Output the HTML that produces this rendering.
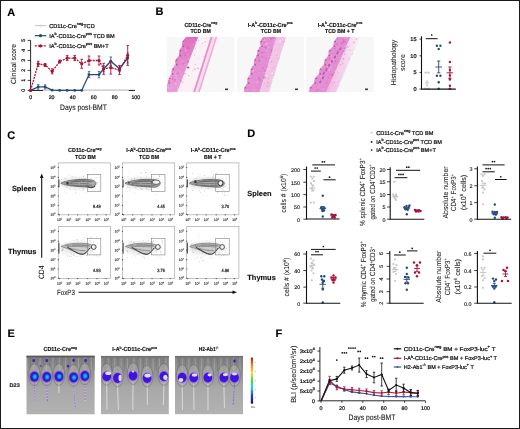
<!DOCTYPE html>
<html><head><meta charset="utf-8"><style>
html,body{margin:0;padding:0;background:#fff;}
svg{display:block;font-family:"Liberation Sans",sans-serif;will-change:transform;text-rendering:geometricPrecision;}
</style></head><body>
<svg width="520" height="429" viewBox="0 0 520 429">
<defs><path id="g10" d="M0.26 0V-0.27H0.86V-2.17L0.33 -1.78V-2.07L0.89 -2.48H1.16V-0.27H1.74V0Z M3.67 -1.24Q3.67 -0.62 3.46 -0.29Q3.25 0.04 2.85 0.04Q2.44 0.04 2.24 -0.29Q2.04 -0.62 2.04 -1.24Q2.04 -1.88 2.23 -2.2Q2.43 -2.51 2.86 -2.51Q3.27 -2.51 3.47 -2.19Q3.67 -1.87 3.67 -1.24ZM3.36 -1.24Q3.36 -1.78 3.25 -2.02Q3.13 -2.26 2.86 -2.26Q2.58 -2.26 2.46 -2.02Q2.34 -1.78 2.34 -1.24Q2.34 -0.71 2.46 -0.47Q2.59 -0.22 2.85 -0.22Q3.12 -0.22 3.24 -0.47Q3.36 -0.72 3.36 -1.24Z"/><path id="ge5" d="M1.17 -0.54Q1.17 -0.28 1.02 -0.13Q0.88 0.02 0.62 0.02Q0.4 0.02 0.26 -0.08Q0.13 -0.18 0.09 -0.37L0.29 -0.39Q0.36 -0.15 0.62 -0.15Q0.78 -0.15 0.87 -0.25Q0.96 -0.35 0.96 -0.53Q0.96 -0.69 0.87 -0.79Q0.78 -0.88 0.62 -0.88Q0.54 -0.88 0.47 -0.85Q0.4 -0.83 0.33 -0.76H0.14L0.19 -1.65H1.08V-1.47H0.37L0.34 -0.95Q0.47 -1.05 0.67 -1.05Q0.9 -1.05 1.03 -0.91Q1.17 -0.77 1.17 -0.54Z"/><path id="ge4" d="M0.98 -0.37V0H0.79V-0.37H0.05V-0.54L0.77 -1.65H0.98V-0.54H1.2V-0.37ZM0.79 -1.41Q0.79 -1.41 0.76 -1.35Q0.73 -1.3 0.72 -1.27L0.32 -0.65L0.25 -0.56L0.24 -0.54H0.79Z"/><path id="ge3" d="M1.17 -0.46Q1.17 -0.23 1.03 -0.1Q0.89 0.02 0.64 0.02Q0.4 0.02 0.26 -0.09Q0.11 -0.2 0.09 -0.42L0.29 -0.44Q0.33 -0.15 0.64 -0.15Q0.79 -0.15 0.87 -0.23Q0.96 -0.31 0.96 -0.46Q0.96 -0.6 0.86 -0.67Q0.76 -0.75 0.58 -0.75H0.46V-0.93H0.57Q0.74 -0.93 0.83 -1.01Q0.92 -1.08 0.92 -1.22Q0.92 -1.35 0.84 -1.43Q0.77 -1.5 0.62 -1.5Q0.49 -1.5 0.41 -1.43Q0.33 -1.36 0.32 -1.23L0.11 -1.25Q0.14 -1.45 0.27 -1.56Q0.41 -1.68 0.63 -1.68Q0.86 -1.68 0.99 -1.56Q1.12 -1.44 1.12 -1.24Q1.12 -1.08 1.04 -0.98Q0.96 -0.88 0.8 -0.85V-0.84Q0.97 -0.82 1.07 -0.72Q1.17 -0.61 1.17 -0.46Z"/><path id="ge2" d="M0.11 0V-0.15Q0.17 -0.29 0.25 -0.39Q0.34 -0.5 0.43 -0.58Q0.52 -0.67 0.6 -0.74Q0.69 -0.81 0.76 -0.88Q0.83 -0.96 0.88 -1.04Q0.92 -1.12 0.92 -1.22Q0.92 -1.35 0.85 -1.43Q0.77 -1.5 0.64 -1.5Q0.51 -1.5 0.43 -1.43Q0.34 -1.36 0.33 -1.22L0.12 -1.24Q0.15 -1.44 0.28 -1.56Q0.42 -1.68 0.64 -1.68Q0.87 -1.68 1 -1.56Q1.13 -1.44 1.13 -1.22Q1.13 -1.13 1.09 -1.03Q1.05 -0.94 0.96 -0.84Q0.88 -0.75 0.65 -0.55Q0.52 -0.44 0.44 -0.35Q0.37 -0.26 0.34 -0.18H1.15V0Z"/><path id="ge1" d="M0.17 0V-0.18H0.57V-1.45L0.22 -1.18V-1.38L0.59 -1.65H0.77V-0.18H1.16V0Z"/><path id="ge0" d="M1.18 -0.83Q1.18 -0.41 1.04 -0.19Q0.9 0.02 0.63 0.02Q0.36 0.02 0.22 -0.19Q0.09 -0.41 0.09 -0.83Q0.09 -1.25 0.22 -1.46Q0.35 -1.68 0.64 -1.68Q0.92 -1.68 1.05 -1.46Q1.18 -1.25 1.18 -0.83ZM0.98 -0.83Q0.98 -1.18 0.9 -1.34Q0.82 -1.5 0.64 -1.5Q0.45 -1.5 0.37 -1.35Q0.29 -1.19 0.29 -0.83Q0.29 -0.47 0.37 -0.31Q0.46 -0.15 0.63 -0.15Q0.81 -0.15 0.89 -0.32Q0.98 -0.48 0.98 -0.83Z"/></defs>
<rect width="520" height="429" fill="#fff"/>
<text x="7.2" y="16" font-size="11" font-weight="bold" fill="#000" stroke="#000" stroke-width="0.12">A</text>
<text x="155.6" y="15.4" font-size="11" font-weight="bold" fill="#000" stroke="#000" stroke-width="0.12">B</text>
<text x="7.2" y="138.8" font-size="11" font-weight="bold" fill="#000" stroke="#000" stroke-width="0.12">C</text>
<text x="247.2" y="136.5" font-size="11" font-weight="bold" fill="#000" stroke="#000" stroke-width="0.12">D</text>
<text x="7.6" y="337.2" font-size="11" font-weight="bold" fill="#000" stroke="#000" stroke-width="0.12">E</text>
<text x="275.4" y="336.8" font-size="11" font-weight="bold" fill="#000" stroke="#000" stroke-width="0.12">F</text>
<line x1="34.8" y1="25.7" x2="46.3" y2="25.7" stroke="#c4c4c4" stroke-width="1.0"/>
<circle cx="40.5" cy="25.7" r="0.9" fill="#c4c4c4"/>
<text x="49.2" y="27.7" font-size="5.6" textLength="45.5" lengthAdjust="spacingAndGlyphs" fill="#111" stroke="#111" stroke-width="0.22">CD11c-Cre<tspan font-size="3.8" dy="-2.8">neg</tspan><tspan dy="2.8">TCD</tspan></text>
<line x1="34.8" y1="35.7" x2="46.3" y2="35.7" stroke="#24497c" stroke-width="1.2"/>
<circle cx="40.5" cy="35.7" r="1.6" fill="#24497c"/>
<text x="49.2" y="37.7" font-size="5.6" textLength="65.5" lengthAdjust="spacingAndGlyphs" fill="#111" stroke="#111" stroke-width="0.22">IA<tspan font-size="3.8" dy="-2.8">b</tspan><tspan dy="2.8">-CD11c-Cre</tspan><tspan font-size="3.8" dy="-2.8">pos</tspan><tspan dy="2.8"> TCD BM</tspan></text>
<line x1="34.8" y1="45.9" x2="46.3" y2="45.9" stroke="#a8123a" stroke-width="1.2" stroke-dasharray="2 1"/>
<circle cx="40.5" cy="45.9" r="1.6" fill="#a8123a"/>
<text x="49.2" y="47.9" font-size="5.6" textLength="59.5" lengthAdjust="spacingAndGlyphs" fill="#111" stroke="#111" stroke-width="0.22">IA<tspan font-size="3.8" dy="-2.8">b</tspan><tspan dy="2.8">-CD11c-Cre</tspan><tspan font-size="3.8" dy="-2.8">pos</tspan><tspan dy="2.8"> BM+T</tspan></text>
<line x1="30.6" y1="40.3" x2="30.6" y2="90.80000000000001" stroke="#111" stroke-width="0.9"/>
<line x1="27.6" y1="90.4" x2="30.6" y2="90.4" stroke="#111" stroke-width="0.8"/>
<text x="23.6" y="90.4" font-size="5.2" text-anchor="middle" transform="rotate(-90 23.6 90.4)" fill="#111" stroke="#111" stroke-width="0.22" dominant-baseline="central">0</text>
<line x1="27.6" y1="80.4" x2="30.6" y2="80.4" stroke="#111" stroke-width="0.8"/>
<text x="23.6" y="80.4" font-size="5.2" text-anchor="middle" transform="rotate(-90 23.6 80.4)" fill="#111" stroke="#111" stroke-width="0.22" dominant-baseline="central">1</text>
<line x1="27.6" y1="70.4" x2="30.6" y2="70.4" stroke="#111" stroke-width="0.8"/>
<text x="23.6" y="70.4" font-size="5.2" text-anchor="middle" transform="rotate(-90 23.6 70.4)" fill="#111" stroke="#111" stroke-width="0.22" dominant-baseline="central">2</text>
<line x1="27.6" y1="60.400000000000006" x2="30.6" y2="60.400000000000006" stroke="#111" stroke-width="0.8"/>
<text x="23.6" y="60.400000000000006" font-size="5.2" text-anchor="middle" transform="rotate(-90 23.6 60.400000000000006)" fill="#111" stroke="#111" stroke-width="0.22" dominant-baseline="central">3</text>
<line x1="27.6" y1="50.400000000000006" x2="30.6" y2="50.400000000000006" stroke="#111" stroke-width="0.8"/>
<text x="23.6" y="50.400000000000006" font-size="5.2" text-anchor="middle" transform="rotate(-90 23.6 50.400000000000006)" fill="#111" stroke="#111" stroke-width="0.22" dominant-baseline="central">4</text>
<line x1="27.6" y1="40.400000000000006" x2="30.6" y2="40.400000000000006" stroke="#111" stroke-width="0.8"/>
<text x="23.6" y="40.400000000000006" font-size="5.2" text-anchor="middle" transform="rotate(-90 23.6 40.400000000000006)" fill="#111" stroke="#111" stroke-width="0.22" dominant-baseline="central">5</text>
<text x="30.6" y="98.5" font-size="5.2" text-anchor="middle" fill="#111" stroke="#111" stroke-width="0.22">0</text>
<text x="51.64" y="98.5" font-size="5.2" text-anchor="middle" fill="#111" stroke="#111" stroke-width="0.22">20</text>
<text x="72.68" y="98.5" font-size="5.2" text-anchor="middle" fill="#111" stroke="#111" stroke-width="0.22">40</text>
<text x="93.72" y="98.5" font-size="5.2" text-anchor="middle" fill="#111" stroke="#111" stroke-width="0.22">60</text>
<text x="114.75999999999999" y="98.5" font-size="5.2" text-anchor="middle" fill="#111" stroke="#111" stroke-width="0.22">80</text>
<text x="135.8" y="98.5" font-size="5.2" text-anchor="middle" fill="#111" stroke="#111" stroke-width="0.22">100</text>
<text x="16.3" y="64" font-size="7.4" text-anchor="middle" textLength="40" lengthAdjust="spacingAndGlyphs" transform="rotate(-90 16.3 64)" fill="#111" stroke="#111" stroke-width="0.06">Clinical score</text>
<text x="83.5" y="109.6" font-size="8" text-anchor="middle" textLength="46.8" lengthAdjust="spacingAndGlyphs" fill="#111" stroke="#111" stroke-width="0.08">Days post-BMT</text>
<line x1="30.6" y1="90.4" x2="135" y2="90.4" stroke="#111" stroke-width="1.0"/>
<polyline points="43.00,90.40 128.80,90.40" fill="none" stroke="#d0d0d0" stroke-width="1.1"/>
<polyline points="30.60,90.40 38.20,86.90 45.10,86.90 52.20,90.20 59.70,90.40 67.20,90.40 74.70,90.40 81.70,90.40 89.00,74.60 99.00,74.60 103.70,68.80 110.80,61.20 119.50,68.80 127.70,58.00" fill="none" stroke="#24497c" stroke-width="1.3"/>
<circle cx="30.6" cy="90.4" r="1.4" fill="#24497c"/>
<circle cx="38.2" cy="86.9" r="1.4" fill="#24497c"/>
<line x1="38.2" y1="84.7" x2="38.2" y2="89.10000000000001" stroke="#24497c" stroke-width="0.8"/>
<line x1="37.0" y1="84.7" x2="39.400000000000006" y2="84.7" stroke="#24497c" stroke-width="0.8"/>
<line x1="37.0" y1="89.10000000000001" x2="39.400000000000006" y2="89.10000000000001" stroke="#24497c" stroke-width="0.8"/>
<circle cx="45.1" cy="86.9" r="1.4" fill="#24497c"/>
<line x1="45.1" y1="84.9" x2="45.1" y2="88.9" stroke="#24497c" stroke-width="0.8"/>
<line x1="43.9" y1="84.9" x2="46.300000000000004" y2="84.9" stroke="#24497c" stroke-width="0.8"/>
<line x1="43.9" y1="88.9" x2="46.300000000000004" y2="88.9" stroke="#24497c" stroke-width="0.8"/>
<circle cx="52.2" cy="90.2" r="1.4" fill="#24497c"/>
<circle cx="59.7" cy="90.4" r="1.4" fill="#24497c"/>
<circle cx="67.2" cy="90.4" r="1.4" fill="#24497c"/>
<circle cx="74.7" cy="90.4" r="1.4" fill="#24497c"/>
<circle cx="81.7" cy="90.4" r="1.4" fill="#24497c"/>
<circle cx="89" cy="74.6" r="1.4" fill="#24497c"/>
<line x1="89" y1="71.6" x2="89" y2="77.6" stroke="#24497c" stroke-width="0.8"/>
<line x1="87.8" y1="71.6" x2="90.2" y2="71.6" stroke="#24497c" stroke-width="0.8"/>
<line x1="87.8" y1="77.6" x2="90.2" y2="77.6" stroke="#24497c" stroke-width="0.8"/>
<circle cx="99" cy="74.6" r="1.4" fill="#24497c"/>
<line x1="99" y1="71.39999999999999" x2="99" y2="77.8" stroke="#24497c" stroke-width="0.8"/>
<line x1="97.8" y1="71.39999999999999" x2="100.2" y2="71.39999999999999" stroke="#24497c" stroke-width="0.8"/>
<line x1="97.8" y1="77.8" x2="100.2" y2="77.8" stroke="#24497c" stroke-width="0.8"/>
<circle cx="103.7" cy="68.8" r="1.4" fill="#24497c"/>
<line x1="103.7" y1="65.8" x2="103.7" y2="71.8" stroke="#24497c" stroke-width="0.8"/>
<line x1="102.5" y1="65.8" x2="104.9" y2="65.8" stroke="#24497c" stroke-width="0.8"/>
<line x1="102.5" y1="71.8" x2="104.9" y2="71.8" stroke="#24497c" stroke-width="0.8"/>
<circle cx="110.8" cy="61.2" r="1.4" fill="#24497c"/>
<line x1="110.8" y1="57.0" x2="110.8" y2="65.4" stroke="#24497c" stroke-width="0.8"/>
<line x1="109.6" y1="57.0" x2="112.0" y2="57.0" stroke="#24497c" stroke-width="0.8"/>
<line x1="109.6" y1="65.4" x2="112.0" y2="65.4" stroke="#24497c" stroke-width="0.8"/>
<circle cx="119.5" cy="68.8" r="1.4" fill="#24497c"/>
<line x1="119.5" y1="65.8" x2="119.5" y2="71.8" stroke="#24497c" stroke-width="0.8"/>
<line x1="118.3" y1="65.8" x2="120.7" y2="65.8" stroke="#24497c" stroke-width="0.8"/>
<line x1="118.3" y1="71.8" x2="120.7" y2="71.8" stroke="#24497c" stroke-width="0.8"/>
<circle cx="127.7" cy="58" r="1.4" fill="#24497c"/>
<line x1="127.7" y1="53" x2="127.7" y2="63" stroke="#24497c" stroke-width="0.8"/>
<line x1="126.5" y1="53" x2="128.9" y2="53" stroke="#24497c" stroke-width="0.8"/>
<line x1="126.5" y1="63" x2="128.9" y2="63" stroke="#24497c" stroke-width="0.8"/>
<polyline points="30.60,90.40 38.20,63.80 45.10,65.00 52.20,71.30 59.70,61.50 67.20,58.10 74.70,58.10 81.70,63.80 89.00,60.50 99.00,60.50 103.70,68.80 110.80,67.60 119.50,70.10 127.70,55.40" fill="none" stroke="#a8123a" stroke-width="1.3" stroke-dasharray="2 1"/>
<circle cx="30.6" cy="90.4" r="1.6" fill="#a8123a"/>
<circle cx="38.2" cy="63.8" r="1.6" fill="#a8123a"/>
<line x1="38.2" y1="61.199999999999996" x2="38.2" y2="66.39999999999999" stroke="#a8123a" stroke-width="0.9"/>
<line x1="36.900000000000006" y1="61.199999999999996" x2="39.5" y2="61.199999999999996" stroke="#a8123a" stroke-width="0.9"/>
<line x1="36.900000000000006" y1="66.39999999999999" x2="39.5" y2="66.39999999999999" stroke="#a8123a" stroke-width="0.9"/>
<circle cx="45.1" cy="65.0" r="1.6" fill="#a8123a"/>
<line x1="45.1" y1="63.5" x2="45.1" y2="66.5" stroke="#a8123a" stroke-width="0.9"/>
<line x1="43.800000000000004" y1="63.5" x2="46.4" y2="63.5" stroke="#a8123a" stroke-width="0.9"/>
<line x1="43.800000000000004" y1="66.5" x2="46.4" y2="66.5" stroke="#a8123a" stroke-width="0.9"/>
<circle cx="52.2" cy="71.3" r="1.6" fill="#a8123a"/>
<line x1="52.2" y1="68.8" x2="52.2" y2="73.8" stroke="#a8123a" stroke-width="0.9"/>
<line x1="50.900000000000006" y1="68.8" x2="53.5" y2="68.8" stroke="#a8123a" stroke-width="0.9"/>
<line x1="50.900000000000006" y1="73.8" x2="53.5" y2="73.8" stroke="#a8123a" stroke-width="0.9"/>
<circle cx="59.7" cy="61.5" r="1.6" fill="#a8123a"/>
<line x1="59.7" y1="60.0" x2="59.7" y2="63.0" stroke="#a8123a" stroke-width="0.9"/>
<line x1="58.400000000000006" y1="60.0" x2="61.0" y2="60.0" stroke="#a8123a" stroke-width="0.9"/>
<line x1="58.400000000000006" y1="63.0" x2="61.0" y2="63.0" stroke="#a8123a" stroke-width="0.9"/>
<circle cx="67.2" cy="58.1" r="1.6" fill="#a8123a"/>
<line x1="67.2" y1="55.6" x2="67.2" y2="60.6" stroke="#a8123a" stroke-width="0.9"/>
<line x1="65.9" y1="55.6" x2="68.5" y2="55.6" stroke="#a8123a" stroke-width="0.9"/>
<line x1="65.9" y1="60.6" x2="68.5" y2="60.6" stroke="#a8123a" stroke-width="0.9"/>
<circle cx="74.7" cy="58.1" r="1.6" fill="#a8123a"/>
<line x1="74.7" y1="55.6" x2="74.7" y2="60.6" stroke="#a8123a" stroke-width="0.9"/>
<line x1="73.4" y1="55.6" x2="76.0" y2="55.6" stroke="#a8123a" stroke-width="0.9"/>
<line x1="73.4" y1="60.6" x2="76.0" y2="60.6" stroke="#a8123a" stroke-width="0.9"/>
<circle cx="81.7" cy="63.8" r="1.6" fill="#a8123a"/>
<line x1="81.7" y1="59.3" x2="81.7" y2="68.3" stroke="#a8123a" stroke-width="0.9"/>
<line x1="80.4" y1="59.3" x2="83.0" y2="59.3" stroke="#a8123a" stroke-width="0.9"/>
<line x1="80.4" y1="68.3" x2="83.0" y2="68.3" stroke="#a8123a" stroke-width="0.9"/>
<circle cx="89" cy="60.5" r="1.6" fill="#a8123a"/>
<line x1="89" y1="56.0" x2="89" y2="65.0" stroke="#a8123a" stroke-width="0.9"/>
<line x1="87.7" y1="56.0" x2="90.3" y2="56.0" stroke="#a8123a" stroke-width="0.9"/>
<line x1="87.7" y1="65.0" x2="90.3" y2="65.0" stroke="#a8123a" stroke-width="0.9"/>
<circle cx="99" cy="60.5" r="1.6" fill="#a8123a"/>
<line x1="99" y1="56.0" x2="99" y2="65.0" stroke="#a8123a" stroke-width="0.9"/>
<line x1="97.7" y1="56.0" x2="100.3" y2="56.0" stroke="#a8123a" stroke-width="0.9"/>
<line x1="97.7" y1="65.0" x2="100.3" y2="65.0" stroke="#a8123a" stroke-width="0.9"/>
<circle cx="103.7" cy="68.8" r="1.6" fill="#a8123a"/>
<line x1="103.7" y1="63.3" x2="103.7" y2="74.3" stroke="#a8123a" stroke-width="0.9"/>
<line x1="102.4" y1="63.3" x2="105.0" y2="63.3" stroke="#a8123a" stroke-width="0.9"/>
<line x1="102.4" y1="74.3" x2="105.0" y2="74.3" stroke="#a8123a" stroke-width="0.9"/>
<circle cx="110.8" cy="67.6" r="1.6" fill="#a8123a"/>
<line x1="110.8" y1="61.099999999999994" x2="110.8" y2="74.1" stroke="#a8123a" stroke-width="0.9"/>
<line x1="109.5" y1="61.099999999999994" x2="112.1" y2="61.099999999999994" stroke="#a8123a" stroke-width="0.9"/>
<line x1="109.5" y1="74.1" x2="112.1" y2="74.1" stroke="#a8123a" stroke-width="0.9"/>
<circle cx="119.5" cy="70.1" r="1.6" fill="#a8123a"/>
<line x1="119.5" y1="65.6" x2="119.5" y2="74.6" stroke="#a8123a" stroke-width="0.9"/>
<line x1="118.2" y1="65.6" x2="120.8" y2="65.6" stroke="#a8123a" stroke-width="0.9"/>
<line x1="118.2" y1="74.6" x2="120.8" y2="74.6" stroke="#a8123a" stroke-width="0.9"/>
<circle cx="127.7" cy="55.4" r="1.6" fill="#a8123a"/>
<line x1="127.7" y1="45.4" x2="127.7" y2="65.4" stroke="#a8123a" stroke-width="0.9"/>
<line x1="126.4" y1="45.4" x2="129.0" y2="45.4" stroke="#a8123a" stroke-width="0.9"/>
<line x1="126.4" y1="65.4" x2="129.0" y2="65.4" stroke="#a8123a" stroke-width="0.9"/>
<text x="200.9" y="26.900000000000002" font-size="5.8" text-anchor="middle" font-weight="bold" textLength="32.7" lengthAdjust="spacingAndGlyphs" fill="#111" stroke="#111" stroke-width="0.16">CD11c-Cre<tspan font-size="3.7" dy="-2.6">neg</tspan></text>
<text x="200.6" y="32.9" font-size="5.8" text-anchor="middle" font-weight="bold" textLength="20.4" lengthAdjust="spacingAndGlyphs" fill="#111" stroke="#111" stroke-width="0.16">TCD BM</text>
<text x="270.3" y="26.900000000000002" font-size="5.8" text-anchor="middle" font-weight="bold" textLength="45" lengthAdjust="spacingAndGlyphs" fill="#111" stroke="#111" stroke-width="0.16">I-A<tspan font-size="3.7" dy="-2.6">b</tspan><tspan dy="2.6">-CD11c-Cre</tspan><tspan font-size="3.7" dy="-2.6">pos</tspan></text>
<text x="270.9" y="32.9" font-size="5.8" text-anchor="middle" font-weight="bold" textLength="20.4" lengthAdjust="spacingAndGlyphs" fill="#111" stroke="#111" stroke-width="0.16">TCD BM</text>
<text x="340.1" y="26.900000000000002" font-size="5.8" text-anchor="middle" font-weight="bold" textLength="44.7" lengthAdjust="spacingAndGlyphs" fill="#111" stroke="#111" stroke-width="0.16">I-A<tspan font-size="3.7" dy="-2.6">b</tspan><tspan dy="2.6">-CD11c-Cre</tspan><tspan font-size="3.7" dy="-2.6">pos</tspan></text>
<text x="339.7" y="32.9" font-size="5.8" text-anchor="middle" font-weight="bold" textLength="29.4" lengthAdjust="spacingAndGlyphs" fill="#111" stroke="#111" stroke-width="0.16">TCD BM + T</text>
<defs>
<linearGradient id="pk1" x1="0" y1="0" x2="1" y2="0">
<stop offset="0" stop-color="#d85fb5"/><stop offset="0.5" stop-color="#e07cc6"/><stop offset="1" stop-color="#e596d2"/></linearGradient>
<linearGradient id="pk3" x1="0" y1="0" x2="1" y2="0">
<stop offset="0" stop-color="#e07ccc"/><stop offset="0.45" stop-color="#e596d8"/><stop offset="0.75" stop-color="#f0c4e6"/><stop offset="1" stop-color="#f6eef4"/></linearGradient>
<linearGradient id="band1" gradientUnits="userSpaceOnUse" x1="0" y1="37" x2="0" y2="92"><stop offset="0" stop-color="#e070c0"/><stop offset="0.5" stop-color="#e78ed0"/><stop offset="1" stop-color="#eaa4d8"/></linearGradient>
<linearGradient id="fade3" x1="0" y1="0" x2="1" y2="0"><stop offset="0" stop-color="#f0b8e2"/><stop offset="1" stop-color="#f6f0f5"/></linearGradient>
<filter id="htex" x="0" y="0" width="1" height="1"><feTurbulence type="fractalNoise" baseFrequency="0.45" numOctaves="2" seed="5" result="n"/><feColorMatrix in="n" type="matrix" values="0 0 0 0 0.70  0 0 0 0 0.22  0 0 0 0 0.62  2.2 0 0 0 -0.95" result="c"/><feComposite in="c" in2="SourceGraphic" operator="in"/></filter>
<filter id="blur1" x="-0.1" y="-0.1" width="1.2" height="1.2"><feGaussianBlur stdDeviation="0.6"/></filter>
<filter id="blur2" x="-0.2" y="-0.2" width="1.4" height="1.4"><feGaussianBlur stdDeviation="1.2"/></filter>
</defs>
<clipPath id="hc167"><rect x="167" y="37" width="67.5" height="55.3"/></clipPath>
<g clip-path="url(#hc167)">
<rect x="167" y="37" width="67.5" height="55.3" fill="#f8f7f8" stroke="none" stroke-width="0.8"/>
<polygon points="177.0,92.3 198.3,37.0 219.0,37.0 200.0,92.3" fill="#faf1f7" filter="url(#blur1)"/>
<circle cx="194.6" cy="54.9" r="0.73" fill="#e8a8d8" opacity="0.7"/>
<circle cx="182.9" cy="82.4" r="0.69" fill="#d898c8" opacity="0.7"/>
<circle cx="195.5" cy="48.9" r="0.61" fill="#e8a8d8" opacity="0.7"/>
<circle cx="205.2" cy="42.0" r="0.81" fill="#e8a8d8" opacity="0.7"/>
<circle cx="192.5" cy="89.4" r="0.69" fill="#e8a8d8" opacity="0.7"/>
<circle cx="194.7" cy="68.9" r="0.89" fill="#e8a8d8" opacity="0.7"/>
<circle cx="189.4" cy="67.8" r="0.61" fill="#d898c8" opacity="0.7"/>
<circle cx="202.3" cy="43.5" r="0.81" fill="#e8a8d8" opacity="0.7"/>
<circle cx="208.1" cy="42.7" r="0.49" fill="#e8a8d8" opacity="0.7"/>
<circle cx="188.0" cy="67.3" r="0.43" fill="#e8a8d8" opacity="0.7"/>
<circle cx="199.3" cy="64.5" r="0.79" fill="#f8f0f8" opacity="0.7"/>
<circle cx="195.8" cy="69.4" r="0.55" fill="#e8a8d8" opacity="0.7"/>
<circle cx="188.9" cy="75.7" r="0.69" fill="#d898c8" opacity="0.7"/>
<circle cx="195.3" cy="64.4" r="0.62" fill="#d898c8" opacity="0.7"/>
<circle cx="180.1" cy="91.2" r="0.61" fill="#f8f0f8" opacity="0.7"/>
<circle cx="205.4" cy="45.4" r="0.42" fill="#d898c8" opacity="0.7"/>
<circle cx="208.3" cy="41.3" r="0.79" fill="#f8f0f8" opacity="0.7"/>
<circle cx="198.6" cy="55.8" r="0.65" fill="#f8f0f8" opacity="0.7"/>
<circle cx="198.8" cy="40.8" r="0.53" fill="#d898c8" opacity="0.7"/>
<circle cx="185.5" cy="73.7" r="0.75" fill="#d898c8" opacity="0.7"/>
<circle cx="201.0" cy="69.0" r="0.62" fill="#d898c8" opacity="0.7"/>
<circle cx="204.5" cy="58.3" r="0.41" fill="#f8f0f8" opacity="0.7"/>
<circle cx="203.9" cy="56.7" r="0.65" fill="#e8a8d8" opacity="0.7"/>
<circle cx="184.8" cy="79.5" r="0.52" fill="#f8f0f8" opacity="0.7"/>
<circle cx="190.1" cy="87.7" r="0.48" fill="#f8f0f8" opacity="0.7"/>
<circle cx="206.0" cy="67.4" r="0.81" fill="#d898c8" opacity="0.7"/>
<circle cx="201.2" cy="52.4" r="0.58" fill="#f8f0f8" opacity="0.7"/>
<circle cx="181.4" cy="90.0" r="0.49" fill="#e8a8d8" opacity="0.7"/>
<circle cx="184.5" cy="73.4" r="0.82" fill="#e8a8d8" opacity="0.7"/>
<circle cx="192.8" cy="51.5" r="0.61" fill="#f8f0f8" opacity="0.7"/>
<circle cx="192.4" cy="70.7" r="0.46" fill="#d898c8" opacity="0.7"/>
<circle cx="193.0" cy="89.5" r="0.77" fill="#f8f0f8" opacity="0.7"/>
<circle cx="196.9" cy="86.7" r="0.84" fill="#d898c8" opacity="0.7"/>
<circle cx="198.6" cy="58.7" r="0.45" fill="#d898c8" opacity="0.7"/>
<circle cx="193.9" cy="59.1" r="0.89" fill="#f8f0f8" opacity="0.7"/>
<circle cx="202.0" cy="46.0" r="0.43" fill="#e8a8d8" opacity="0.7"/>
<circle cx="198.0" cy="68.3" r="0.87" fill="#d898c8" opacity="0.7"/>
<circle cx="215.9" cy="38.4" r="0.71" fill="#e8a8d8" opacity="0.7"/>
<circle cx="206.0" cy="72.1" r="0.7" fill="#f8f0f8" opacity="0.7"/>
<circle cx="213.5" cy="43.8" r="0.9" fill="#f8f0f8" opacity="0.7"/>
<line x1="213.8" y1="37" x2="196.3" y2="92.3" stroke="#f6dcec" stroke-width="4.5" filter="url(#blur1)"/>
<line x1="211.6" y1="37" x2="194.1" y2="92.3" stroke="#e690c8" stroke-width="1.8" filter="url(#blur1)"/>
<line x1="216.4" y1="37" x2="198.9" y2="92.3" stroke="#ecaad6" stroke-width="1.5" filter="url(#blur1)"/>
<polygon points="186.0,37.0 182.4,41.6 182.0,46.2 179.2,50.8 179.0,55.4 175.3,60.0 175.3,64.7 171.8,69.3 171.3,73.9 168.6,78.5 167.8,83.1 164.7,87.7 164.7,92.3 177.0,92.3 198.3,37.0" fill="url(#band1)" filter="url(#blur1)"/>
<polygon points="186.0,37.0 182.4,41.6 182.0,46.2 179.2,50.8 179.0,55.4 175.3,60.0 175.3,64.7 171.8,69.3 171.3,73.9 168.6,78.5 167.8,83.1 164.7,87.7 164.7,92.3 177.0,92.3 198.3,37.0" fill="#000" filter="url(#htex)" opacity="0.55"/>
<circle cx="172.7" cy="78.9" r="1.01" fill="#d860b8" opacity="0.5"/>
<circle cx="173.6" cy="75.5" r="0.79" fill="#f2b0e2" opacity="0.5"/>
<circle cx="180.4" cy="56.7" r="0.93" fill="#cc68bc" opacity="0.5"/>
<circle cx="179.6" cy="72.2" r="1.13" fill="#f2b0e2" opacity="0.5"/>
<circle cx="178.7" cy="81.6" r="1.09" fill="#f2b0e2" opacity="0.5"/>
<circle cx="187.4" cy="48.1" r="1.08" fill="#d860b8" opacity="0.5"/>
<circle cx="174.4" cy="80.7" r="0.65" fill="#cc68bc" opacity="0.5"/>
<circle cx="187.9" cy="61.7" r="1.29" fill="#cc68bc" opacity="0.5"/>
<circle cx="184.8" cy="41.5" r="0.88" fill="#cc68bc" opacity="0.5"/>
<circle cx="189.0" cy="48.3" r="1.22" fill="#d860b8" opacity="0.5"/>
<circle cx="183.5" cy="63.5" r="1.14" fill="#d860b8" opacity="0.5"/>
<circle cx="168.7" cy="83.2" r="0.81" fill="#f2b0e2" opacity="0.5"/>
<circle cx="177.2" cy="63.4" r="1.13" fill="#cc68bc" opacity="0.5"/>
<circle cx="195.7" cy="41.8" r="1.08" fill="#f6c4ea" opacity="0.5"/>
<circle cx="189.0" cy="59.2" r="1.08" fill="#f2b0e2" opacity="0.5"/>
<circle cx="164.0" cy="91.9" r="0.97" fill="#f6c4ea" opacity="0.5"/>
<circle cx="169.7" cy="81.6" r="1.16" fill="#f6c4ea" opacity="0.5"/>
<circle cx="175.6" cy="73.3" r="0.94" fill="#f2b0e2" opacity="0.5"/>
<circle cx="195.2" cy="38.2" r="1.08" fill="#d860b8" opacity="0.5"/>
<circle cx="186.2" cy="66.1" r="0.85" fill="#f2b0e2" opacity="0.5"/>
<circle cx="170.1" cy="82.7" r="0.7" fill="#cc68bc" opacity="0.5"/>
<circle cx="184.5" cy="64.7" r="0.76" fill="#f6c4ea" opacity="0.5"/>
<circle cx="167.9" cy="83.1" r="1.09" fill="#f6c4ea" opacity="0.5"/>
<circle cx="181.7" cy="73.6" r="0.91" fill="#f2b0e2" opacity="0.5"/>
<circle cx="180.6" cy="66.4" r="0.51" fill="#f6c4ea" opacity="0.5"/>
<circle cx="176.5" cy="79.9" r="1.12" fill="#f2b0e2" opacity="0.5"/>
<circle cx="187.7" cy="46.5" r="1.08" fill="#d860b8" opacity="0.5"/>
<circle cx="185.0" cy="55.0" r="0.94" fill="#d860b8" opacity="0.5"/>
<circle cx="166.8" cy="85.8" r="0.65" fill="#d860b8" opacity="0.5"/>
<circle cx="175.2" cy="79.7" r="0.95" fill="#d860b8" opacity="0.5"/>
<circle cx="183.7" cy="61.5" r="0.9" fill="#f2b0e2" opacity="0.5"/>
<circle cx="176.2" cy="75.3" r="0.93" fill="#f6c4ea" opacity="0.5"/>
<circle cx="177.5" cy="65.1" r="0.92" fill="#cc68bc" opacity="0.5"/>
<circle cx="177.2" cy="88.0" r="0.66" fill="#f6c4ea" opacity="0.5"/>
<circle cx="183.8" cy="44.6" r="0.85" fill="#d860b8" opacity="0.5"/>
<circle cx="176.4" cy="74.1" r="0.67" fill="#cc68bc" opacity="0.5"/>
<circle cx="180.2" cy="80.4" r="0.62" fill="#cc68bc" opacity="0.5"/>
<circle cx="193.7" cy="44.9" r="1.27" fill="#f2b0e2" opacity="0.5"/>
<circle cx="170.3" cy="78.3" r="1.21" fill="#f2b0e2" opacity="0.5"/>
<circle cx="175.0" cy="91.7" r="0.63" fill="#f6c4ea" opacity="0.5"/>
<circle cx="169.1" cy="92.0" r="0.84" fill="#cc68bc" opacity="0.5"/>
<circle cx="187.8" cy="54.6" r="0.52" fill="#f6c4ea" opacity="0.5"/>
<circle cx="175.9" cy="61.4" r="0.77" fill="#cc68bc" opacity="0.5"/>
<circle cx="174.9" cy="65.3" r="1.29" fill="#f2b0e2" opacity="0.5"/>
<circle cx="165.5" cy="90.7" r="0.71" fill="#d860b8" opacity="0.5"/>
<circle cx="168.0" cy="87.1" r="1.1" fill="#f6c4ea" opacity="0.5"/>
<circle cx="175.8" cy="84.0" r="1.26" fill="#f6c4ea" opacity="0.5"/>
<circle cx="194.1" cy="45.3" r="0.96" fill="#cc68bc" opacity="0.5"/>
<circle cx="184.0" cy="41.9" r="1.05" fill="#f6c4ea" opacity="0.5"/>
<circle cx="169.4" cy="86.5" r="0.51" fill="#d860b8" opacity="0.5"/>
<circle cx="168.9" cy="81.3" r="1.18" fill="#d860b8" opacity="0.5"/>
<circle cx="181.1" cy="51.6" r="0.51" fill="#f6c4ea" opacity="0.5"/>
<circle cx="168.7" cy="88.2" r="0.6" fill="#f2b0e2" opacity="0.5"/>
<circle cx="177.9" cy="88.9" r="0.71" fill="#f2b0e2" opacity="0.5"/>
<circle cx="184.9" cy="48.2" r="0.74" fill="#f2b0e2" opacity="0.5"/>
<circle cx="185.5" cy="53.0" r="0.64" fill="#cc68bc" opacity="0.5"/>
<circle cx="181.1" cy="81.4" r="0.53" fill="#d860b8" opacity="0.5"/>
<circle cx="176.7" cy="77.5" r="0.65" fill="#f6c4ea" opacity="0.5"/>
<circle cx="185.8" cy="50.6" r="1.03" fill="#f6c4ea" opacity="0.5"/>
<circle cx="178.2" cy="73.3" r="1.21" fill="#cc68bc" opacity="0.5"/>
<circle cx="183.8" cy="41.6" r="0.8" fill="#9a3a90" opacity="0.75"/>
<circle cx="183.4" cy="46.2" r="0.8" fill="#9a3a90" opacity="0.75"/>
<circle cx="180.6" cy="50.8" r="0.8" fill="#9a3a90" opacity="0.75"/>
<circle cx="180.4" cy="55.4" r="0.8" fill="#9a3a90" opacity="0.75"/>
<circle cx="176.7" cy="60.0" r="0.8" fill="#9a3a90" opacity="0.75"/>
<circle cx="176.7" cy="64.7" r="0.8" fill="#9a3a90" opacity="0.75"/>
<circle cx="173.2" cy="69.3" r="0.8" fill="#9a3a90" opacity="0.75"/>
<circle cx="172.7" cy="73.9" r="0.8" fill="#9a3a90" opacity="0.75"/>
<circle cx="170.0" cy="78.5" r="0.8" fill="#9a3a90" opacity="0.75"/>
<circle cx="169.2" cy="83.1" r="0.8" fill="#9a3a90" opacity="0.75"/>
<circle cx="166.1" cy="87.7" r="0.8" fill="#9a3a90" opacity="0.75"/>
</g>
<circle cx="188" cy="67.5" r="1.1" fill="#7a3070" opacity="0.8"/>
<rect x="225" y="88.5" width="3" height="1.6" fill="#2a4a2a" stroke="none" stroke-width="0.8"/>
<clipPath id="hc237"><rect x="237" y="37" width="67.2" height="55.3"/></clipPath>
<g clip-path="url(#hc237)">
<rect x="237" y="37" width="67.2" height="55.3" fill="#f8f7f8" stroke="none" stroke-width="0.8"/>
<polygon points="259.5,92.3 276.5,37.0 286.0,37.0 269.0,92.3" fill="#f0c6e4" filter="url(#blur1)"/>
<circle cx="274.1" cy="75.0" r="0.57" fill="#d898c8" opacity="0.7"/>
<circle cx="265.4" cy="77.3" r="0.89" fill="#e8a8d8" opacity="0.7"/>
<circle cx="262.4" cy="83.3" r="0.71" fill="#f8f0f8" opacity="0.7"/>
<circle cx="269.7" cy="60.8" r="0.73" fill="#f8f0f8" opacity="0.7"/>
<circle cx="268.1" cy="85.1" r="0.54" fill="#e8a8d8" opacity="0.7"/>
<circle cx="265.2" cy="75.3" r="0.49" fill="#f8f0f8" opacity="0.7"/>
<circle cx="271.4" cy="61.7" r="0.88" fill="#d898c8" opacity="0.7"/>
<circle cx="271.3" cy="54.9" r="0.84" fill="#e8a8d8" opacity="0.7"/>
<circle cx="270.4" cy="56.7" r="0.59" fill="#f8f0f8" opacity="0.7"/>
<circle cx="278.0" cy="52.4" r="0.52" fill="#e8a8d8" opacity="0.7"/>
<circle cx="282.7" cy="42.0" r="0.47" fill="#d898c8" opacity="0.7"/>
<circle cx="276.0" cy="39.3" r="0.55" fill="#e8a8d8" opacity="0.7"/>
<circle cx="284.2" cy="41.7" r="0.83" fill="#e8a8d8" opacity="0.7"/>
<circle cx="272.1" cy="73.4" r="0.84" fill="#f8f0f8" opacity="0.7"/>
<circle cx="270.4" cy="79.3" r="0.65" fill="#f8f0f8" opacity="0.7"/>
<circle cx="270.3" cy="77.0" r="0.42" fill="#d898c8" opacity="0.7"/>
<circle cx="267.3" cy="86.3" r="0.77" fill="#d898c8" opacity="0.7"/>
<circle cx="279.1" cy="44.7" r="0.65" fill="#e8a8d8" opacity="0.7"/>
<circle cx="268.0" cy="82.7" r="0.85" fill="#d898c8" opacity="0.7"/>
<circle cx="266.4" cy="89.9" r="0.44" fill="#e8a8d8" opacity="0.7"/>
<circle cx="277.7" cy="44.4" r="0.45" fill="#f8f0f8" opacity="0.7"/>
<circle cx="273.0" cy="67.9" r="0.71" fill="#d898c8" opacity="0.7"/>
<circle cx="274.8" cy="50.5" r="0.63" fill="#e8a8d8" opacity="0.7"/>
<circle cx="268.6" cy="78.4" r="0.67" fill="#d898c8" opacity="0.7"/>
<circle cx="274.6" cy="66.1" r="0.64" fill="#e8a8d8" opacity="0.7"/>
<circle cx="264.3" cy="83.8" r="0.78" fill="#e8a8d8" opacity="0.7"/>
<circle cx="273.2" cy="77.9" r="0.65" fill="#f8f0f8" opacity="0.7"/>
<circle cx="283.8" cy="41.2" r="0.54" fill="#e8a8d8" opacity="0.7"/>
<circle cx="272.1" cy="71.1" r="0.44" fill="#e8a8d8" opacity="0.7"/>
<circle cx="277.0" cy="55.3" r="0.75" fill="#d898c8" opacity="0.7"/>
<circle cx="267.0" cy="68.4" r="0.43" fill="#f8f0f8" opacity="0.7"/>
<circle cx="260.9" cy="90.8" r="0.51" fill="#f8f0f8" opacity="0.7"/>
<circle cx="276.5" cy="53.1" r="0.63" fill="#f8f0f8" opacity="0.7"/>
<circle cx="272.9" cy="79.4" r="0.67" fill="#f8f0f8" opacity="0.7"/>
<circle cx="268.8" cy="91.1" r="0.41" fill="#f8f0f8" opacity="0.7"/>
<circle cx="280.0" cy="41.2" r="0.9" fill="#f8f0f8" opacity="0.7"/>
<circle cx="278.6" cy="58.4" r="0.87" fill="#e8a8d8" opacity="0.7"/>
<circle cx="268.0" cy="69.2" r="0.66" fill="#f8f0f8" opacity="0.7"/>
<circle cx="282.0" cy="44.3" r="0.65" fill="#e8a8d8" opacity="0.7"/>
<circle cx="266.7" cy="75.9" r="0.85" fill="#f8f0f8" opacity="0.7"/>
<polygon points="263.3,37.0 259.9,41.6 260.6,46.2 257.2,50.8 256.9,55.4 254.1,60.0 253.8,64.7 250.5,69.3 250.3,73.9 247.3,78.5 247.3,83.1 244.1,87.7 244.2,92.3 259.5,92.3 276.5,37.0" fill="#e690d4" filter="url(#blur1)"/>
<polygon points="263.3,37.0 259.9,41.6 260.6,46.2 257.2,50.8 256.9,55.4 254.1,60.0 253.8,64.7 250.5,69.3 250.3,73.9 247.3,78.5 247.3,83.1 244.1,87.7 244.2,92.3 259.5,92.3 276.5,37.0" fill="#000" filter="url(#htex)" opacity="0.55"/>
<circle cx="247.8" cy="89.0" r="0.51" fill="#cc68bc" opacity="0.5"/>
<circle cx="258.7" cy="51.0" r="0.81" fill="#d860b8" opacity="0.5"/>
<circle cx="262.0" cy="56.9" r="0.72" fill="#d860b8" opacity="0.5"/>
<circle cx="258.0" cy="52.5" r="1.03" fill="#f2b0e2" opacity="0.5"/>
<circle cx="261.7" cy="50.8" r="0.91" fill="#f2b0e2" opacity="0.5"/>
<circle cx="260.0" cy="79.8" r="0.84" fill="#d860b8" opacity="0.5"/>
<circle cx="256.9" cy="81.9" r="1.23" fill="#f2b0e2" opacity="0.5"/>
<circle cx="249.6" cy="76.8" r="1.09" fill="#f6c4ea" opacity="0.5"/>
<circle cx="253.0" cy="71.0" r="1.2" fill="#f6c4ea" opacity="0.5"/>
<circle cx="274.6" cy="39.7" r="0.6" fill="#f6c4ea" opacity="0.5"/>
<circle cx="258.8" cy="59.9" r="0.7" fill="#cc68bc" opacity="0.5"/>
<circle cx="258.4" cy="59.5" r="0.89" fill="#f6c4ea" opacity="0.5"/>
<circle cx="269.4" cy="43.6" r="0.56" fill="#f6c4ea" opacity="0.5"/>
<circle cx="258.9" cy="67.4" r="0.77" fill="#f6c4ea" opacity="0.5"/>
<circle cx="262.5" cy="60.6" r="0.7" fill="#f2b0e2" opacity="0.5"/>
<circle cx="257.4" cy="55.9" r="0.69" fill="#cc68bc" opacity="0.5"/>
<circle cx="250.3" cy="81.8" r="0.52" fill="#f6c4ea" opacity="0.5"/>
<circle cx="266.3" cy="58.2" r="0.67" fill="#cc68bc" opacity="0.5"/>
<circle cx="257.0" cy="55.7" r="0.72" fill="#cc68bc" opacity="0.5"/>
<circle cx="267.3" cy="44.0" r="1.0" fill="#f2b0e2" opacity="0.5"/>
<circle cx="273.5" cy="42.1" r="0.81" fill="#f6c4ea" opacity="0.5"/>
<circle cx="259.0" cy="60.9" r="1.15" fill="#d860b8" opacity="0.5"/>
<circle cx="266.2" cy="44.0" r="1.11" fill="#f6c4ea" opacity="0.5"/>
<circle cx="251.9" cy="90.5" r="0.56" fill="#f6c4ea" opacity="0.5"/>
<circle cx="248.0" cy="90.8" r="0.59" fill="#f2b0e2" opacity="0.5"/>
<circle cx="273.5" cy="45.4" r="0.59" fill="#f6c4ea" opacity="0.5"/>
<circle cx="271.9" cy="41.7" r="0.5" fill="#f2b0e2" opacity="0.5"/>
<circle cx="271.4" cy="49.9" r="1.02" fill="#cc68bc" opacity="0.5"/>
<circle cx="254.2" cy="90.2" r="0.92" fill="#f6c4ea" opacity="0.5"/>
<circle cx="251.0" cy="75.6" r="0.56" fill="#f2b0e2" opacity="0.5"/>
<circle cx="258.5" cy="58.5" r="0.98" fill="#d860b8" opacity="0.5"/>
<circle cx="267.3" cy="66.7" r="0.72" fill="#cc68bc" opacity="0.5"/>
<circle cx="263.8" cy="72.6" r="0.88" fill="#f2b0e2" opacity="0.5"/>
<circle cx="252.6" cy="67.2" r="0.83" fill="#cc68bc" opacity="0.5"/>
<circle cx="264.3" cy="40.1" r="1.21" fill="#f6c4ea" opacity="0.5"/>
<circle cx="264.3" cy="41.5" r="0.84" fill="#cc68bc" opacity="0.5"/>
<circle cx="258.8" cy="49.5" r="0.77" fill="#f6c4ea" opacity="0.5"/>
<circle cx="261.5" cy="57.0" r="0.51" fill="#cc68bc" opacity="0.5"/>
<circle cx="256.3" cy="77.9" r="0.66" fill="#f2b0e2" opacity="0.5"/>
<circle cx="268.6" cy="54.2" r="0.68" fill="#f2b0e2" opacity="0.5"/>
<circle cx="270.4" cy="51.7" r="0.59" fill="#f6c4ea" opacity="0.5"/>
<circle cx="264.6" cy="70.7" r="0.89" fill="#d860b8" opacity="0.5"/>
<circle cx="246.8" cy="89.5" r="0.81" fill="#f2b0e2" opacity="0.5"/>
<circle cx="270.5" cy="38.3" r="0.83" fill="#d860b8" opacity="0.5"/>
<circle cx="265.5" cy="47.2" r="1.07" fill="#cc68bc" opacity="0.5"/>
<circle cx="264.0" cy="77.5" r="1.25" fill="#cc68bc" opacity="0.5"/>
<circle cx="268.3" cy="47.5" r="0.92" fill="#f6c4ea" opacity="0.5"/>
<circle cx="271.3" cy="38.8" r="0.8" fill="#cc68bc" opacity="0.5"/>
<circle cx="250.9" cy="91.5" r="0.59" fill="#d860b8" opacity="0.5"/>
<circle cx="262.3" cy="52.5" r="1.26" fill="#d860b8" opacity="0.5"/>
<circle cx="263.3" cy="68.0" r="0.8" fill="#cc68bc" opacity="0.5"/>
<circle cx="253.7" cy="82.5" r="0.54" fill="#f6c4ea" opacity="0.5"/>
<circle cx="266.6" cy="47.8" r="0.86" fill="#cc68bc" opacity="0.5"/>
<circle cx="268.8" cy="57.1" r="0.52" fill="#f6c4ea" opacity="0.5"/>
<circle cx="266.9" cy="50.7" r="0.82" fill="#f6c4ea" opacity="0.5"/>
<circle cx="262.8" cy="38.9" r="1.24" fill="#cc68bc" opacity="0.5"/>
<circle cx="259.8" cy="47.8" r="0.98" fill="#cc68bc" opacity="0.5"/>
<circle cx="271.3" cy="52.1" r="0.99" fill="#cc68bc" opacity="0.5"/>
<circle cx="259.0" cy="78.3" r="1.24" fill="#cc68bc" opacity="0.5"/>
<circle cx="273.0" cy="37.2" r="1.23" fill="#d860b8" opacity="0.5"/>
<circle cx="261.3" cy="41.6" r="0.8" fill="#9a3a90" opacity="0.75"/>
<circle cx="262.0" cy="46.2" r="0.8" fill="#9a3a90" opacity="0.75"/>
<circle cx="258.6" cy="50.8" r="0.8" fill="#9a3a90" opacity="0.75"/>
<circle cx="258.3" cy="55.4" r="0.8" fill="#9a3a90" opacity="0.75"/>
<circle cx="255.5" cy="60.0" r="0.8" fill="#9a3a90" opacity="0.75"/>
<circle cx="255.2" cy="64.7" r="0.8" fill="#9a3a90" opacity="0.75"/>
<circle cx="251.9" cy="69.3" r="0.8" fill="#9a3a90" opacity="0.75"/>
<circle cx="251.7" cy="73.9" r="0.8" fill="#9a3a90" opacity="0.75"/>
<circle cx="248.7" cy="78.5" r="0.8" fill="#9a3a90" opacity="0.75"/>
<circle cx="248.7" cy="83.1" r="0.8" fill="#9a3a90" opacity="0.75"/>
<circle cx="245.5" cy="87.7" r="0.8" fill="#9a3a90" opacity="0.75"/>
</g>
<rect x="295" y="88.5" width="3" height="1.6" fill="#2a4a2a" stroke="none" stroke-width="0.8"/>
<clipPath id="hc306"><rect x="306" y="37" width="68" height="55.3"/></clipPath>
<g clip-path="url(#hc306)">
<rect x="306" y="37" width="68" height="55.3" fill="#f8f7f8" stroke="none" stroke-width="0.8"/>
<polygon points="326.2,92.3 350.4,37.0 360.0,37.0 336.0,92.3" fill="url(#fade3)" filter="url(#blur1)"/>
<circle cx="352.1" cy="38.3" r="0.64" fill="#f8f0f8" opacity="0.7"/>
<circle cx="331.1" cy="89.8" r="0.53" fill="#f8f0f8" opacity="0.7"/>
<circle cx="332.0" cy="82.1" r="0.65" fill="#e8a8d8" opacity="0.7"/>
<circle cx="338.2" cy="81.4" r="0.81" fill="#e8a8d8" opacity="0.7"/>
<circle cx="338.9" cy="70.6" r="0.56" fill="#f8f0f8" opacity="0.7"/>
<circle cx="337.2" cy="80.3" r="0.66" fill="#f8f0f8" opacity="0.7"/>
<circle cx="334.6" cy="78.6" r="0.43" fill="#e8a8d8" opacity="0.7"/>
<circle cx="344.0" cy="63.6" r="0.48" fill="#f8f0f8" opacity="0.7"/>
<circle cx="338.7" cy="85.9" r="0.53" fill="#e8a8d8" opacity="0.7"/>
<circle cx="349.4" cy="48.5" r="0.89" fill="#f8f0f8" opacity="0.7"/>
<circle cx="347.5" cy="46.6" r="0.63" fill="#d898c8" opacity="0.7"/>
<circle cx="349.9" cy="50.0" r="0.79" fill="#e8a8d8" opacity="0.7"/>
<circle cx="334.4" cy="80.1" r="0.54" fill="#f8f0f8" opacity="0.7"/>
<circle cx="348.5" cy="57.6" r="0.5" fill="#e8a8d8" opacity="0.7"/>
<circle cx="348.2" cy="47.3" r="0.54" fill="#d898c8" opacity="0.7"/>
<circle cx="346.5" cy="47.4" r="0.53" fill="#e8a8d8" opacity="0.7"/>
<circle cx="340.4" cy="65.1" r="0.8" fill="#d898c8" opacity="0.7"/>
<circle cx="339.5" cy="62.7" r="0.4" fill="#e8a8d8" opacity="0.7"/>
<circle cx="339.0" cy="83.5" r="0.42" fill="#f8f0f8" opacity="0.7"/>
<circle cx="345.3" cy="49.9" r="0.7" fill="#d898c8" opacity="0.7"/>
<circle cx="346.4" cy="47.7" r="0.66" fill="#e8a8d8" opacity="0.7"/>
<circle cx="342.1" cy="61.8" r="0.79" fill="#e8a8d8" opacity="0.7"/>
<circle cx="353.6" cy="42.8" r="0.71" fill="#e8a8d8" opacity="0.7"/>
<circle cx="352.8" cy="39.1" r="0.42" fill="#f8f0f8" opacity="0.7"/>
<circle cx="356.5" cy="39.1" r="0.86" fill="#e8a8d8" opacity="0.7"/>
<circle cx="334.6" cy="82.3" r="0.59" fill="#d898c8" opacity="0.7"/>
<circle cx="344.8" cy="54.3" r="0.8" fill="#d898c8" opacity="0.7"/>
<circle cx="342.7" cy="63.7" r="0.8" fill="#d898c8" opacity="0.7"/>
<circle cx="343.3" cy="67.4" r="0.45" fill="#e8a8d8" opacity="0.7"/>
<circle cx="343.4" cy="59.0" r="0.89" fill="#d898c8" opacity="0.7"/>
<circle cx="352.2" cy="54.0" r="0.56" fill="#d898c8" opacity="0.7"/>
<circle cx="333.1" cy="85.9" r="0.41" fill="#f8f0f8" opacity="0.7"/>
<circle cx="338.6" cy="72.6" r="0.6" fill="#e8a8d8" opacity="0.7"/>
<circle cx="341.4" cy="61.0" r="0.46" fill="#e8a8d8" opacity="0.7"/>
<circle cx="349.1" cy="59.5" r="0.63" fill="#e8a8d8" opacity="0.7"/>
<circle cx="347.8" cy="44.2" r="0.47" fill="#f8f0f8" opacity="0.7"/>
<circle cx="354.2" cy="41.9" r="0.59" fill="#d898c8" opacity="0.7"/>
<circle cx="349.6" cy="46.5" r="0.48" fill="#e8a8d8" opacity="0.7"/>
<circle cx="329.1" cy="88.2" r="0.65" fill="#e8a8d8" opacity="0.7"/>
<circle cx="351.2" cy="53.7" r="0.42" fill="#f8f0f8" opacity="0.7"/>
<polygon points="337.6,37.0 333.9,41.6 333.1,46.2 328.6,50.8 328.4,55.4 324.4,60.0 323.8,64.7 319.5,69.3 318.9,73.9 314.7,78.5 313.9,83.1 309.5,87.7 309.0,92.3 326.2,92.3 350.4,37.0" fill="#e690d4" filter="url(#blur1)"/>
<polygon points="337.6,37.0 333.9,41.6 333.1,46.2 328.6,50.8 328.4,55.4 324.4,60.0 323.8,64.7 319.5,69.3 318.9,73.9 314.7,78.5 313.9,83.1 309.5,87.7 309.0,92.3 326.2,92.3 350.4,37.0" fill="#000" filter="url(#htex)" opacity="0.55"/>
<circle cx="321.4" cy="68.3" r="1.25" fill="#f2b0e2" opacity="0.5"/>
<circle cx="327.8" cy="58.2" r="0.7" fill="#f2b0e2" opacity="0.5"/>
<circle cx="343.5" cy="39.3" r="1.11" fill="#d860b8" opacity="0.5"/>
<circle cx="323.1" cy="73.9" r="0.81" fill="#f6c4ea" opacity="0.5"/>
<circle cx="331.1" cy="67.4" r="0.74" fill="#f6c4ea" opacity="0.5"/>
<circle cx="331.8" cy="54.0" r="0.81" fill="#cc68bc" opacity="0.5"/>
<circle cx="330.9" cy="61.7" r="0.52" fill="#f6c4ea" opacity="0.5"/>
<circle cx="330.5" cy="62.7" r="0.99" fill="#f6c4ea" opacity="0.5"/>
<circle cx="326.9" cy="83.3" r="0.82" fill="#d860b8" opacity="0.5"/>
<circle cx="339.3" cy="44.1" r="0.57" fill="#f6c4ea" opacity="0.5"/>
<circle cx="332.8" cy="64.9" r="0.53" fill="#f2b0e2" opacity="0.5"/>
<circle cx="344.7" cy="41.5" r="1.12" fill="#d860b8" opacity="0.5"/>
<circle cx="342.3" cy="40.0" r="0.8" fill="#f2b0e2" opacity="0.5"/>
<circle cx="337.2" cy="38.4" r="0.99" fill="#d860b8" opacity="0.5"/>
<circle cx="345.5" cy="47.7" r="0.89" fill="#f2b0e2" opacity="0.5"/>
<circle cx="329.2" cy="74.9" r="0.68" fill="#cc68bc" opacity="0.5"/>
<circle cx="323.5" cy="70.8" r="0.76" fill="#cc68bc" opacity="0.5"/>
<circle cx="319.0" cy="87.0" r="0.7" fill="#f6c4ea" opacity="0.5"/>
<circle cx="334.8" cy="48.5" r="0.9" fill="#cc68bc" opacity="0.5"/>
<circle cx="329.3" cy="57.6" r="0.82" fill="#cc68bc" opacity="0.5"/>
<circle cx="332.2" cy="74.6" r="0.63" fill="#cc68bc" opacity="0.5"/>
<circle cx="341.1" cy="43.4" r="1.01" fill="#cc68bc" opacity="0.5"/>
<circle cx="317.3" cy="90.4" r="0.92" fill="#d860b8" opacity="0.5"/>
<circle cx="337.5" cy="50.9" r="1.19" fill="#cc68bc" opacity="0.5"/>
<circle cx="343.9" cy="51.6" r="0.96" fill="#cc68bc" opacity="0.5"/>
<circle cx="328.7" cy="55.3" r="0.68" fill="#d860b8" opacity="0.5"/>
<circle cx="336.1" cy="53.4" r="0.75" fill="#cc68bc" opacity="0.5"/>
<circle cx="328.4" cy="77.5" r="0.68" fill="#cc68bc" opacity="0.5"/>
<circle cx="326.3" cy="71.1" r="0.91" fill="#d860b8" opacity="0.5"/>
<circle cx="336.4" cy="44.3" r="1.02" fill="#d860b8" opacity="0.5"/>
<circle cx="343.2" cy="40.0" r="0.74" fill="#cc68bc" opacity="0.5"/>
<circle cx="328.2" cy="66.5" r="0.74" fill="#f2b0e2" opacity="0.5"/>
<circle cx="340.1" cy="48.3" r="0.88" fill="#f2b0e2" opacity="0.5"/>
<circle cx="347.4" cy="37.8" r="1.07" fill="#f6c4ea" opacity="0.5"/>
<circle cx="343.1" cy="42.3" r="1.2" fill="#cc68bc" opacity="0.5"/>
<circle cx="329.5" cy="59.2" r="0.51" fill="#cc68bc" opacity="0.5"/>
<circle cx="329.2" cy="69.9" r="0.98" fill="#f6c4ea" opacity="0.5"/>
<circle cx="343.0" cy="50.7" r="0.54" fill="#d860b8" opacity="0.5"/>
<circle cx="328.9" cy="59.5" r="0.55" fill="#d860b8" opacity="0.5"/>
<circle cx="344.1" cy="37.7" r="1.25" fill="#f2b0e2" opacity="0.5"/>
<circle cx="333.0" cy="59.8" r="1.01" fill="#f6c4ea" opacity="0.5"/>
<circle cx="316.6" cy="82.0" r="0.75" fill="#cc68bc" opacity="0.5"/>
<circle cx="335.2" cy="71.6" r="1.08" fill="#f6c4ea" opacity="0.5"/>
<circle cx="316.5" cy="76.6" r="1.18" fill="#f6c4ea" opacity="0.5"/>
<circle cx="343.7" cy="41.5" r="0.64" fill="#d860b8" opacity="0.5"/>
<circle cx="338.9" cy="51.5" r="0.6" fill="#cc68bc" opacity="0.5"/>
<circle cx="320.9" cy="76.4" r="0.94" fill="#f6c4ea" opacity="0.5"/>
<circle cx="332.4" cy="74.9" r="1.28" fill="#cc68bc" opacity="0.5"/>
<circle cx="334.3" cy="72.5" r="0.67" fill="#d860b8" opacity="0.5"/>
<circle cx="344.9" cy="46.4" r="1.17" fill="#f2b0e2" opacity="0.5"/>
<circle cx="323.0" cy="89.2" r="0.76" fill="#f6c4ea" opacity="0.5"/>
<circle cx="331.1" cy="55.2" r="1.23" fill="#f6c4ea" opacity="0.5"/>
<circle cx="331.7" cy="63.1" r="0.51" fill="#d860b8" opacity="0.5"/>
<circle cx="335.6" cy="61.2" r="0.96" fill="#cc68bc" opacity="0.5"/>
<circle cx="320.9" cy="80.6" r="0.97" fill="#f2b0e2" opacity="0.5"/>
<circle cx="333.2" cy="45.0" r="0.59" fill="#f2b0e2" opacity="0.5"/>
<circle cx="329.2" cy="56.1" r="0.52" fill="#d860b8" opacity="0.5"/>
<circle cx="342.0" cy="44.7" r="0.53" fill="#d860b8" opacity="0.5"/>
<circle cx="316.9" cy="77.7" r="0.97" fill="#cc68bc" opacity="0.5"/>
<circle cx="344.9" cy="48.0" r="0.93" fill="#d860b8" opacity="0.5"/>
<circle cx="335.3" cy="41.6" r="0.8" fill="#9a3a90" opacity="0.75"/>
<circle cx="334.5" cy="46.2" r="0.8" fill="#9a3a90" opacity="0.75"/>
<circle cx="330.0" cy="50.8" r="0.8" fill="#9a3a90" opacity="0.75"/>
<circle cx="329.8" cy="55.4" r="0.8" fill="#9a3a90" opacity="0.75"/>
<circle cx="325.8" cy="60.0" r="0.8" fill="#9a3a90" opacity="0.75"/>
<circle cx="325.2" cy="64.7" r="0.8" fill="#9a3a90" opacity="0.75"/>
<circle cx="320.9" cy="69.3" r="0.8" fill="#9a3a90" opacity="0.75"/>
<circle cx="320.3" cy="73.9" r="0.8" fill="#9a3a90" opacity="0.75"/>
<circle cx="316.1" cy="78.5" r="0.8" fill="#9a3a90" opacity="0.75"/>
<circle cx="315.3" cy="83.1" r="0.8" fill="#9a3a90" opacity="0.75"/>
<circle cx="310.9" cy="87.7" r="0.8" fill="#9a3a90" opacity="0.75"/>
<ellipse cx="340.4" cy="48.8" rx="0.9" ry="1.6" fill="#a04098" opacity="0.7" transform="rotate(30 340.4 48.8)"/>
<ellipse cx="337.6" cy="52.9" rx="0.9" ry="1.6" fill="#a04098" opacity="0.7" transform="rotate(30 337.6 52.9)"/>
<ellipse cx="335.0" cy="57.0" rx="0.9" ry="1.6" fill="#a04098" opacity="0.7" transform="rotate(30 335.0 57.0)"/>
<ellipse cx="331.8" cy="61.2" rx="0.9" ry="1.6" fill="#a04098" opacity="0.7" transform="rotate(30 331.8 61.2)"/>
<ellipse cx="329.0" cy="65.3" rx="0.9" ry="1.6" fill="#a04098" opacity="0.7" transform="rotate(30 329.0 65.3)"/>
<ellipse cx="326.4" cy="69.4" rx="0.9" ry="1.6" fill="#a04098" opacity="0.7" transform="rotate(30 326.4 69.4)"/>
<ellipse cx="323.6" cy="73.5" rx="0.9" ry="1.6" fill="#a04098" opacity="0.7" transform="rotate(30 323.6 73.5)"/>
<ellipse cx="322.9" cy="77.7" rx="0.9" ry="1.6" fill="#a04098" opacity="0.7" transform="rotate(30 322.9 77.7)"/>
<ellipse cx="320.3" cy="81.8" rx="0.9" ry="1.6" fill="#a04098" opacity="0.7" transform="rotate(30 320.3 81.8)"/>
</g>
<rect x="365" y="88.5" width="3" height="1.6" fill="#2a4a2a" stroke="none" stroke-width="0.8"/>
<line x1="419.5" y1="89.1" x2="421.5" y2="89.1" stroke="#111" stroke-width="0.8"/>
<text x="416.5" y="91.1" font-size="5.6" text-anchor="end" fill="#111" stroke="#111" stroke-width="0.22">0</text>
<line x1="419.5" y1="72.44999999999999" x2="421.5" y2="72.44999999999999" stroke="#111" stroke-width="0.8"/>
<text x="416.5" y="74.44999999999999" font-size="5.6" text-anchor="end" fill="#111" stroke="#111" stroke-width="0.22">5</text>
<line x1="419.5" y1="55.8" x2="421.5" y2="55.8" stroke="#111" stroke-width="0.8"/>
<text x="416.5" y="57.8" font-size="5.6" text-anchor="end" fill="#111" stroke="#111" stroke-width="0.22">10</text>
<line x1="419.5" y1="39.14999999999999" x2="421.5" y2="39.14999999999999" stroke="#111" stroke-width="0.8"/>
<text x="416.5" y="41.14999999999999" font-size="5.6" text-anchor="end" fill="#111" stroke="#111" stroke-width="0.22">15</text>
<text x="395.8" y="62.6" font-size="7.2" text-anchor="middle" textLength="45.5" lengthAdjust="spacingAndGlyphs" transform="rotate(-90 395.8 62.6)" fill="#111" stroke="#111" stroke-width="0.06">Histopathology</text>
<text x="405" y="62.6" font-size="7.2" text-anchor="middle" textLength="17" lengthAdjust="spacingAndGlyphs" transform="rotate(-90 405 62.6)" fill="#111" stroke="#111" stroke-width="0.06">score</text>
<line x1="425.7" y1="38.7" x2="437.6" y2="38.7" stroke="#111" stroke-width="1"/>
<circle cx="431.7" cy="35.0" r="0.85" fill="#111"/>
<circle cx="425.7" cy="72.6" r="1.18" fill="#c4c4c4"/>
<circle cx="428.5" cy="72.6" r="1.18" fill="#c4c4c4"/>
<circle cx="425.5" cy="88.6" r="1.18" fill="#c4c4c4"/>
<circle cx="428.5" cy="88.6" r="1.18" fill="#c4c4c4"/>
<line x1="424.90000000000003" y1="83" x2="429.3" y2="83" stroke="#c4c4c4" stroke-width="0.9"/>
<line x1="427.1" y1="81" x2="427.1" y2="85.8" stroke="#c4c4c4" stroke-width="0.9"/>
<line x1="425.8" y1="81" x2="428.40000000000003" y2="81" stroke="#c4c4c4" stroke-width="0.9"/>
<line x1="425.8" y1="85.8" x2="428.40000000000003" y2="85.8" stroke="#c4c4c4" stroke-width="0.9"/>
<circle cx="436.9" cy="45.7" r="1.18" fill="#24497c"/>
<circle cx="440.4" cy="45.7" r="1.18" fill="#24497c"/>
<circle cx="438.7" cy="49" r="1.18" fill="#24497c"/>
<circle cx="436.9" cy="75.8" r="1.18" fill="#24497c"/>
<circle cx="440.4" cy="75.8" r="1.18" fill="#24497c"/>
<circle cx="438.7" cy="82.3" r="1.18" fill="#24497c"/>
<circle cx="438.7" cy="88.6" r="1.18" fill="#24497c"/>
<line x1="435.4" y1="67" x2="442.0" y2="67" stroke="#24497c" stroke-width="0.9"/>
<line x1="438.7" y1="61" x2="438.7" y2="72.8" stroke="#24497c" stroke-width="0.9"/>
<line x1="437.09999999999997" y1="61" x2="440.3" y2="61" stroke="#24497c" stroke-width="0.9"/>
<line x1="437.09999999999997" y1="72.8" x2="440.3" y2="72.8" stroke="#24497c" stroke-width="0.9"/>
<circle cx="449.9" cy="42.5" r="1.18" fill="#a8123a"/>
<circle cx="449.9" cy="62" r="1.18" fill="#a8123a"/>
<circle cx="449.9" cy="75.4" r="1.18" fill="#a8123a"/>
<circle cx="449.9" cy="79.6" r="1.18" fill="#a8123a"/>
<circle cx="449.9" cy="85.8" r="1.18" fill="#a8123a"/>
<circle cx="449.9" cy="88.6" r="1.18" fill="#a8123a"/>
<circle cx="449.9" cy="70" r="1.18" fill="#a8123a"/>
<line x1="446.7" y1="72.8" x2="453.09999999999997" y2="72.8" stroke="#a8123a" stroke-width="0.9"/>
<line x1="449.9" y1="67" x2="449.9" y2="78.4" stroke="#a8123a" stroke-width="0.9"/>
<line x1="448.29999999999995" y1="67" x2="451.5" y2="67" stroke="#a8123a" stroke-width="0.9"/>
<line x1="448.29999999999995" y1="78.4" x2="451.5" y2="78.4" stroke="#a8123a" stroke-width="0.9"/>
<text x="84.8" y="152.29999999999998" font-size="5.8" text-anchor="middle" font-weight="bold" textLength="33.4" lengthAdjust="spacingAndGlyphs" fill="#111" stroke="#111" stroke-width="0.16">CD11c-Cre<tspan font-size="3.7" dy="-2.6">neg</tspan></text>
<text x="85.4" y="158.6" font-size="5.8" text-anchor="middle" font-weight="bold" textLength="20.8" lengthAdjust="spacingAndGlyphs" fill="#111" stroke="#111" stroke-width="0.16">TCD BM</text>
<text x="148.8" y="152.29999999999998" font-size="5.8" text-anchor="middle" font-weight="bold" textLength="45" lengthAdjust="spacingAndGlyphs" fill="#111" stroke="#111" stroke-width="0.16">I-A<tspan font-size="3.7" dy="-2.6">b</tspan><tspan dy="2.6">-CD11c-Cre</tspan><tspan font-size="3.7" dy="-2.6">pos</tspan></text>
<text x="149.1" y="158.6" font-size="5.8" text-anchor="middle" font-weight="bold" textLength="20.2" lengthAdjust="spacingAndGlyphs" fill="#111" stroke="#111" stroke-width="0.16">TCD BM</text>
<text x="213.3" y="152.29999999999998" font-size="5.8" text-anchor="middle" font-weight="bold" textLength="45" lengthAdjust="spacingAndGlyphs" fill="#111" stroke="#111" stroke-width="0.16">I-A<tspan font-size="3.7" dy="-2.6">b</tspan><tspan dy="2.6">-CD11c-Cre</tspan><tspan font-size="3.7" dy="-2.6">pos</tspan></text>
<text x="212.7" y="158.6" font-size="5.8" text-anchor="middle" font-weight="bold" textLength="17.3" lengthAdjust="spacingAndGlyphs" fill="#111" stroke="#111" stroke-width="0.16">BM + T</text>
<rect x="58.3" y="162.9" width="52.2" height="51.9" fill="#fff" stroke="#a8a8a8" stroke-width="0.7"/>
<circle cx="58.3" cy="167.6" r="0.6" fill="#444"/>
<g fill="#1a1a1a" stroke="#1a1a1a" stroke-width="0.12"><use href="#g10" x="50.36" y="168.90"/><use href="#ge5" x="54.17" y="167.50"/></g>
<circle cx="58.3" cy="177.4" r="0.6" fill="#444"/>
<g fill="#1a1a1a" stroke="#1a1a1a" stroke-width="0.12"><use href="#g10" x="50.36" y="178.70"/><use href="#ge4" x="54.17" y="177.30"/></g>
<circle cx="58.3" cy="186.5" r="0.6" fill="#444"/>
<g fill="#1a1a1a" stroke="#1a1a1a" stroke-width="0.12"><use href="#g10" x="50.36" y="187.80"/><use href="#ge3" x="54.17" y="186.40"/></g>
<circle cx="58.3" cy="196.0" r="0.6" fill="#444"/>
<g fill="#1a1a1a" stroke="#1a1a1a" stroke-width="0.12"><use href="#g10" x="50.36" y="197.30"/><use href="#ge2" x="54.17" y="195.90"/></g>
<circle cx="58.3" cy="205.3" r="0.6" fill="#444"/>
<g fill="#1a1a1a" stroke="#1a1a1a" stroke-width="0.12"><use href="#g10" x="50.36" y="206.60"/><use href="#ge1" x="54.17" y="205.20"/></g>
<circle cx="58.3" cy="214.4" r="0.6" fill="#444"/>
<g fill="#1a1a1a" stroke="#1a1a1a" stroke-width="0.12"><use href="#g10" x="50.36" y="215.70"/><use href="#ge0" x="54.17" y="214.30"/></g>
<circle cx="59.3" cy="214.8" r="0.6" fill="#444"/>
<g fill="#1a1a1a" stroke="#1a1a1a" stroke-width="0.12"><use href="#g10" x="56.96" y="221.00"/><use href="#ge0" x="60.77" y="219.60"/></g>
<circle cx="68.6" cy="214.8" r="0.6" fill="#444"/>
<g fill="#1a1a1a" stroke="#1a1a1a" stroke-width="0.12"><use href="#g10" x="66.26" y="221.00"/><use href="#ge1" x="70.07" y="219.60"/></g>
<circle cx="77.69999999999999" cy="214.8" r="0.6" fill="#444"/>
<g fill="#1a1a1a" stroke="#1a1a1a" stroke-width="0.12"><use href="#g10" x="75.36" y="221.00"/><use href="#ge2" x="79.17" y="219.60"/></g>
<circle cx="87.8" cy="214.8" r="0.6" fill="#444"/>
<g fill="#1a1a1a" stroke="#1a1a1a" stroke-width="0.12"><use href="#g10" x="85.46" y="221.00"/><use href="#ge3" x="89.27" y="219.60"/></g>
<circle cx="96.9" cy="214.8" r="0.6" fill="#444"/>
<g fill="#1a1a1a" stroke="#1a1a1a" stroke-width="0.12"><use href="#g10" x="94.56" y="221.00"/><use href="#ge4" x="98.37" y="219.60"/></g>
<circle cx="106.1" cy="214.8" r="0.6" fill="#444"/>
<g fill="#1a1a1a" stroke="#1a1a1a" stroke-width="0.12"><use href="#g10" x="103.76" y="221.00"/><use href="#ge5" x="107.57" y="219.60"/></g>
<g transform="translate(58.3,162.9)"><ellipse cx="20" cy="20.3" rx="19" ry="6.5" fill="#ececec" filter="url(#blur2)"/><path d="M2.5,20.2 C8,17.6 18,16.2 28,16.5 C34,16.7 37,18 37.6,20 C37.8,22.5 35,24.6 30,24.3 C22,23.8 12,23.2 7,21.9 C4.5,21.3 3,20.7 2.5,20.2 Z" fill="#acacac" stroke="#555" stroke-width="0.7"/><path d="M6,20.2 C14,18.4 24,18 33,19 M8,21.5 C16,22.5 26,22.8 34,22.1 M12,19.3 C20,17.8 28,17.6 35,18.6 M9,20.8 C16,20.2 24,20.4 31,20.9 M14,22.6 C20,23.4 26,23.6 31,23.2 M16,17.6 C22,17 28,17 32,17.5" fill="none" stroke="#4a4a4a" stroke-width="0.5"/><circle cx="9.2" cy="20.1" r="1.3" fill="#333"/><path d="M28.2,23.2 C31,25.2 35,25.2 36.8,23.4" fill="none" stroke="#333" stroke-width="1"/><line x1="0.6" y1="16.5" x2="0.6" y2="24.5" stroke="#333" stroke-width="1.0"/><circle cx="34.2" cy="20.6" r="0.49" fill="#c4c4c4" opacity="0.8"/><circle cx="21.0" cy="15.0" r="0.49" fill="#c4c4c4" opacity="0.8"/><circle cx="16.2" cy="22.9" r="0.32" fill="#b0b0b0" opacity="0.8"/><circle cx="31.0" cy="17.7" r="0.50" fill="#c4c4c4" opacity="0.8"/><circle cx="22.7" cy="18.3" r="0.33" fill="#b0b0b0" opacity="0.8"/><circle cx="30.0" cy="12.8" r="0.37" fill="#c4c4c4" opacity="0.8"/><circle cx="6.7" cy="15.3" r="0.49" fill="#b0b0b0" opacity="0.8"/><circle cx="20.6" cy="23.1" r="0.27" fill="#c4c4c4" opacity="0.8"/><circle cx="37.0" cy="22.7" r="0.43" fill="#888" opacity="0.8"/><circle cx="32.0" cy="19.0" r="0.40" fill="#9a9a9a" opacity="0.8"/><circle cx="33.6" cy="15.4" r="0.30" fill="#9a9a9a" opacity="0.8"/><circle cx="24.0" cy="27.7" r="0.45" fill="#b0b0b0" opacity="0.8"/><circle cx="8.3" cy="18.6" r="0.47" fill="#c4c4c4" opacity="0.8"/><circle cx="39.9" cy="19.5" r="0.28" fill="#888" opacity="0.8"/><circle cx="23.4" cy="18.5" r="0.49" fill="#b0b0b0" opacity="0.8"/><circle cx="25.3" cy="13.8" r="0.36" fill="#c4c4c4" opacity="0.8"/><circle cx="25.1" cy="15.0" r="0.30" fill="#c4c4c4" opacity="0.8"/><circle cx="33.4" cy="25.5" r="0.40" fill="#9a9a9a" opacity="0.8"/><circle cx="27.3" cy="17.9" r="0.47" fill="#b0b0b0" opacity="0.8"/><circle cx="37.2" cy="20.7" r="0.47" fill="#9a9a9a" opacity="0.8"/><circle cx="37.2" cy="14.2" r="0.38" fill="#c4c4c4" opacity="0.8"/><circle cx="11.7" cy="19.2" r="0.47" fill="#b0b0b0" opacity="0.8"/><circle cx="24.8" cy="27.0" r="0.37" fill="#888" opacity="0.8"/><circle cx="26.7" cy="18.1" r="0.27" fill="#c4c4c4" opacity="0.8"/><circle cx="25.7" cy="12.7" r="0.31" fill="#b0b0b0" opacity="0.8"/><circle cx="30.1" cy="21.0" r="0.43" fill="#9a9a9a" opacity="0.8"/><circle cx="16.8" cy="22.7" r="0.28" fill="#9a9a9a" opacity="0.8"/><circle cx="8.4" cy="24.1" r="0.26" fill="#b0b0b0" opacity="0.8"/><circle cx="24.2" cy="25.9" r="0.26" fill="#9a9a9a" opacity="0.8"/><circle cx="26.5" cy="16.7" r="0.35" fill="#9a9a9a" opacity="0.8"/><circle cx="16.7" cy="21.6" r="0.30" fill="#9a9a9a" opacity="0.8"/><circle cx="38.9" cy="20.1" r="0.37" fill="#9a9a9a" opacity="0.8"/><circle cx="29.9" cy="28.3" r="0.41" fill="#888" opacity="0.8"/><circle cx="33.9" cy="23.7" r="0.31" fill="#9a9a9a" opacity="0.8"/><circle cx="26.9" cy="18.2" r="0.26" fill="#888" opacity="0.8"/><circle cx="6.7" cy="22.3" r="0.30" fill="#888" opacity="0.8"/><circle cx="16.3" cy="19.3" r="0.42" fill="#b0b0b0" opacity="0.8"/><circle cx="10.5" cy="12.2" r="0.45" fill="#9a9a9a" opacity="0.8"/><circle cx="8.9" cy="23.0" r="0.40" fill="#9a9a9a" opacity="0.8"/><circle cx="19.4" cy="25.5" r="0.25" fill="#b0b0b0" opacity="0.8"/><circle cx="28.2" cy="29.6" r="0.41" fill="#c4c4c4" opacity="0.8"/><circle cx="17.4" cy="14.5" r="0.29" fill="#c4c4c4" opacity="0.8"/><circle cx="28.6" cy="18.1" r="0.39" fill="#9a9a9a" opacity="0.8"/><circle cx="8.0" cy="20.7" r="0.34" fill="#888" opacity="0.8"/><circle cx="13.7" cy="13.4" r="0.43" fill="#b0b0b0" opacity="0.8"/><circle cx="17.4" cy="29.3" r="0.46" fill="#888" opacity="0.8"/><circle cx="6.0" cy="15.2" r="0.31" fill="#b0b0b0" opacity="0.8"/><circle cx="26.6" cy="15.5" r="0.43" fill="#888" opacity="0.8"/><circle cx="27.9" cy="21.3" r="0.44" fill="#888" opacity="0.8"/><circle cx="29.2" cy="19.3" r="0.36" fill="#b0b0b0" opacity="0.8"/><circle cx="12.6" cy="23.3" r="0.48" fill="#888" opacity="0.8"/><circle cx="25.3" cy="25.8" r="0.47" fill="#9a9a9a" opacity="0.8"/><circle cx="21.3" cy="18.1" r="0.30" fill="#888" opacity="0.8"/><circle cx="40.0" cy="27.0" r="0.46" fill="#9a9a9a" opacity="0.8"/><circle cx="7.8" cy="30.2" r="0.33" fill="#888" opacity="0.8"/><circle cx="10.9" cy="21.3" r="0.50" fill="#9a9a9a" opacity="0.8"/><circle cx="28.0" cy="17.5" r="0.47" fill="#b0b0b0" opacity="0.8"/><circle cx="13.4" cy="18.4" r="0.28" fill="#b0b0b0" opacity="0.8"/><circle cx="34.6" cy="18.3" r="0.48" fill="#c4c4c4" opacity="0.8"/><circle cx="32.6" cy="21.8" r="0.47" fill="#9a9a9a" opacity="0.8"/><circle cx="7.9" cy="14.4" r="0.28" fill="#c4c4c4" opacity="0.8"/><circle cx="8.7" cy="19.5" r="0.26" fill="#9a9a9a" opacity="0.8"/><circle cx="10.6" cy="20.1" r="0.48" fill="#c4c4c4" opacity="0.8"/><circle cx="36.7" cy="25.7" r="0.46" fill="#9a9a9a" opacity="0.8"/><circle cx="38.6" cy="14.5" r="0.41" fill="#888" opacity="0.8"/><circle cx="16.8" cy="16.8" r="0.30" fill="#b0b0b0" opacity="0.8"/><circle cx="24.7" cy="23.4" r="0.33" fill="#c4c4c4" opacity="0.8"/><circle cx="16.6" cy="20.5" r="0.33" fill="#9a9a9a" opacity="0.8"/><circle cx="26.0" cy="23.5" r="0.34" fill="#c4c4c4" opacity="0.8"/><circle cx="39.6" cy="21.3" r="0.32" fill="#b0b0b0" opacity="0.8"/><circle cx="20.7" cy="20.4" r="0.46" fill="#b0b0b0" opacity="0.8"/><circle cx="30.0" cy="22.1" r="0.35" fill="#c4c4c4" opacity="0.8"/><circle cx="15.2" cy="18.5" r="0.37" fill="#888" opacity="0.8"/><circle cx="34.1" cy="21.7" r="0.28" fill="#c4c4c4" opacity="0.8"/><circle cx="7.3" cy="19.2" r="0.43" fill="#c4c4c4" opacity="0.8"/><circle cx="36.1" cy="20.3" r="0.41" fill="#b0b0b0" opacity="0.8"/><circle cx="16.9" cy="27.0" r="0.45" fill="#9a9a9a" opacity="0.8"/><circle cx="10.3" cy="19.3" r="0.27" fill="#b0b0b0" opacity="0.8"/><circle cx="3.3" cy="16.7" r="0.48" fill="#888" opacity="0.8"/><circle cx="32.2" cy="24.7" r="0.36" fill="#b0b0b0" opacity="0.8"/><circle cx="16.6" cy="24.0" r="0.36" fill="#b0b0b0" opacity="0.8"/><circle cx="16.3" cy="20.0" r="0.46" fill="#9a9a9a" opacity="0.8"/><circle cx="34.6" cy="27.6" r="0.28" fill="#b0b0b0" opacity="0.8"/><circle cx="17.7" cy="21.3" r="0.41" fill="#b0b0b0" opacity="0.8"/><circle cx="39.9" cy="23.0" r="0.30" fill="#9a9a9a" opacity="0.8"/><circle cx="17.0" cy="13.9" r="0.28" fill="#b0b0b0" opacity="0.8"/><circle cx="25.1" cy="13.4" r="0.47" fill="#888" opacity="0.8"/><circle cx="21.3" cy="20.8" r="0.46" fill="#c4c4c4" opacity="0.8"/><circle cx="39.9" cy="11.5" r="0.25" fill="#b0b0b0" opacity="0.8"/><circle cx="29.1" cy="11.6" r="0.45" fill="#c4c4c4" opacity="0.8"/><circle cx="4.3" cy="22.1" r="0.46" fill="#b0b0b0" opacity="0.8"/><circle cx="24.6" cy="23.6" r="0.27" fill="#888" opacity="0.8"/><circle cx="6.1" cy="21.1" r="0.28" fill="#b0b0b0" opacity="0.8"/><circle cx="14.1" cy="19.4" r="0.33" fill="#888" opacity="0.8"/><circle cx="8.9" cy="23.9" r="0.38" fill="#c4c4c4" opacity="0.8"/><circle cx="36.3" cy="27.6" r="0.39" fill="#9a9a9a" opacity="0.8"/><circle cx="28.1" cy="23.5" r="0.44" fill="#9a9a9a" opacity="0.8"/><circle cx="36.5" cy="10.4" r="0.32" fill="#b0b0b0" opacity="0.8"/><circle cx="36.3" cy="5.8" r="0.40" fill="#888" opacity="0.8"/><circle cx="11.6" cy="26.1" r="0.41" fill="#9a9a9a" opacity="0.8"/><circle cx="3.0" cy="22.1" r="0.33" fill="#c4c4c4" opacity="0.8"/><circle cx="21.3" cy="25.8" r="0.49" fill="#c4c4c4" opacity="0.8"/><circle cx="14.2" cy="13.3" r="0.29" fill="#9a9a9a" opacity="0.8"/><circle cx="37.6" cy="26.6" r="0.32" fill="#b0b0b0" opacity="0.8"/><circle cx="33.7" cy="21.8" r="0.29" fill="#888" opacity="0.8"/><circle cx="35.9" cy="20.9" r="0.42" fill="#9a9a9a" opacity="0.8"/><circle cx="8.6" cy="24.6" r="0.35" fill="#888" opacity="0.8"/><circle cx="4.7" cy="20.0" r="0.44" fill="#888" opacity="0.8"/><circle cx="3.7" cy="18.7" r="0.28" fill="#c4c4c4" opacity="0.8"/><circle cx="23.3" cy="18.7" r="0.30" fill="#c4c4c4" opacity="0.8"/></g>
<rect x="87.3" y="174.4" width="13.5" height="16.9" fill="none" stroke="#808080" stroke-width="0.6"/>
<text x="96.9" y="208.10000000000002" font-size="4.6" text-anchor="middle" textLength="7.6" lengthAdjust="spacingAndGlyphs" fill="#222" stroke="#222" stroke-width="0.22">9.49</text>
<rect x="58.3" y="226.6" width="52.2" height="52" fill="#fff" stroke="#a8a8a8" stroke-width="0.7"/>
<circle cx="58.3" cy="231.29999999999998" r="0.6" fill="#444"/>
<g fill="#1a1a1a" stroke="#1a1a1a" stroke-width="0.12"><use href="#g10" x="50.36" y="232.60"/><use href="#ge5" x="54.17" y="231.20"/></g>
<circle cx="58.3" cy="241.1" r="0.6" fill="#444"/>
<g fill="#1a1a1a" stroke="#1a1a1a" stroke-width="0.12"><use href="#g10" x="50.36" y="242.40"/><use href="#ge4" x="54.17" y="241.00"/></g>
<circle cx="58.3" cy="250.2" r="0.6" fill="#444"/>
<g fill="#1a1a1a" stroke="#1a1a1a" stroke-width="0.12"><use href="#g10" x="50.36" y="251.50"/><use href="#ge3" x="54.17" y="250.10"/></g>
<circle cx="58.3" cy="259.7" r="0.6" fill="#444"/>
<g fill="#1a1a1a" stroke="#1a1a1a" stroke-width="0.12"><use href="#g10" x="50.36" y="261.00"/><use href="#ge2" x="54.17" y="259.60"/></g>
<circle cx="58.3" cy="269.0" r="0.6" fill="#444"/>
<g fill="#1a1a1a" stroke="#1a1a1a" stroke-width="0.12"><use href="#g10" x="50.36" y="270.30"/><use href="#ge1" x="54.17" y="268.90"/></g>
<circle cx="58.3" cy="278.1" r="0.6" fill="#444"/>
<g fill="#1a1a1a" stroke="#1a1a1a" stroke-width="0.12"><use href="#g10" x="50.36" y="279.40"/><use href="#ge0" x="54.17" y="278.00"/></g>
<circle cx="59.3" cy="278.6" r="0.6" fill="#444"/>
<g fill="#1a1a1a" stroke="#1a1a1a" stroke-width="0.12"><use href="#g10" x="56.96" y="284.80"/><use href="#ge0" x="60.77" y="283.40"/></g>
<circle cx="68.6" cy="278.6" r="0.6" fill="#444"/>
<g fill="#1a1a1a" stroke="#1a1a1a" stroke-width="0.12"><use href="#g10" x="66.26" y="284.80"/><use href="#ge1" x="70.07" y="283.40"/></g>
<circle cx="77.69999999999999" cy="278.6" r="0.6" fill="#444"/>
<g fill="#1a1a1a" stroke="#1a1a1a" stroke-width="0.12"><use href="#g10" x="75.36" y="284.80"/><use href="#ge2" x="79.17" y="283.40"/></g>
<circle cx="87.8" cy="278.6" r="0.6" fill="#444"/>
<g fill="#1a1a1a" stroke="#1a1a1a" stroke-width="0.12"><use href="#g10" x="85.46" y="284.80"/><use href="#ge3" x="89.27" y="283.40"/></g>
<circle cx="96.9" cy="278.6" r="0.6" fill="#444"/>
<g fill="#1a1a1a" stroke="#1a1a1a" stroke-width="0.12"><use href="#g10" x="94.56" y="284.80"/><use href="#ge4" x="98.37" y="283.40"/></g>
<circle cx="106.1" cy="278.6" r="0.6" fill="#444"/>
<g fill="#1a1a1a" stroke="#1a1a1a" stroke-width="0.12"><use href="#g10" x="103.76" y="284.80"/><use href="#ge5" x="107.57" y="283.40"/></g>
<g transform="translate(58.3,226.6)"><ellipse cx="19" cy="21.5" rx="18" ry="7" fill="#ededed" filter="url(#blur2)"/><path d="M3,19.8 C8,17.3 16,16.4 24,16.7 C29,16.9 32,17.4 34,18.8 L35,20.3 C31,21 29,24 27,26.4 C25,28 22,28 19,26.5 C14,24 8,21.5 3,19.8 Z" fill="#cfcfcf" stroke="#5a5a5a" stroke-width="0.6"/><path d="M6,19.4 C12,18.2 20,17.9 31,18.6 M8,20.2 C14,19.6 22,19.8 30,20.4 M10,21.5 C16,22.5 22,24.5 27,24 M14,18.6 C20,18.4 26,18.6 32,19.6" fill="none" stroke="#555" stroke-width="0.5"/><path d="M9,20.6 C15,24 20,27.6 24,27.7 C27,27.7 29,25 31.5,21.5" fill="none" stroke="#333" stroke-width="1.0"/><circle cx="35.4" cy="20.4" r="2.4" fill="#f4f4f4" stroke="#333" stroke-width="0.85"/><line x1="0.6" y1="16" x2="0.6" y2="27" stroke="#333" stroke-width="1.0"/><circle cx="26.0" cy="24.3" r="0.46" fill="#9a9a9a" opacity="0.8"/><circle cx="31.7" cy="10.5" r="0.41" fill="#b0b0b0" opacity="0.8"/><circle cx="36.3" cy="26.3" r="0.35" fill="#b0b0b0" opacity="0.8"/><circle cx="6.8" cy="23.9" r="0.25" fill="#b0b0b0" opacity="0.8"/><circle cx="11.0" cy="19.2" r="0.29" fill="#888" opacity="0.8"/><circle cx="32.5" cy="34.0" r="0.40" fill="#b0b0b0" opacity="0.8"/><circle cx="19.5" cy="30.0" r="0.49" fill="#b0b0b0" opacity="0.8"/><circle cx="9.1" cy="29.3" r="0.32" fill="#b0b0b0" opacity="0.8"/><circle cx="38.6" cy="11.7" r="0.30" fill="#b0b0b0" opacity="0.8"/><circle cx="38.8" cy="18.6" r="0.49" fill="#b0b0b0" opacity="0.8"/><circle cx="36.1" cy="19.2" r="0.48" fill="#b0b0b0" opacity="0.8"/><circle cx="12.8" cy="26.4" r="0.40" fill="#9a9a9a" opacity="0.8"/><circle cx="29.2" cy="27.1" r="0.30" fill="#c4c4c4" opacity="0.8"/><circle cx="20.5" cy="23.6" r="0.49" fill="#c4c4c4" opacity="0.8"/><circle cx="3.8" cy="21.0" r="0.39" fill="#9a9a9a" opacity="0.8"/><circle cx="18.5" cy="13.1" r="0.36" fill="#9a9a9a" opacity="0.8"/><circle cx="29.2" cy="11.4" r="0.48" fill="#b0b0b0" opacity="0.8"/><circle cx="37.9" cy="10.0" r="0.38" fill="#c4c4c4" opacity="0.8"/><circle cx="36.0" cy="21.0" r="0.46" fill="#c4c4c4" opacity="0.8"/><circle cx="4.4" cy="25.3" r="0.30" fill="#9a9a9a" opacity="0.8"/><circle cx="22.0" cy="20.2" r="0.33" fill="#9a9a9a" opacity="0.8"/><circle cx="14.7" cy="23.7" r="0.41" fill="#9a9a9a" opacity="0.8"/><circle cx="29.7" cy="21.5" r="0.50" fill="#9a9a9a" opacity="0.8"/><circle cx="22.7" cy="28.2" r="0.44" fill="#b0b0b0" opacity="0.8"/><circle cx="15.7" cy="21.6" r="0.45" fill="#9a9a9a" opacity="0.8"/><circle cx="15.4" cy="28.6" r="0.41" fill="#b0b0b0" opacity="0.8"/><circle cx="32.2" cy="25.9" r="0.26" fill="#b0b0b0" opacity="0.8"/><circle cx="18.6" cy="24.8" r="0.49" fill="#b0b0b0" opacity="0.8"/><circle cx="19.8" cy="14.9" r="0.37" fill="#c4c4c4" opacity="0.8"/><circle cx="36.4" cy="21.7" r="0.34" fill="#9a9a9a" opacity="0.8"/><circle cx="39.6" cy="29.8" r="0.47" fill="#888" opacity="0.8"/><circle cx="9.7" cy="19.5" r="0.32" fill="#888" opacity="0.8"/><circle cx="31.9" cy="24.8" r="0.42" fill="#c4c4c4" opacity="0.8"/><circle cx="27.6" cy="20.1" r="0.39" fill="#c4c4c4" opacity="0.8"/><circle cx="27.7" cy="27.2" r="0.49" fill="#c4c4c4" opacity="0.8"/><circle cx="15.6" cy="18.6" r="0.37" fill="#9a9a9a" opacity="0.8"/><circle cx="31.6" cy="18.8" r="0.45" fill="#c4c4c4" opacity="0.8"/><circle cx="27.0" cy="28.1" r="0.32" fill="#c4c4c4" opacity="0.8"/><circle cx="15.8" cy="29.1" r="0.47" fill="#b0b0b0" opacity="0.8"/><circle cx="28.5" cy="22.7" r="0.38" fill="#c4c4c4" opacity="0.8"/><circle cx="22.6" cy="29.7" r="0.32" fill="#888" opacity="0.8"/><circle cx="5.9" cy="27.5" r="0.29" fill="#888" opacity="0.8"/><circle cx="31.9" cy="13.4" r="0.33" fill="#888" opacity="0.8"/><circle cx="23.5" cy="20.7" r="0.43" fill="#c4c4c4" opacity="0.8"/><circle cx="4.0" cy="23.2" r="0.30" fill="#b0b0b0" opacity="0.8"/><circle cx="28.4" cy="28.6" r="0.50" fill="#9a9a9a" opacity="0.8"/><circle cx="39.3" cy="27.9" r="0.33" fill="#9a9a9a" opacity="0.8"/><circle cx="9.7" cy="28.7" r="0.39" fill="#b0b0b0" opacity="0.8"/><circle cx="18.4" cy="17.0" r="0.31" fill="#b0b0b0" opacity="0.8"/><circle cx="36.4" cy="28.4" r="0.34" fill="#9a9a9a" opacity="0.8"/><circle cx="38.2" cy="28.9" r="0.49" fill="#c4c4c4" opacity="0.8"/><circle cx="23.3" cy="13.9" r="0.39" fill="#c4c4c4" opacity="0.8"/><circle cx="15.6" cy="14.0" r="0.35" fill="#888" opacity="0.8"/><circle cx="23.9" cy="16.7" r="0.29" fill="#888" opacity="0.8"/><circle cx="25.0" cy="12.4" r="0.34" fill="#9a9a9a" opacity="0.8"/><circle cx="36.1" cy="14.9" r="0.35" fill="#9a9a9a" opacity="0.8"/><circle cx="15.1" cy="27.3" r="0.36" fill="#888" opacity="0.8"/><circle cx="39.1" cy="17.0" r="0.32" fill="#888" opacity="0.8"/><circle cx="39.0" cy="9.1" r="0.40" fill="#b0b0b0" opacity="0.8"/><circle cx="12.6" cy="32.7" r="0.31" fill="#888" opacity="0.8"/><circle cx="3.7" cy="24.0" r="0.29" fill="#c4c4c4" opacity="0.8"/><circle cx="3.9" cy="19.9" r="0.31" fill="#888" opacity="0.8"/><circle cx="4.5" cy="23.5" r="0.38" fill="#888" opacity="0.8"/><circle cx="13.1" cy="28.1" r="0.31" fill="#9a9a9a" opacity="0.8"/><circle cx="12.9" cy="29.7" r="0.38" fill="#888" opacity="0.8"/><circle cx="34.9" cy="36.2" r="0.25" fill="#9a9a9a" opacity="0.8"/><circle cx="7.7" cy="19.7" r="0.43" fill="#c4c4c4" opacity="0.8"/><circle cx="4.0" cy="26.8" r="0.34" fill="#c4c4c4" opacity="0.8"/><circle cx="30.6" cy="19.7" r="0.39" fill="#c4c4c4" opacity="0.8"/><circle cx="28.4" cy="20.6" r="0.25" fill="#b0b0b0" opacity="0.8"/><circle cx="31.8" cy="14.1" r="0.46" fill="#888" opacity="0.8"/><circle cx="34.1" cy="24.5" r="0.35" fill="#888" opacity="0.8"/><circle cx="34.5" cy="22.7" r="0.33" fill="#9a9a9a" opacity="0.8"/><circle cx="3.1" cy="24.0" r="0.40" fill="#888" opacity="0.8"/><circle cx="27.0" cy="17.0" r="0.49" fill="#888" opacity="0.8"/><circle cx="22.9" cy="23.5" r="0.27" fill="#9a9a9a" opacity="0.8"/><circle cx="11.5" cy="24.3" r="0.33" fill="#9a9a9a" opacity="0.8"/><circle cx="18.9" cy="13.4" r="0.43" fill="#888" opacity="0.8"/><circle cx="4.8" cy="22.5" r="0.43" fill="#9a9a9a" opacity="0.8"/><circle cx="8.0" cy="18.6" r="0.43" fill="#c4c4c4" opacity="0.8"/><circle cx="19.2" cy="25.5" r="0.41" fill="#9a9a9a" opacity="0.8"/><circle cx="4.6" cy="23.2" r="0.42" fill="#9a9a9a" opacity="0.8"/><circle cx="30.6" cy="19.6" r="0.44" fill="#9a9a9a" opacity="0.8"/><circle cx="35.5" cy="28.9" r="0.25" fill="#b0b0b0" opacity="0.8"/><circle cx="6.4" cy="19.2" r="0.48" fill="#c4c4c4" opacity="0.8"/><circle cx="16.8" cy="16.1" r="0.29" fill="#c4c4c4" opacity="0.8"/><circle cx="26.4" cy="11.2" r="0.32" fill="#b0b0b0" opacity="0.8"/><circle cx="23.4" cy="21.6" r="0.38" fill="#c4c4c4" opacity="0.8"/><circle cx="7.9" cy="21.4" r="0.29" fill="#888" opacity="0.8"/><circle cx="29.4" cy="29.1" r="0.39" fill="#9a9a9a" opacity="0.8"/><circle cx="4.3" cy="24.0" r="0.31" fill="#888" opacity="0.8"/><circle cx="35.4" cy="15.5" r="0.49" fill="#888" opacity="0.8"/><circle cx="7.0" cy="16.1" r="0.26" fill="#888" opacity="0.8"/><circle cx="8.6" cy="20.0" r="0.42" fill="#888" opacity="0.8"/><circle cx="11.3" cy="29.7" r="0.46" fill="#888" opacity="0.8"/><circle cx="8.2" cy="28.4" r="0.34" fill="#888" opacity="0.8"/><circle cx="11.7" cy="18.0" r="0.45" fill="#c4c4c4" opacity="0.8"/><circle cx="17.0" cy="29.6" r="0.41" fill="#c4c4c4" opacity="0.8"/><circle cx="32.8" cy="10.4" r="0.40" fill="#9a9a9a" opacity="0.8"/><circle cx="24.2" cy="28.2" r="0.27" fill="#888" opacity="0.8"/><circle cx="4.4" cy="22.0" r="0.47" fill="#888" opacity="0.8"/><circle cx="20.8" cy="27.1" r="0.36" fill="#9a9a9a" opacity="0.8"/><circle cx="14.1" cy="31.7" r="0.27" fill="#888" opacity="0.8"/><circle cx="8.7" cy="17.3" r="0.27" fill="#b0b0b0" opacity="0.8"/><circle cx="35.2" cy="25.7" r="0.28" fill="#c4c4c4" opacity="0.8"/><circle cx="33.3" cy="16.0" r="0.42" fill="#c4c4c4" opacity="0.8"/><circle cx="4.2" cy="23.8" r="0.33" fill="#c4c4c4" opacity="0.8"/><circle cx="5.2" cy="18.8" r="0.42" fill="#9a9a9a" opacity="0.8"/><circle cx="20.5" cy="26.0" r="0.36" fill="#c4c4c4" opacity="0.8"/><circle cx="11.9" cy="20.3" r="0.26" fill="#b0b0b0" opacity="0.8"/></g>
<rect x="87.3" y="238.5" width="13.5" height="16.4" fill="none" stroke="#808080" stroke-width="0.6"/>
<text x="96.9" y="271.8" font-size="4.6" text-anchor="middle" textLength="7.6" lengthAdjust="spacingAndGlyphs" fill="#222" stroke="#222" stroke-width="0.22">4.93</text>
<rect x="122.5" y="162.9" width="52.2" height="51.9" fill="#fff" stroke="#a8a8a8" stroke-width="0.7"/>
<circle cx="122.5" cy="167.6" r="0.6" fill="#444"/>
<g fill="#1a1a1a" stroke="#1a1a1a" stroke-width="0.12"><use href="#g10" x="114.56" y="168.90"/><use href="#ge5" x="118.37" y="167.50"/></g>
<circle cx="122.5" cy="177.4" r="0.6" fill="#444"/>
<g fill="#1a1a1a" stroke="#1a1a1a" stroke-width="0.12"><use href="#g10" x="114.56" y="178.70"/><use href="#ge4" x="118.37" y="177.30"/></g>
<circle cx="122.5" cy="186.5" r="0.6" fill="#444"/>
<g fill="#1a1a1a" stroke="#1a1a1a" stroke-width="0.12"><use href="#g10" x="114.56" y="187.80"/><use href="#ge3" x="118.37" y="186.40"/></g>
<circle cx="122.5" cy="196.0" r="0.6" fill="#444"/>
<g fill="#1a1a1a" stroke="#1a1a1a" stroke-width="0.12"><use href="#g10" x="114.56" y="197.30"/><use href="#ge2" x="118.37" y="195.90"/></g>
<circle cx="122.5" cy="205.3" r="0.6" fill="#444"/>
<g fill="#1a1a1a" stroke="#1a1a1a" stroke-width="0.12"><use href="#g10" x="114.56" y="206.60"/><use href="#ge1" x="118.37" y="205.20"/></g>
<circle cx="122.5" cy="214.4" r="0.6" fill="#444"/>
<g fill="#1a1a1a" stroke="#1a1a1a" stroke-width="0.12"><use href="#g10" x="114.56" y="215.70"/><use href="#ge0" x="118.37" y="214.30"/></g>
<circle cx="123.5" cy="214.8" r="0.6" fill="#444"/>
<g fill="#1a1a1a" stroke="#1a1a1a" stroke-width="0.12"><use href="#g10" x="121.16" y="221.00"/><use href="#ge0" x="124.97" y="219.60"/></g>
<circle cx="132.8" cy="214.8" r="0.6" fill="#444"/>
<g fill="#1a1a1a" stroke="#1a1a1a" stroke-width="0.12"><use href="#g10" x="130.46" y="221.00"/><use href="#ge1" x="134.27" y="219.60"/></g>
<circle cx="141.9" cy="214.8" r="0.6" fill="#444"/>
<g fill="#1a1a1a" stroke="#1a1a1a" stroke-width="0.12"><use href="#g10" x="139.56" y="221.00"/><use href="#ge2" x="143.37" y="219.60"/></g>
<circle cx="152.0" cy="214.8" r="0.6" fill="#444"/>
<g fill="#1a1a1a" stroke="#1a1a1a" stroke-width="0.12"><use href="#g10" x="149.66" y="221.00"/><use href="#ge3" x="153.47" y="219.60"/></g>
<circle cx="161.1" cy="214.8" r="0.6" fill="#444"/>
<g fill="#1a1a1a" stroke="#1a1a1a" stroke-width="0.12"><use href="#g10" x="158.76" y="221.00"/><use href="#ge4" x="162.57" y="219.60"/></g>
<circle cx="170.3" cy="214.8" r="0.6" fill="#444"/>
<g fill="#1a1a1a" stroke="#1a1a1a" stroke-width="0.12"><use href="#g10" x="167.96" y="221.00"/><use href="#ge5" x="171.77" y="219.60"/></g>
<g transform="translate(122.5,162.9)"><ellipse cx="20" cy="20.3" rx="19" ry="6.5" fill="#ececec" filter="url(#blur2)"/><path d="M2.5,20.2 C8,17.6 18,16.2 28,16.5 C34,16.7 37,18 37.6,20 C37.8,22.5 35,24.6 30,24.3 C22,23.8 12,23.2 7,21.9 C4.5,21.3 3,20.7 2.5,20.2 Z" fill="#acacac" stroke="#555" stroke-width="0.7"/><path d="M6,20.2 C14,18.4 24,18 33,19 M8,21.5 C16,22.5 26,22.8 34,22.1 M12,19.3 C20,17.8 28,17.6 35,18.6 M9,20.8 C16,20.2 24,20.4 31,20.9 M14,22.6 C20,23.4 26,23.6 31,23.2 M16,17.6 C22,17 28,17 32,17.5" fill="none" stroke="#4a4a4a" stroke-width="0.5"/><circle cx="6.5" cy="19.8" r="1.0" fill="#444"/><ellipse cx="33.6" cy="19.3" rx="3.8" ry="2.2" fill="#f4f4f4" stroke="#333" stroke-width="0.7"/><path d="M28.5,19.6 L29.6,19.4" stroke="#222" stroke-width="1.4"/><line x1="0.6" y1="16.5" x2="0.6" y2="24.5" stroke="#333" stroke-width="1.0"/><circle cx="24.1" cy="14.0" r="0.37" fill="#b0b0b0" opacity="0.8"/><circle cx="21.2" cy="23.2" r="0.41" fill="#c4c4c4" opacity="0.8"/><circle cx="8.9" cy="16.6" r="0.49" fill="#b0b0b0" opacity="0.8"/><circle cx="30.6" cy="19.6" r="0.26" fill="#c4c4c4" opacity="0.8"/><circle cx="34.8" cy="15.5" r="0.46" fill="#c4c4c4" opacity="0.8"/><circle cx="12.7" cy="17.7" r="0.42" fill="#b0b0b0" opacity="0.8"/><circle cx="27.5" cy="26.7" r="0.49" fill="#b0b0b0" opacity="0.8"/><circle cx="25.7" cy="27.2" r="0.40" fill="#9a9a9a" opacity="0.8"/><circle cx="11.7" cy="23.6" r="0.44" fill="#c4c4c4" opacity="0.8"/><circle cx="11.9" cy="29.4" r="0.36" fill="#888" opacity="0.8"/><circle cx="5.4" cy="13.8" r="0.46" fill="#b0b0b0" opacity="0.8"/><circle cx="38.9" cy="14.0" r="0.26" fill="#b0b0b0" opacity="0.8"/><circle cx="21.4" cy="23.4" r="0.29" fill="#9a9a9a" opacity="0.8"/><circle cx="24.0" cy="13.2" r="0.48" fill="#c4c4c4" opacity="0.8"/><circle cx="8.5" cy="27.2" r="0.29" fill="#888" opacity="0.8"/><circle cx="32.9" cy="18.0" r="0.36" fill="#c4c4c4" opacity="0.8"/><circle cx="18.3" cy="20.4" r="0.47" fill="#b0b0b0" opacity="0.8"/><circle cx="12.9" cy="23.9" r="0.29" fill="#c4c4c4" opacity="0.8"/><circle cx="27.0" cy="24.4" r="0.44" fill="#888" opacity="0.8"/><circle cx="15.1" cy="13.1" r="0.25" fill="#b0b0b0" opacity="0.8"/><circle cx="29.4" cy="17.8" r="0.32" fill="#9a9a9a" opacity="0.8"/><circle cx="18.0" cy="24.0" r="0.35" fill="#b0b0b0" opacity="0.8"/><circle cx="35.2" cy="18.2" r="0.38" fill="#c4c4c4" opacity="0.8"/><circle cx="25.3" cy="16.7" r="0.29" fill="#9a9a9a" opacity="0.8"/><circle cx="27.9" cy="22.7" r="0.38" fill="#c4c4c4" opacity="0.8"/><circle cx="21.1" cy="18.7" r="0.39" fill="#b0b0b0" opacity="0.8"/><circle cx="6.7" cy="27.7" r="0.36" fill="#9a9a9a" opacity="0.8"/><circle cx="5.4" cy="19.1" r="0.27" fill="#c4c4c4" opacity="0.8"/><circle cx="7.0" cy="8.2" r="0.28" fill="#888" opacity="0.8"/><circle cx="34.9" cy="25.8" r="0.34" fill="#888" opacity="0.8"/><circle cx="12.6" cy="21.5" r="0.41" fill="#c4c4c4" opacity="0.8"/><circle cx="36.7" cy="13.6" r="0.43" fill="#b0b0b0" opacity="0.8"/><circle cx="15.0" cy="23.3" r="0.26" fill="#888" opacity="0.8"/><circle cx="7.3" cy="20.8" r="0.36" fill="#c4c4c4" opacity="0.8"/><circle cx="34.8" cy="17.8" r="0.40" fill="#9a9a9a" opacity="0.8"/><circle cx="23.4" cy="9.5" r="0.50" fill="#9a9a9a" opacity="0.8"/><circle cx="13.6" cy="19.1" r="0.48" fill="#888" opacity="0.8"/><circle cx="10.1" cy="18.2" r="0.30" fill="#c4c4c4" opacity="0.8"/><circle cx="24.9" cy="6.2" r="0.47" fill="#c4c4c4" opacity="0.8"/><circle cx="20.2" cy="26.8" r="0.36" fill="#888" opacity="0.8"/><circle cx="30.5" cy="22.3" r="0.41" fill="#9a9a9a" opacity="0.8"/><circle cx="26.2" cy="27.4" r="0.36" fill="#b0b0b0" opacity="0.8"/><circle cx="18.1" cy="13.8" r="0.27" fill="#b0b0b0" opacity="0.8"/><circle cx="18.7" cy="26.4" r="0.46" fill="#9a9a9a" opacity="0.8"/><circle cx="15.9" cy="17.2" r="0.41" fill="#b0b0b0" opacity="0.8"/><circle cx="13.5" cy="23.9" r="0.38" fill="#c4c4c4" opacity="0.8"/><circle cx="21.8" cy="19.8" r="0.34" fill="#c4c4c4" opacity="0.8"/><circle cx="13.3" cy="25.1" r="0.46" fill="#888" opacity="0.8"/><circle cx="24.7" cy="26.1" r="0.45" fill="#c4c4c4" opacity="0.8"/><circle cx="18.0" cy="23.3" r="0.49" fill="#b0b0b0" opacity="0.8"/><circle cx="39.7" cy="19.9" r="0.25" fill="#c4c4c4" opacity="0.8"/><circle cx="15.1" cy="18.6" r="0.27" fill="#c4c4c4" opacity="0.8"/><circle cx="17.7" cy="15.7" r="0.29" fill="#b0b0b0" opacity="0.8"/><circle cx="6.5" cy="24.2" r="0.30" fill="#9a9a9a" opacity="0.8"/><circle cx="30.6" cy="23.9" r="0.48" fill="#888" opacity="0.8"/><circle cx="32.8" cy="19.1" r="0.35" fill="#9a9a9a" opacity="0.8"/><circle cx="15.6" cy="22.6" r="0.47" fill="#c4c4c4" opacity="0.8"/><circle cx="27.3" cy="18.0" r="0.26" fill="#9a9a9a" opacity="0.8"/><circle cx="16.5" cy="24.2" r="0.44" fill="#b0b0b0" opacity="0.8"/><circle cx="7.3" cy="18.9" r="0.50" fill="#c4c4c4" opacity="0.8"/><circle cx="4.2" cy="24.3" r="0.27" fill="#c4c4c4" opacity="0.8"/><circle cx="19.3" cy="17.5" r="0.26" fill="#c4c4c4" opacity="0.8"/><circle cx="37.2" cy="13.6" r="0.43" fill="#888" opacity="0.8"/><circle cx="39.5" cy="22.8" r="0.34" fill="#b0b0b0" opacity="0.8"/><circle cx="18.7" cy="25.8" r="0.35" fill="#888" opacity="0.8"/><circle cx="6.6" cy="11.4" r="0.26" fill="#b0b0b0" opacity="0.8"/><circle cx="34.8" cy="17.8" r="0.49" fill="#888" opacity="0.8"/><circle cx="32.4" cy="17.3" r="0.39" fill="#c4c4c4" opacity="0.8"/><circle cx="38.5" cy="17.3" r="0.26" fill="#b0b0b0" opacity="0.8"/><circle cx="9.5" cy="18.7" r="0.46" fill="#c4c4c4" opacity="0.8"/><circle cx="14.2" cy="23.0" r="0.27" fill="#888" opacity="0.8"/><circle cx="31.1" cy="15.6" r="0.29" fill="#888" opacity="0.8"/><circle cx="18.0" cy="20.4" r="0.47" fill="#c4c4c4" opacity="0.8"/><circle cx="9.4" cy="15.6" r="0.40" fill="#b0b0b0" opacity="0.8"/><circle cx="18.6" cy="10.1" r="0.49" fill="#888" opacity="0.8"/><circle cx="17.7" cy="19.5" r="0.31" fill="#9a9a9a" opacity="0.8"/><circle cx="18.6" cy="15.3" r="0.34" fill="#9a9a9a" opacity="0.8"/><circle cx="36.6" cy="12.6" r="0.40" fill="#888" opacity="0.8"/><circle cx="22.7" cy="23.3" r="0.42" fill="#888" opacity="0.8"/><circle cx="6.6" cy="20.5" r="0.27" fill="#888" opacity="0.8"/><circle cx="36.5" cy="15.8" r="0.49" fill="#9a9a9a" opacity="0.8"/><circle cx="10.0" cy="18.6" r="0.27" fill="#9a9a9a" opacity="0.8"/><circle cx="33.0" cy="31.6" r="0.46" fill="#c4c4c4" opacity="0.8"/><circle cx="9.6" cy="21.2" r="0.34" fill="#9a9a9a" opacity="0.8"/><circle cx="26.1" cy="23.6" r="0.28" fill="#b0b0b0" opacity="0.8"/><circle cx="38.5" cy="20.0" r="0.31" fill="#b0b0b0" opacity="0.8"/><circle cx="12.1" cy="15.9" r="0.47" fill="#888" opacity="0.8"/><circle cx="31.2" cy="15.2" r="0.25" fill="#b0b0b0" opacity="0.8"/><circle cx="4.0" cy="26.4" r="0.28" fill="#b0b0b0" opacity="0.8"/><circle cx="17.3" cy="23.1" r="0.42" fill="#9a9a9a" opacity="0.8"/><circle cx="30.3" cy="22.8" r="0.39" fill="#9a9a9a" opacity="0.8"/><circle cx="5.0" cy="24.0" r="0.39" fill="#888" opacity="0.8"/><circle cx="19.8" cy="22.3" r="0.37" fill="#888" opacity="0.8"/><circle cx="29.2" cy="25.6" r="0.42" fill="#c4c4c4" opacity="0.8"/><circle cx="8.1" cy="20.3" r="0.29" fill="#9a9a9a" opacity="0.8"/><circle cx="5.9" cy="22.0" r="0.29" fill="#c4c4c4" opacity="0.8"/><circle cx="6.9" cy="24.9" r="0.45" fill="#c4c4c4" opacity="0.8"/><circle cx="24.3" cy="26.0" r="0.47" fill="#888" opacity="0.8"/><circle cx="8.4" cy="21.6" r="0.41" fill="#9a9a9a" opacity="0.8"/><circle cx="22.8" cy="20.9" r="0.29" fill="#b0b0b0" opacity="0.8"/><circle cx="34.8" cy="22.2" r="0.34" fill="#9a9a9a" opacity="0.8"/><circle cx="27.8" cy="17.6" r="0.37" fill="#9a9a9a" opacity="0.8"/><circle cx="20.2" cy="9.7" r="0.26" fill="#b0b0b0" opacity="0.8"/><circle cx="25.5" cy="23.0" r="0.41" fill="#888" opacity="0.8"/><circle cx="28.9" cy="21.8" r="0.29" fill="#888" opacity="0.8"/><circle cx="21.1" cy="17.4" r="0.29" fill="#888" opacity="0.8"/><circle cx="29.0" cy="26.9" r="0.41" fill="#c4c4c4" opacity="0.8"/><circle cx="23.8" cy="19.6" r="0.29" fill="#888" opacity="0.8"/><circle cx="26.7" cy="15.0" r="0.26" fill="#b0b0b0" opacity="0.8"/><circle cx="5.0" cy="28.7" r="0.49" fill="#c4c4c4" opacity="0.8"/></g>
<rect x="151.5" y="174.4" width="13.5" height="16.9" fill="none" stroke="#808080" stroke-width="0.6"/>
<text x="161.1" y="208.10000000000002" font-size="4.6" text-anchor="middle" textLength="7.6" lengthAdjust="spacingAndGlyphs" fill="#222" stroke="#222" stroke-width="0.22">4.45</text>
<rect x="122.5" y="226.6" width="52.2" height="52" fill="#fff" stroke="#a8a8a8" stroke-width="0.7"/>
<circle cx="122.5" cy="231.29999999999998" r="0.6" fill="#444"/>
<g fill="#1a1a1a" stroke="#1a1a1a" stroke-width="0.12"><use href="#g10" x="114.56" y="232.60"/><use href="#ge5" x="118.37" y="231.20"/></g>
<circle cx="122.5" cy="241.1" r="0.6" fill="#444"/>
<g fill="#1a1a1a" stroke="#1a1a1a" stroke-width="0.12"><use href="#g10" x="114.56" y="242.40"/><use href="#ge4" x="118.37" y="241.00"/></g>
<circle cx="122.5" cy="250.2" r="0.6" fill="#444"/>
<g fill="#1a1a1a" stroke="#1a1a1a" stroke-width="0.12"><use href="#g10" x="114.56" y="251.50"/><use href="#ge3" x="118.37" y="250.10"/></g>
<circle cx="122.5" cy="259.7" r="0.6" fill="#444"/>
<g fill="#1a1a1a" stroke="#1a1a1a" stroke-width="0.12"><use href="#g10" x="114.56" y="261.00"/><use href="#ge2" x="118.37" y="259.60"/></g>
<circle cx="122.5" cy="269.0" r="0.6" fill="#444"/>
<g fill="#1a1a1a" stroke="#1a1a1a" stroke-width="0.12"><use href="#g10" x="114.56" y="270.30"/><use href="#ge1" x="118.37" y="268.90"/></g>
<circle cx="122.5" cy="278.1" r="0.6" fill="#444"/>
<g fill="#1a1a1a" stroke="#1a1a1a" stroke-width="0.12"><use href="#g10" x="114.56" y="279.40"/><use href="#ge0" x="118.37" y="278.00"/></g>
<circle cx="123.5" cy="278.6" r="0.6" fill="#444"/>
<g fill="#1a1a1a" stroke="#1a1a1a" stroke-width="0.12"><use href="#g10" x="121.16" y="284.80"/><use href="#ge0" x="124.97" y="283.40"/></g>
<circle cx="132.8" cy="278.6" r="0.6" fill="#444"/>
<g fill="#1a1a1a" stroke="#1a1a1a" stroke-width="0.12"><use href="#g10" x="130.46" y="284.80"/><use href="#ge1" x="134.27" y="283.40"/></g>
<circle cx="141.9" cy="278.6" r="0.6" fill="#444"/>
<g fill="#1a1a1a" stroke="#1a1a1a" stroke-width="0.12"><use href="#g10" x="139.56" y="284.80"/><use href="#ge2" x="143.37" y="283.40"/></g>
<circle cx="152.0" cy="278.6" r="0.6" fill="#444"/>
<g fill="#1a1a1a" stroke="#1a1a1a" stroke-width="0.12"><use href="#g10" x="149.66" y="284.80"/><use href="#ge3" x="153.47" y="283.40"/></g>
<circle cx="161.1" cy="278.6" r="0.6" fill="#444"/>
<g fill="#1a1a1a" stroke="#1a1a1a" stroke-width="0.12"><use href="#g10" x="158.76" y="284.80"/><use href="#ge4" x="162.57" y="283.40"/></g>
<circle cx="170.3" cy="278.6" r="0.6" fill="#444"/>
<g fill="#1a1a1a" stroke="#1a1a1a" stroke-width="0.12"><use href="#g10" x="167.96" y="284.80"/><use href="#ge5" x="171.77" y="283.40"/></g>
<g transform="translate(122.5,226.6)"><ellipse cx="19" cy="21.5" rx="18" ry="7" fill="#ededed" filter="url(#blur2)"/><path d="M3,19.8 C8,17.3 16,16.4 24,16.7 C29,16.9 32,17.4 34,18.8 L35,20.3 C31,21 29,24 27,26.4 C25,28 22,28 19,26.5 C14,24 8,21.5 3,19.8 Z" fill="#cfcfcf" stroke="#5a5a5a" stroke-width="0.6"/><path d="M6,19.4 C12,18.2 20,17.9 31,18.6 M8,20.2 C14,19.6 22,19.8 30,20.4 M10,21.5 C16,22.5 22,24.5 27,24 M14,18.6 C20,18.4 26,18.6 32,19.6" fill="none" stroke="#555" stroke-width="0.5"/><path d="M9,20.6 C15,24 20,27.6 24,27.7 C27,27.7 29,25 31.5,21.5" fill="none" stroke="#333" stroke-width="1.0"/><circle cx="35.4" cy="20.4" r="2.4" fill="#f4f4f4" stroke="#333" stroke-width="0.85"/><line x1="0.6" y1="16" x2="0.6" y2="27" stroke="#333" stroke-width="1.0"/><circle cx="38.7" cy="31.4" r="0.48" fill="#b0b0b0" opacity="0.8"/><circle cx="11.8" cy="21.5" r="0.47" fill="#9a9a9a" opacity="0.8"/><circle cx="28.2" cy="36.5" r="0.37" fill="#c4c4c4" opacity="0.8"/><circle cx="16.2" cy="7.3" r="0.31" fill="#c4c4c4" opacity="0.8"/><circle cx="34.7" cy="28.7" r="0.33" fill="#b0b0b0" opacity="0.8"/><circle cx="29.9" cy="15.4" r="0.46" fill="#888" opacity="0.8"/><circle cx="21.1" cy="13.9" r="0.48" fill="#c4c4c4" opacity="0.8"/><circle cx="26.9" cy="25.0" r="0.37" fill="#9a9a9a" opacity="0.8"/><circle cx="38.0" cy="24.5" r="0.40" fill="#b0b0b0" opacity="0.8"/><circle cx="32.0" cy="21.4" r="0.32" fill="#9a9a9a" opacity="0.8"/><circle cx="21.3" cy="23.2" r="0.27" fill="#9a9a9a" opacity="0.8"/><circle cx="29.8" cy="23.0" r="0.35" fill="#c4c4c4" opacity="0.8"/><circle cx="21.6" cy="27.8" r="0.33" fill="#b0b0b0" opacity="0.8"/><circle cx="9.1" cy="30.2" r="0.35" fill="#c4c4c4" opacity="0.8"/><circle cx="20.6" cy="30.1" r="0.37" fill="#c4c4c4" opacity="0.8"/><circle cx="7.3" cy="15.9" r="0.35" fill="#888" opacity="0.8"/><circle cx="3.6" cy="20.4" r="0.32" fill="#9a9a9a" opacity="0.8"/><circle cx="4.5" cy="31.0" r="0.49" fill="#9a9a9a" opacity="0.8"/><circle cx="8.9" cy="16.2" r="0.26" fill="#888" opacity="0.8"/><circle cx="5.3" cy="21.0" r="0.39" fill="#9a9a9a" opacity="0.8"/><circle cx="20.1" cy="24.9" r="0.42" fill="#c4c4c4" opacity="0.8"/><circle cx="25.6" cy="14.1" r="0.36" fill="#888" opacity="0.8"/><circle cx="5.1" cy="24.0" r="0.33" fill="#888" opacity="0.8"/><circle cx="33.4" cy="19.0" r="0.47" fill="#888" opacity="0.8"/><circle cx="36.0" cy="30.2" r="0.40" fill="#c4c4c4" opacity="0.8"/><circle cx="36.6" cy="21.9" r="0.29" fill="#9a9a9a" opacity="0.8"/><circle cx="12.2" cy="28.6" r="0.37" fill="#c4c4c4" opacity="0.8"/><circle cx="3.1" cy="20.7" r="0.43" fill="#c4c4c4" opacity="0.8"/><circle cx="15.6" cy="27.1" r="0.50" fill="#9a9a9a" opacity="0.8"/><circle cx="29.8" cy="23.9" r="0.33" fill="#b0b0b0" opacity="0.8"/><circle cx="14.7" cy="17.3" r="0.35" fill="#9a9a9a" opacity="0.8"/><circle cx="32.2" cy="23.1" r="0.28" fill="#9a9a9a" opacity="0.8"/><circle cx="34.3" cy="19.2" r="0.41" fill="#b0b0b0" opacity="0.8"/><circle cx="24.4" cy="17.5" r="0.34" fill="#c4c4c4" opacity="0.8"/><circle cx="11.6" cy="16.0" r="0.50" fill="#9a9a9a" opacity="0.8"/><circle cx="29.8" cy="20.9" r="0.36" fill="#c4c4c4" opacity="0.8"/><circle cx="25.4" cy="8.5" r="0.28" fill="#c4c4c4" opacity="0.8"/><circle cx="13.1" cy="20.3" r="0.37" fill="#9a9a9a" opacity="0.8"/><circle cx="39.8" cy="17.1" r="0.41" fill="#9a9a9a" opacity="0.8"/><circle cx="10.6" cy="19.5" r="0.45" fill="#9a9a9a" opacity="0.8"/><circle cx="29.7" cy="10.3" r="0.40" fill="#b0b0b0" opacity="0.8"/><circle cx="35.5" cy="18.2" r="0.35" fill="#c4c4c4" opacity="0.8"/><circle cx="18.5" cy="26.7" r="0.37" fill="#b0b0b0" opacity="0.8"/><circle cx="20.5" cy="19.5" r="0.36" fill="#b0b0b0" opacity="0.8"/><circle cx="18.7" cy="33.9" r="0.36" fill="#9a9a9a" opacity="0.8"/><circle cx="18.0" cy="17.6" r="0.42" fill="#9a9a9a" opacity="0.8"/><circle cx="39.8" cy="15.5" r="0.33" fill="#9a9a9a" opacity="0.8"/><circle cx="35.8" cy="16.6" r="0.35" fill="#c4c4c4" opacity="0.8"/><circle cx="32.8" cy="14.0" r="0.29" fill="#9a9a9a" opacity="0.8"/><circle cx="38.3" cy="26.1" r="0.48" fill="#888" opacity="0.8"/><circle cx="15.2" cy="20.0" r="0.29" fill="#b0b0b0" opacity="0.8"/><circle cx="23.4" cy="16.9" r="0.42" fill="#9a9a9a" opacity="0.8"/><circle cx="28.2" cy="17.8" r="0.48" fill="#b0b0b0" opacity="0.8"/><circle cx="13.0" cy="30.6" r="0.47" fill="#c4c4c4" opacity="0.8"/><circle cx="28.5" cy="23.8" r="0.36" fill="#b0b0b0" opacity="0.8"/><circle cx="21.9" cy="31.5" r="0.49" fill="#888" opacity="0.8"/><circle cx="39.8" cy="14.5" r="0.50" fill="#888" opacity="0.8"/><circle cx="11.2" cy="14.6" r="0.45" fill="#c4c4c4" opacity="0.8"/><circle cx="28.9" cy="14.8" r="0.44" fill="#888" opacity="0.8"/><circle cx="14.9" cy="23.8" r="0.34" fill="#c4c4c4" opacity="0.8"/><circle cx="27.6" cy="24.3" r="0.39" fill="#b0b0b0" opacity="0.8"/><circle cx="33.6" cy="22.8" r="0.42" fill="#b0b0b0" opacity="0.8"/><circle cx="29.0" cy="21.8" r="0.46" fill="#888" opacity="0.8"/><circle cx="34.0" cy="25.5" r="0.48" fill="#888" opacity="0.8"/><circle cx="9.0" cy="14.9" r="0.41" fill="#c4c4c4" opacity="0.8"/><circle cx="33.0" cy="19.9" r="0.32" fill="#9a9a9a" opacity="0.8"/><circle cx="5.2" cy="28.3" r="0.38" fill="#c4c4c4" opacity="0.8"/><circle cx="24.8" cy="25.9" r="0.33" fill="#c4c4c4" opacity="0.8"/><circle cx="18.6" cy="17.5" r="0.47" fill="#888" opacity="0.8"/><circle cx="34.1" cy="18.2" r="0.35" fill="#b0b0b0" opacity="0.8"/><circle cx="5.4" cy="24.7" r="0.27" fill="#9a9a9a" opacity="0.8"/><circle cx="6.3" cy="19.0" r="0.44" fill="#888" opacity="0.8"/><circle cx="22.8" cy="20.4" r="0.49" fill="#9a9a9a" opacity="0.8"/><circle cx="5.0" cy="21.9" r="0.47" fill="#c4c4c4" opacity="0.8"/><circle cx="38.8" cy="28.2" r="0.25" fill="#b0b0b0" opacity="0.8"/><circle cx="19.3" cy="26.5" r="0.42" fill="#b0b0b0" opacity="0.8"/><circle cx="28.2" cy="16.4" r="0.50" fill="#b0b0b0" opacity="0.8"/><circle cx="38.8" cy="20.7" r="0.46" fill="#888" opacity="0.8"/><circle cx="27.3" cy="21.4" r="0.35" fill="#b0b0b0" opacity="0.8"/><circle cx="37.6" cy="21.1" r="0.49" fill="#c4c4c4" opacity="0.8"/><circle cx="14.7" cy="25.0" r="0.38" fill="#b0b0b0" opacity="0.8"/><circle cx="3.4" cy="15.7" r="0.36" fill="#c4c4c4" opacity="0.8"/><circle cx="30.8" cy="14.4" r="0.50" fill="#888" opacity="0.8"/><circle cx="11.2" cy="24.7" r="0.43" fill="#9a9a9a" opacity="0.8"/><circle cx="25.9" cy="30.6" r="0.32" fill="#9a9a9a" opacity="0.8"/><circle cx="28.3" cy="32.9" r="0.36" fill="#c4c4c4" opacity="0.8"/><circle cx="7.9" cy="14.7" r="0.38" fill="#b0b0b0" opacity="0.8"/><circle cx="36.4" cy="22.1" r="0.50" fill="#9a9a9a" opacity="0.8"/><circle cx="35.6" cy="19.2" r="0.40" fill="#c4c4c4" opacity="0.8"/><circle cx="26.9" cy="25.4" r="0.43" fill="#9a9a9a" opacity="0.8"/><circle cx="20.0" cy="30.7" r="0.44" fill="#b0b0b0" opacity="0.8"/><circle cx="18.0" cy="22.4" r="0.42" fill="#888" opacity="0.8"/><circle cx="34.0" cy="19.5" r="0.42" fill="#c4c4c4" opacity="0.8"/><circle cx="26.1" cy="25.0" r="0.27" fill="#9a9a9a" opacity="0.8"/><circle cx="40.0" cy="21.7" r="0.30" fill="#c4c4c4" opacity="0.8"/><circle cx="33.6" cy="23.3" r="0.42" fill="#888" opacity="0.8"/><circle cx="18.6" cy="24.0" r="0.44" fill="#9a9a9a" opacity="0.8"/><circle cx="8.3" cy="20.2" r="0.50" fill="#9a9a9a" opacity="0.8"/><circle cx="20.8" cy="21.2" r="0.43" fill="#888" opacity="0.8"/><circle cx="4.7" cy="25.2" r="0.43" fill="#9a9a9a" opacity="0.8"/><circle cx="17.3" cy="28.2" r="0.32" fill="#888" opacity="0.8"/><circle cx="23.5" cy="17.3" r="0.46" fill="#888" opacity="0.8"/><circle cx="25.6" cy="21.6" r="0.33" fill="#888" opacity="0.8"/><circle cx="35.2" cy="23.3" r="0.32" fill="#888" opacity="0.8"/><circle cx="9.4" cy="17.7" r="0.34" fill="#9a9a9a" opacity="0.8"/><circle cx="27.4" cy="26.0" r="0.34" fill="#888" opacity="0.8"/><circle cx="38.6" cy="24.8" r="0.34" fill="#9a9a9a" opacity="0.8"/><circle cx="33.4" cy="22.9" r="0.46" fill="#c4c4c4" opacity="0.8"/><circle cx="11.6" cy="17.2" r="0.25" fill="#9a9a9a" opacity="0.8"/><circle cx="30.9" cy="9.6" r="0.27" fill="#b0b0b0" opacity="0.8"/></g>
<rect x="151.5" y="238.5" width="13.5" height="16.4" fill="none" stroke="#808080" stroke-width="0.6"/>
<text x="161.1" y="271.8" font-size="4.6" text-anchor="middle" textLength="7.6" lengthAdjust="spacingAndGlyphs" fill="#222" stroke="#222" stroke-width="0.22">3.76</text>
<rect x="186.7" y="162.9" width="52.2" height="51.9" fill="#fff" stroke="#a8a8a8" stroke-width="0.7"/>
<circle cx="186.7" cy="167.6" r="0.6" fill="#444"/>
<g fill="#1a1a1a" stroke="#1a1a1a" stroke-width="0.12"><use href="#g10" x="178.76" y="168.90"/><use href="#ge5" x="182.57" y="167.50"/></g>
<circle cx="186.7" cy="177.4" r="0.6" fill="#444"/>
<g fill="#1a1a1a" stroke="#1a1a1a" stroke-width="0.12"><use href="#g10" x="178.76" y="178.70"/><use href="#ge4" x="182.57" y="177.30"/></g>
<circle cx="186.7" cy="186.5" r="0.6" fill="#444"/>
<g fill="#1a1a1a" stroke="#1a1a1a" stroke-width="0.12"><use href="#g10" x="178.76" y="187.80"/><use href="#ge3" x="182.57" y="186.40"/></g>
<circle cx="186.7" cy="196.0" r="0.6" fill="#444"/>
<g fill="#1a1a1a" stroke="#1a1a1a" stroke-width="0.12"><use href="#g10" x="178.76" y="197.30"/><use href="#ge2" x="182.57" y="195.90"/></g>
<circle cx="186.7" cy="205.3" r="0.6" fill="#444"/>
<g fill="#1a1a1a" stroke="#1a1a1a" stroke-width="0.12"><use href="#g10" x="178.76" y="206.60"/><use href="#ge1" x="182.57" y="205.20"/></g>
<circle cx="186.7" cy="214.4" r="0.6" fill="#444"/>
<g fill="#1a1a1a" stroke="#1a1a1a" stroke-width="0.12"><use href="#g10" x="178.76" y="215.70"/><use href="#ge0" x="182.57" y="214.30"/></g>
<circle cx="187.7" cy="214.8" r="0.6" fill="#444"/>
<g fill="#1a1a1a" stroke="#1a1a1a" stroke-width="0.12"><use href="#g10" x="185.36" y="221.00"/><use href="#ge0" x="189.17" y="219.60"/></g>
<circle cx="197.0" cy="214.8" r="0.6" fill="#444"/>
<g fill="#1a1a1a" stroke="#1a1a1a" stroke-width="0.12"><use href="#g10" x="194.66" y="221.00"/><use href="#ge1" x="198.47" y="219.60"/></g>
<circle cx="206.1" cy="214.8" r="0.6" fill="#444"/>
<g fill="#1a1a1a" stroke="#1a1a1a" stroke-width="0.12"><use href="#g10" x="203.76" y="221.00"/><use href="#ge2" x="207.57" y="219.60"/></g>
<circle cx="216.2" cy="214.8" r="0.6" fill="#444"/>
<g fill="#1a1a1a" stroke="#1a1a1a" stroke-width="0.12"><use href="#g10" x="213.86" y="221.00"/><use href="#ge3" x="217.67" y="219.60"/></g>
<circle cx="225.29999999999998" cy="214.8" r="0.6" fill="#444"/>
<g fill="#1a1a1a" stroke="#1a1a1a" stroke-width="0.12"><use href="#g10" x="222.96" y="221.00"/><use href="#ge4" x="226.77" y="219.60"/></g>
<circle cx="234.5" cy="214.8" r="0.6" fill="#444"/>
<g fill="#1a1a1a" stroke="#1a1a1a" stroke-width="0.12"><use href="#g10" x="232.16" y="221.00"/><use href="#ge5" x="235.97" y="219.60"/></g>
<g transform="translate(186.7,162.9)"><ellipse cx="20" cy="20.3" rx="19" ry="6.5" fill="#ececec" filter="url(#blur2)"/><path d="M2.5,20.2 C8,17.6 18,16.2 28,16.5 C34,16.7 37,18 37.6,20 C37.8,22.5 35,24.6 30,24.3 C22,23.8 12,23.2 7,21.9 C4.5,21.3 3,20.7 2.5,20.2 Z" fill="#acacac" stroke="#555" stroke-width="0.7"/><path d="M6,20.2 C14,18.4 24,18 33,19 M8,21.5 C16,22.5 26,22.8 34,22.1 M12,19.3 C20,17.8 28,17.6 35,18.6 M9,20.8 C16,20.2 24,20.4 31,20.9 M14,22.6 C20,23.4 26,23.6 31,23.2 M16,17.6 C22,17 28,17 32,17.5" fill="none" stroke="#4a4a4a" stroke-width="0.5"/><circle cx="8.6" cy="18.8" r="1.4" fill="#333"/><circle cx="33.8" cy="20.2" r="2.5" fill="#f0f0f0" stroke="#333" stroke-width="1.0"/><line x1="0.6" y1="16.5" x2="0.6" y2="24.5" stroke="#333" stroke-width="1.0"/><circle cx="36.5" cy="16.2" r="0.31" fill="#b0b0b0" opacity="0.8"/><circle cx="26.5" cy="11.7" r="0.47" fill="#9a9a9a" opacity="0.8"/><circle cx="24.2" cy="23.0" r="0.28" fill="#9a9a9a" opacity="0.8"/><circle cx="14.8" cy="24.5" r="0.35" fill="#888" opacity="0.8"/><circle cx="10.4" cy="15.7" r="0.36" fill="#c4c4c4" opacity="0.8"/><circle cx="26.2" cy="14.4" r="0.35" fill="#888" opacity="0.8"/><circle cx="10.6" cy="20.4" r="0.30" fill="#9a9a9a" opacity="0.8"/><circle cx="28.7" cy="24.1" r="0.33" fill="#c4c4c4" opacity="0.8"/><circle cx="12.5" cy="13.4" r="0.43" fill="#c4c4c4" opacity="0.8"/><circle cx="34.8" cy="11.0" r="0.39" fill="#b0b0b0" opacity="0.8"/><circle cx="5.1" cy="21.9" r="0.28" fill="#c4c4c4" opacity="0.8"/><circle cx="26.9" cy="13.0" r="0.48" fill="#888" opacity="0.8"/><circle cx="37.1" cy="18.5" r="0.29" fill="#b0b0b0" opacity="0.8"/><circle cx="37.4" cy="32.1" r="0.42" fill="#9a9a9a" opacity="0.8"/><circle cx="39.9" cy="15.1" r="0.48" fill="#9a9a9a" opacity="0.8"/><circle cx="4.9" cy="18.6" r="0.36" fill="#b0b0b0" opacity="0.8"/><circle cx="39.7" cy="22.0" r="0.25" fill="#c4c4c4" opacity="0.8"/><circle cx="27.1" cy="18.0" r="0.42" fill="#c4c4c4" opacity="0.8"/><circle cx="17.9" cy="12.5" r="0.46" fill="#9a9a9a" opacity="0.8"/><circle cx="9.1" cy="22.2" r="0.39" fill="#888" opacity="0.8"/><circle cx="3.5" cy="18.7" r="0.31" fill="#c4c4c4" opacity="0.8"/><circle cx="6.2" cy="19.4" r="0.42" fill="#c4c4c4" opacity="0.8"/><circle cx="32.1" cy="22.7" r="0.29" fill="#9a9a9a" opacity="0.8"/><circle cx="37.2" cy="27.4" r="0.47" fill="#b0b0b0" opacity="0.8"/><circle cx="35.4" cy="17.7" r="0.30" fill="#9a9a9a" opacity="0.8"/><circle cx="10.3" cy="21.3" r="0.27" fill="#b0b0b0" opacity="0.8"/><circle cx="7.6" cy="18.6" r="0.36" fill="#9a9a9a" opacity="0.8"/><circle cx="3.1" cy="21.6" r="0.45" fill="#b0b0b0" opacity="0.8"/><circle cx="14.5" cy="22.2" r="0.30" fill="#c4c4c4" opacity="0.8"/><circle cx="26.0" cy="19.4" r="0.42" fill="#b0b0b0" opacity="0.8"/><circle cx="6.7" cy="19.0" r="0.43" fill="#c4c4c4" opacity="0.8"/><circle cx="13.5" cy="29.4" r="0.45" fill="#888" opacity="0.8"/><circle cx="5.5" cy="10.4" r="0.43" fill="#9a9a9a" opacity="0.8"/><circle cx="22.6" cy="22.9" r="0.43" fill="#c4c4c4" opacity="0.8"/><circle cx="9.6" cy="18.1" r="0.25" fill="#9a9a9a" opacity="0.8"/><circle cx="39.4" cy="32.3" r="0.44" fill="#b0b0b0" opacity="0.8"/><circle cx="25.9" cy="14.2" r="0.45" fill="#c4c4c4" opacity="0.8"/><circle cx="19.4" cy="24.0" r="0.47" fill="#b0b0b0" opacity="0.8"/><circle cx="16.9" cy="23.3" r="0.25" fill="#c4c4c4" opacity="0.8"/><circle cx="31.8" cy="15.7" r="0.27" fill="#888" opacity="0.8"/><circle cx="35.2" cy="15.8" r="0.36" fill="#c4c4c4" opacity="0.8"/><circle cx="35.8" cy="30.0" r="0.30" fill="#888" opacity="0.8"/><circle cx="4.9" cy="21.4" r="0.26" fill="#c4c4c4" opacity="0.8"/><circle cx="7.4" cy="21.6" r="0.39" fill="#b0b0b0" opacity="0.8"/><circle cx="13.9" cy="20.0" r="0.34" fill="#c4c4c4" opacity="0.8"/><circle cx="8.4" cy="18.1" r="0.36" fill="#b0b0b0" opacity="0.8"/><circle cx="19.6" cy="32.6" r="0.38" fill="#c4c4c4" opacity="0.8"/><circle cx="27.0" cy="13.2" r="0.41" fill="#c4c4c4" opacity="0.8"/><circle cx="31.5" cy="17.7" r="0.37" fill="#b0b0b0" opacity="0.8"/><circle cx="30.2" cy="16.5" r="0.37" fill="#b0b0b0" opacity="0.8"/><circle cx="16.1" cy="32.2" r="0.41" fill="#b0b0b0" opacity="0.8"/><circle cx="29.0" cy="10.5" r="0.44" fill="#9a9a9a" opacity="0.8"/><circle cx="26.9" cy="15.1" r="0.39" fill="#b0b0b0" opacity="0.8"/><circle cx="29.1" cy="19.3" r="0.41" fill="#888" opacity="0.8"/><circle cx="37.7" cy="23.6" r="0.39" fill="#9a9a9a" opacity="0.8"/><circle cx="36.7" cy="24.1" r="0.33" fill="#b0b0b0" opacity="0.8"/><circle cx="12.1" cy="21.0" r="0.32" fill="#b0b0b0" opacity="0.8"/><circle cx="6.5" cy="16.9" r="0.50" fill="#c4c4c4" opacity="0.8"/><circle cx="21.3" cy="14.5" r="0.43" fill="#888" opacity="0.8"/><circle cx="21.8" cy="20.2" r="0.41" fill="#9a9a9a" opacity="0.8"/><circle cx="8.0" cy="18.9" r="0.48" fill="#888" opacity="0.8"/><circle cx="9.3" cy="15.5" r="0.42" fill="#888" opacity="0.8"/><circle cx="31.8" cy="16.9" r="0.30" fill="#b0b0b0" opacity="0.8"/><circle cx="7.4" cy="20.5" r="0.35" fill="#888" opacity="0.8"/><circle cx="5.5" cy="21.1" r="0.45" fill="#9a9a9a" opacity="0.8"/><circle cx="29.7" cy="10.6" r="0.43" fill="#b0b0b0" opacity="0.8"/><circle cx="35.2" cy="21.7" r="0.46" fill="#888" opacity="0.8"/><circle cx="6.5" cy="23.5" r="0.44" fill="#b0b0b0" opacity="0.8"/><circle cx="39.0" cy="14.5" r="0.29" fill="#c4c4c4" opacity="0.8"/><circle cx="15.4" cy="18.6" r="0.29" fill="#888" opacity="0.8"/><circle cx="21.9" cy="26.1" r="0.29" fill="#9a9a9a" opacity="0.8"/><circle cx="33.5" cy="13.3" r="0.28" fill="#9a9a9a" opacity="0.8"/><circle cx="13.4" cy="11.8" r="0.40" fill="#b0b0b0" opacity="0.8"/><circle cx="36.0" cy="27.0" r="0.36" fill="#888" opacity="0.8"/><circle cx="37.6" cy="29.5" r="0.46" fill="#b0b0b0" opacity="0.8"/><circle cx="6.5" cy="21.9" r="0.29" fill="#c4c4c4" opacity="0.8"/><circle cx="38.6" cy="23.4" r="0.36" fill="#888" opacity="0.8"/><circle cx="32.0" cy="19.7" r="0.38" fill="#b0b0b0" opacity="0.8"/><circle cx="19.7" cy="16.2" r="0.44" fill="#c4c4c4" opacity="0.8"/><circle cx="12.7" cy="20.1" r="0.49" fill="#c4c4c4" opacity="0.8"/><circle cx="17.9" cy="28.6" r="0.42" fill="#9a9a9a" opacity="0.8"/><circle cx="16.5" cy="15.4" r="0.39" fill="#9a9a9a" opacity="0.8"/><circle cx="31.5" cy="22.1" r="0.43" fill="#9a9a9a" opacity="0.8"/><circle cx="18.6" cy="23.5" r="0.25" fill="#9a9a9a" opacity="0.8"/><circle cx="31.0" cy="9.8" r="0.27" fill="#888" opacity="0.8"/><circle cx="31.2" cy="29.1" r="0.47" fill="#888" opacity="0.8"/><circle cx="34.8" cy="21.6" r="0.28" fill="#c4c4c4" opacity="0.8"/><circle cx="10.0" cy="15.2" r="0.44" fill="#9a9a9a" opacity="0.8"/><circle cx="34.8" cy="21.9" r="0.32" fill="#b0b0b0" opacity="0.8"/><circle cx="7.6" cy="22.8" r="0.48" fill="#b0b0b0" opacity="0.8"/><circle cx="39.5" cy="16.1" r="0.40" fill="#c4c4c4" opacity="0.8"/><circle cx="26.8" cy="16.3" r="0.33" fill="#b0b0b0" opacity="0.8"/><circle cx="37.6" cy="32.0" r="0.29" fill="#888" opacity="0.8"/><circle cx="8.5" cy="23.0" r="0.28" fill="#c4c4c4" opacity="0.8"/><circle cx="35.7" cy="25.4" r="0.29" fill="#9a9a9a" opacity="0.8"/><circle cx="38.7" cy="20.2" r="0.45" fill="#c4c4c4" opacity="0.8"/><circle cx="10.5" cy="22.4" r="0.38" fill="#b0b0b0" opacity="0.8"/><circle cx="38.1" cy="22.2" r="0.34" fill="#c4c4c4" opacity="0.8"/><circle cx="30.7" cy="29.4" r="0.25" fill="#888" opacity="0.8"/><circle cx="32.1" cy="21.7" r="0.45" fill="#888" opacity="0.8"/><circle cx="32.0" cy="36.5" r="0.26" fill="#9a9a9a" opacity="0.8"/><circle cx="34.4" cy="25.9" r="0.32" fill="#888" opacity="0.8"/><circle cx="26.1" cy="18.4" r="0.47" fill="#888" opacity="0.8"/><circle cx="5.6" cy="27.3" r="0.44" fill="#888" opacity="0.8"/><circle cx="12.6" cy="28.0" r="0.42" fill="#9a9a9a" opacity="0.8"/><circle cx="3.2" cy="20.9" r="0.43" fill="#c4c4c4" opacity="0.8"/><circle cx="21.3" cy="25.2" r="0.42" fill="#9a9a9a" opacity="0.8"/><circle cx="36.7" cy="24.9" r="0.47" fill="#9a9a9a" opacity="0.8"/><circle cx="11.5" cy="20.3" r="0.43" fill="#9a9a9a" opacity="0.8"/><circle cx="33.6" cy="26.1" r="0.31" fill="#9a9a9a" opacity="0.8"/></g>
<rect x="215.7" y="174.4" width="13.5" height="16.9" fill="none" stroke="#808080" stroke-width="0.6"/>
<text x="225.29999999999998" y="208.10000000000002" font-size="4.6" text-anchor="middle" textLength="7.6" lengthAdjust="spacingAndGlyphs" fill="#222" stroke="#222" stroke-width="0.22">3.70</text>
<rect x="186.7" y="226.6" width="52.2" height="52" fill="#fff" stroke="#a8a8a8" stroke-width="0.7"/>
<circle cx="186.7" cy="231.29999999999998" r="0.6" fill="#444"/>
<g fill="#1a1a1a" stroke="#1a1a1a" stroke-width="0.12"><use href="#g10" x="178.76" y="232.60"/><use href="#ge5" x="182.57" y="231.20"/></g>
<circle cx="186.7" cy="241.1" r="0.6" fill="#444"/>
<g fill="#1a1a1a" stroke="#1a1a1a" stroke-width="0.12"><use href="#g10" x="178.76" y="242.40"/><use href="#ge4" x="182.57" y="241.00"/></g>
<circle cx="186.7" cy="250.2" r="0.6" fill="#444"/>
<g fill="#1a1a1a" stroke="#1a1a1a" stroke-width="0.12"><use href="#g10" x="178.76" y="251.50"/><use href="#ge3" x="182.57" y="250.10"/></g>
<circle cx="186.7" cy="259.7" r="0.6" fill="#444"/>
<g fill="#1a1a1a" stroke="#1a1a1a" stroke-width="0.12"><use href="#g10" x="178.76" y="261.00"/><use href="#ge2" x="182.57" y="259.60"/></g>
<circle cx="186.7" cy="269.0" r="0.6" fill="#444"/>
<g fill="#1a1a1a" stroke="#1a1a1a" stroke-width="0.12"><use href="#g10" x="178.76" y="270.30"/><use href="#ge1" x="182.57" y="268.90"/></g>
<circle cx="186.7" cy="278.1" r="0.6" fill="#444"/>
<g fill="#1a1a1a" stroke="#1a1a1a" stroke-width="0.12"><use href="#g10" x="178.76" y="279.40"/><use href="#ge0" x="182.57" y="278.00"/></g>
<circle cx="187.7" cy="278.6" r="0.6" fill="#444"/>
<g fill="#1a1a1a" stroke="#1a1a1a" stroke-width="0.12"><use href="#g10" x="185.36" y="284.80"/><use href="#ge0" x="189.17" y="283.40"/></g>
<circle cx="197.0" cy="278.6" r="0.6" fill="#444"/>
<g fill="#1a1a1a" stroke="#1a1a1a" stroke-width="0.12"><use href="#g10" x="194.66" y="284.80"/><use href="#ge1" x="198.47" y="283.40"/></g>
<circle cx="206.1" cy="278.6" r="0.6" fill="#444"/>
<g fill="#1a1a1a" stroke="#1a1a1a" stroke-width="0.12"><use href="#g10" x="203.76" y="284.80"/><use href="#ge2" x="207.57" y="283.40"/></g>
<circle cx="216.2" cy="278.6" r="0.6" fill="#444"/>
<g fill="#1a1a1a" stroke="#1a1a1a" stroke-width="0.12"><use href="#g10" x="213.86" y="284.80"/><use href="#ge3" x="217.67" y="283.40"/></g>
<circle cx="225.29999999999998" cy="278.6" r="0.6" fill="#444"/>
<g fill="#1a1a1a" stroke="#1a1a1a" stroke-width="0.12"><use href="#g10" x="222.96" y="284.80"/><use href="#ge4" x="226.77" y="283.40"/></g>
<circle cx="234.5" cy="278.6" r="0.6" fill="#444"/>
<g fill="#1a1a1a" stroke="#1a1a1a" stroke-width="0.12"><use href="#g10" x="232.16" y="284.80"/><use href="#ge5" x="235.97" y="283.40"/></g>
<g transform="translate(186.7,226.6)"><ellipse cx="19" cy="21.5" rx="18" ry="7" fill="#ededed" filter="url(#blur2)"/><path d="M3,19.8 C8,17.3 16,16.4 24,16.7 C29,16.9 32,17.4 34,18.8 L35,20.3 C31,21 29,24 27,26.4 C25,28 22,28 19,26.5 C14,24 8,21.5 3,19.8 Z" fill="#cfcfcf" stroke="#5a5a5a" stroke-width="0.6"/><path d="M6,19.4 C12,18.2 20,17.9 31,18.6 M8,20.2 C14,19.6 22,19.8 30,20.4 M10,21.5 C16,22.5 22,24.5 27,24 M14,18.6 C20,18.4 26,18.6 32,19.6" fill="none" stroke="#555" stroke-width="0.5"/><path d="M9,20.6 C15,24 20,27.6 24,27.7 C27,27.7 29,25 31.5,21.5" fill="none" stroke="#333" stroke-width="1.0"/><circle cx="35.4" cy="20.4" r="2.4" fill="#f4f4f4" stroke="#333" stroke-width="0.85"/><line x1="0.6" y1="16" x2="0.6" y2="27" stroke="#333" stroke-width="1.0"/><circle cx="16.9" cy="30.1" r="0.41" fill="#c4c4c4" opacity="0.8"/><circle cx="4.6" cy="17.7" r="0.26" fill="#c4c4c4" opacity="0.8"/><circle cx="23.9" cy="31.9" r="0.38" fill="#b0b0b0" opacity="0.8"/><circle cx="32.4" cy="27.7" r="0.46" fill="#c4c4c4" opacity="0.8"/><circle cx="9.7" cy="18.0" r="0.47" fill="#9a9a9a" opacity="0.8"/><circle cx="33.8" cy="26.3" r="0.40" fill="#9a9a9a" opacity="0.8"/><circle cx="16.2" cy="19.2" r="0.27" fill="#9a9a9a" opacity="0.8"/><circle cx="23.8" cy="29.4" r="0.43" fill="#b0b0b0" opacity="0.8"/><circle cx="38.8" cy="18.5" r="0.44" fill="#b0b0b0" opacity="0.8"/><circle cx="34.9" cy="20.4" r="0.36" fill="#888" opacity="0.8"/><circle cx="21.3" cy="15.4" r="0.32" fill="#888" opacity="0.8"/><circle cx="4.8" cy="20.9" r="0.46" fill="#888" opacity="0.8"/><circle cx="16.9" cy="25.7" r="0.40" fill="#888" opacity="0.8"/><circle cx="16.0" cy="21.1" r="0.28" fill="#b0b0b0" opacity="0.8"/><circle cx="11.7" cy="23.4" r="0.30" fill="#b0b0b0" opacity="0.8"/><circle cx="8.4" cy="26.4" r="0.30" fill="#c4c4c4" opacity="0.8"/><circle cx="26.4" cy="30.8" r="0.33" fill="#c4c4c4" opacity="0.8"/><circle cx="21.3" cy="17.4" r="0.36" fill="#888" opacity="0.8"/><circle cx="16.1" cy="26.3" r="0.33" fill="#888" opacity="0.8"/><circle cx="4.0" cy="20.8" r="0.39" fill="#b0b0b0" opacity="0.8"/><circle cx="9.5" cy="17.4" r="0.40" fill="#c4c4c4" opacity="0.8"/><circle cx="4.2" cy="17.8" r="0.43" fill="#b0b0b0" opacity="0.8"/><circle cx="4.2" cy="22.9" r="0.27" fill="#c4c4c4" opacity="0.8"/><circle cx="18.1" cy="23.1" r="0.39" fill="#b0b0b0" opacity="0.8"/><circle cx="7.7" cy="31.6" r="0.42" fill="#9a9a9a" opacity="0.8"/><circle cx="11.0" cy="18.3" r="0.27" fill="#b0b0b0" opacity="0.8"/><circle cx="25.8" cy="31.6" r="0.32" fill="#b0b0b0" opacity="0.8"/><circle cx="29.6" cy="24.7" r="0.26" fill="#c4c4c4" opacity="0.8"/><circle cx="25.2" cy="23.4" r="0.46" fill="#9a9a9a" opacity="0.8"/><circle cx="13.2" cy="18.6" r="0.25" fill="#c4c4c4" opacity="0.8"/><circle cx="13.6" cy="21.9" r="0.49" fill="#888" opacity="0.8"/><circle cx="11.7" cy="8.7" r="0.34" fill="#888" opacity="0.8"/><circle cx="21.6" cy="23.3" r="0.34" fill="#b0b0b0" opacity="0.8"/><circle cx="5.6" cy="24.2" r="0.41" fill="#9a9a9a" opacity="0.8"/><circle cx="38.0" cy="24.1" r="0.28" fill="#9a9a9a" opacity="0.8"/><circle cx="35.5" cy="15.6" r="0.43" fill="#9a9a9a" opacity="0.8"/><circle cx="36.1" cy="15.8" r="0.27" fill="#9a9a9a" opacity="0.8"/><circle cx="16.9" cy="34.4" r="0.47" fill="#9a9a9a" opacity="0.8"/><circle cx="33.2" cy="30.2" r="0.26" fill="#888" opacity="0.8"/><circle cx="38.9" cy="23.0" r="0.45" fill="#9a9a9a" opacity="0.8"/><circle cx="10.4" cy="30.7" r="0.45" fill="#888" opacity="0.8"/><circle cx="36.0" cy="27.2" r="0.35" fill="#b0b0b0" opacity="0.8"/><circle cx="16.6" cy="32.6" r="0.29" fill="#b0b0b0" opacity="0.8"/><circle cx="21.6" cy="31.3" r="0.27" fill="#888" opacity="0.8"/><circle cx="27.0" cy="24.6" r="0.38" fill="#b0b0b0" opacity="0.8"/><circle cx="13.4" cy="20.1" r="0.27" fill="#b0b0b0" opacity="0.8"/><circle cx="35.2" cy="17.7" r="0.34" fill="#b0b0b0" opacity="0.8"/><circle cx="39.9" cy="21.8" r="0.36" fill="#b0b0b0" opacity="0.8"/><circle cx="4.4" cy="15.1" r="0.34" fill="#b0b0b0" opacity="0.8"/><circle cx="18.8" cy="24.9" r="0.34" fill="#888" opacity="0.8"/><circle cx="35.0" cy="23.4" r="0.38" fill="#9a9a9a" opacity="0.8"/><circle cx="28.4" cy="29.1" r="0.32" fill="#888" opacity="0.8"/><circle cx="32.4" cy="26.3" r="0.49" fill="#9a9a9a" opacity="0.8"/><circle cx="18.5" cy="28.3" r="0.47" fill="#c4c4c4" opacity="0.8"/><circle cx="5.3" cy="17.1" r="0.39" fill="#9a9a9a" opacity="0.8"/><circle cx="12.9" cy="26.7" r="0.25" fill="#888" opacity="0.8"/><circle cx="15.2" cy="31.1" r="0.37" fill="#9a9a9a" opacity="0.8"/><circle cx="24.9" cy="26.9" r="0.49" fill="#c4c4c4" opacity="0.8"/><circle cx="22.5" cy="16.1" r="0.38" fill="#b0b0b0" opacity="0.8"/><circle cx="34.6" cy="21.6" r="0.25" fill="#c4c4c4" opacity="0.8"/><circle cx="38.2" cy="28.2" r="0.48" fill="#b0b0b0" opacity="0.8"/><circle cx="7.3" cy="22.4" r="0.50" fill="#c4c4c4" opacity="0.8"/><circle cx="3.6" cy="20.4" r="0.38" fill="#888" opacity="0.8"/><circle cx="15.8" cy="34.1" r="0.38" fill="#9a9a9a" opacity="0.8"/><circle cx="24.3" cy="24.4" r="0.44" fill="#c4c4c4" opacity="0.8"/><circle cx="22.6" cy="21.0" r="0.29" fill="#c4c4c4" opacity="0.8"/><circle cx="24.5" cy="18.5" r="0.28" fill="#888" opacity="0.8"/><circle cx="20.0" cy="22.5" r="0.34" fill="#b0b0b0" opacity="0.8"/><circle cx="39.5" cy="21.5" r="0.40" fill="#888" opacity="0.8"/><circle cx="37.8" cy="19.7" r="0.34" fill="#b0b0b0" opacity="0.8"/><circle cx="13.5" cy="30.8" r="0.49" fill="#c4c4c4" opacity="0.8"/><circle cx="28.4" cy="30.5" r="0.26" fill="#9a9a9a" opacity="0.8"/><circle cx="35.0" cy="28.8" r="0.48" fill="#b0b0b0" opacity="0.8"/><circle cx="23.9" cy="23.0" r="0.39" fill="#b0b0b0" opacity="0.8"/><circle cx="36.9" cy="28.5" r="0.46" fill="#888" opacity="0.8"/><circle cx="13.7" cy="22.2" r="0.31" fill="#9a9a9a" opacity="0.8"/><circle cx="37.9" cy="10.2" r="0.38" fill="#888" opacity="0.8"/><circle cx="24.7" cy="27.4" r="0.36" fill="#888" opacity="0.8"/><circle cx="12.9" cy="20.4" r="0.42" fill="#888" opacity="0.8"/><circle cx="38.6" cy="25.6" r="0.29" fill="#c4c4c4" opacity="0.8"/><circle cx="12.6" cy="35.5" r="0.49" fill="#b0b0b0" opacity="0.8"/><circle cx="25.5" cy="20.1" r="0.27" fill="#9a9a9a" opacity="0.8"/><circle cx="7.0" cy="26.1" r="0.42" fill="#888" opacity="0.8"/><circle cx="6.3" cy="25.3" r="0.37" fill="#9a9a9a" opacity="0.8"/><circle cx="33.9" cy="15.1" r="0.46" fill="#b0b0b0" opacity="0.8"/><circle cx="15.7" cy="26.6" r="0.49" fill="#b0b0b0" opacity="0.8"/><circle cx="11.7" cy="11.6" r="0.44" fill="#b0b0b0" opacity="0.8"/><circle cx="24.3" cy="29.5" r="0.28" fill="#c4c4c4" opacity="0.8"/><circle cx="39.3" cy="25.4" r="0.39" fill="#888" opacity="0.8"/><circle cx="24.3" cy="16.6" r="0.36" fill="#c4c4c4" opacity="0.8"/><circle cx="11.2" cy="21.9" r="0.26" fill="#b0b0b0" opacity="0.8"/><circle cx="17.6" cy="21.2" r="0.35" fill="#9a9a9a" opacity="0.8"/><circle cx="5.1" cy="17.8" r="0.29" fill="#888" opacity="0.8"/><circle cx="25.9" cy="31.7" r="0.31" fill="#b0b0b0" opacity="0.8"/><circle cx="38.4" cy="22.8" r="0.41" fill="#b0b0b0" opacity="0.8"/><circle cx="5.5" cy="22.1" r="0.43" fill="#888" opacity="0.8"/><circle cx="8.5" cy="15.7" r="0.34" fill="#b0b0b0" opacity="0.8"/><circle cx="14.8" cy="20.8" r="0.28" fill="#888" opacity="0.8"/><circle cx="20.0" cy="13.7" r="0.39" fill="#b0b0b0" opacity="0.8"/><circle cx="10.3" cy="27.5" r="0.27" fill="#c4c4c4" opacity="0.8"/><circle cx="6.3" cy="22.5" r="0.42" fill="#b0b0b0" opacity="0.8"/><circle cx="8.8" cy="24.5" r="0.38" fill="#c4c4c4" opacity="0.8"/><circle cx="20.9" cy="18.4" r="0.40" fill="#c4c4c4" opacity="0.8"/><circle cx="29.7" cy="21.6" r="0.43" fill="#9a9a9a" opacity="0.8"/><circle cx="35.9" cy="28.0" r="0.41" fill="#c4c4c4" opacity="0.8"/><circle cx="9.0" cy="22.8" r="0.32" fill="#9a9a9a" opacity="0.8"/><circle cx="39.4" cy="21.8" r="0.35" fill="#c4c4c4" opacity="0.8"/><circle cx="38.5" cy="34.4" r="0.34" fill="#c4c4c4" opacity="0.8"/><circle cx="36.7" cy="18.5" r="0.45" fill="#9a9a9a" opacity="0.8"/><circle cx="14.3" cy="19.5" r="0.34" fill="#b0b0b0" opacity="0.8"/></g>
<rect x="215.7" y="238.5" width="13.5" height="16.4" fill="none" stroke="#808080" stroke-width="0.6"/>
<text x="225.29999999999998" y="271.8" font-size="4.6" text-anchor="middle" textLength="7.6" lengthAdjust="spacingAndGlyphs" fill="#222" stroke="#222" stroke-width="0.22">4.86</text>
<text x="11.9" y="190.6" font-size="7.4" font-weight="bold" textLength="24.3" lengthAdjust="spacingAndGlyphs" fill="#111" stroke="#111" stroke-width="0.12">Spleen</text>
<text x="8" y="254.2" font-size="7.4" font-weight="bold" textLength="28.5" lengthAdjust="spacingAndGlyphs" fill="#111" stroke="#111" stroke-width="0.12">Thymus</text>
<line x1="41.7" y1="257.7" x2="41.7" y2="177" stroke="#111" stroke-width="1.1"/>
<polygon points="41.7,173.4 39.9,178 43.5,178" fill="#111"/>
<text x="44.5" y="272.3" font-size="7.6" text-anchor="middle" textLength="13.5" lengthAdjust="spacingAndGlyphs" transform="rotate(-90 44.5 272.3)" fill="#111" stroke="#111" stroke-width="0.06">CD4</text>
<text x="56.9" y="294.6" font-size="7.6" textLength="18" lengthAdjust="spacingAndGlyphs" fill="#111" stroke="#111" stroke-width="0.06">FoxP3</text>
<line x1="78.5" y1="292.3" x2="233" y2="292.3" stroke="#111" stroke-width="1.1"/>
<polygon points="237,292.3 232.5,290.5 232.5,294.1" fill="#111"/>
<circle cx="371.6" cy="132.7" r="0.9" fill="#c4c4c4"/>
<text x="376.2" y="134.7" font-size="5.6" textLength="57.2" lengthAdjust="spacingAndGlyphs" fill="#111" stroke="#111" stroke-width="0.22">CD11c-Cre<tspan font-size="3.8" dy="-2.8">neg</tspan><tspan dy="2.8"> TCD BM</tspan></text>
<circle cx="371.6" cy="141.9" r="0.9" fill="#111"/>
<text x="376.2" y="143.9" font-size="5.6" textLength="65.8" lengthAdjust="spacingAndGlyphs" fill="#111" stroke="#111" stroke-width="0.22">IA<tspan font-size="3.8" dy="-2.8">b</tspan><tspan dy="2.8">-CD11c-Cre</tspan><tspan font-size="3.8" dy="-2.8">pos</tspan><tspan dy="2.8"> TCD BM</tspan></text>
<circle cx="371.6" cy="150.0" r="0.9" fill="#a8123a"/>
<text x="376.2" y="152.0" font-size="5.6" textLength="59.8" lengthAdjust="spacingAndGlyphs" fill="#111" stroke="#111" stroke-width="0.22">IA<tspan font-size="3.8" dy="-2.8">b</tspan><tspan dy="2.8">-CD11c-Cre</tspan><tspan font-size="3.8" dy="-2.8">pos</tspan><tspan dy="2.8"> BM+T</tspan></text>
<line x1="303.3" y1="169.5" x2="306.5" y2="169.5" stroke="#111" stroke-width="0.8"/>
<text x="299.9" y="171.8" font-size="5.4" text-anchor="end" fill="#111" stroke="#111" stroke-width="0.12">200</text>
<line x1="303.3" y1="182.2" x2="306.5" y2="182.2" stroke="#111" stroke-width="0.8"/>
<text x="299.9" y="184.5" font-size="5.4" text-anchor="end" fill="#111" stroke="#111" stroke-width="0.12">150</text>
<line x1="303.3" y1="194.6" x2="306.5" y2="194.6" stroke="#111" stroke-width="0.8"/>
<text x="299.9" y="196.9" font-size="5.4" text-anchor="end" fill="#111" stroke="#111" stroke-width="0.12">100</text>
<line x1="303.3" y1="207" x2="306.5" y2="207" stroke="#111" stroke-width="0.8"/>
<text x="299.9" y="209.3" font-size="5.4" text-anchor="end" fill="#111" stroke="#111" stroke-width="0.12">50</text>
<line x1="303.3" y1="219.2" x2="306.5" y2="219.2" stroke="#111" stroke-width="0.8"/>
<text x="299.9" y="221.5" font-size="5.4" text-anchor="end" fill="#111" stroke="#111" stroke-width="0.12">0</text>
<text x="285.8" y="193.2" font-size="7.4" text-anchor="middle" textLength="39" lengthAdjust="spacingAndGlyphs" transform="rotate(-90 285.8 193.2)" fill="#1a1a1a" stroke="#1a1a1a" stroke-width="0.06">cells # (x10<tspan font-size="4.6" dy="-2.6">6</tspan><tspan dy="2.6">)</tspan></text>
<line x1="312.3" y1="164.9" x2="335" y2="164.9" stroke="#111" stroke-width="1"/>
<circle cx="322.34999999999997" cy="161.8" r="0.85" fill="#111"/>
<circle cx="324.45" cy="161.8" r="0.85" fill="#111"/>
<line x1="311" y1="171.1" x2="320.8" y2="171.1" stroke="#111" stroke-width="1"/>
<circle cx="315.15" cy="168" r="0.85" fill="#111"/>
<circle cx="317.25" cy="168" r="0.85" fill="#111"/>
<line x1="323.4" y1="179.8" x2="335.7" y2="179.8" stroke="#111" stroke-width="1"/>
<circle cx="329.5" cy="177.2" r="0.85" fill="#111"/>
<circle cx="310.8" cy="176.5" r="1.062" fill="#c4c4c4"/>
<circle cx="313.8" cy="176.8" r="1.062" fill="#c4c4c4"/>
<circle cx="312.3" cy="178.5" r="1.062" fill="#c4c4c4"/>
<circle cx="314" cy="181" r="1.062" fill="#c4c4c4"/>
<circle cx="311" cy="183.4" r="1.062" fill="#c4c4c4"/>
<circle cx="313" cy="185.7" r="1.062" fill="#c4c4c4"/>
<circle cx="311.5" cy="188.8" r="1.062" fill="#c4c4c4"/>
<circle cx="313.5" cy="190.3" r="1.062" fill="#c4c4c4"/>
<circle cx="310.8" cy="202.6" r="1.062" fill="#c4c4c4"/>
<circle cx="313.8" cy="202.6" r="1.062" fill="#c4c4c4"/>
<line x1="309.0" y1="188" x2="315.6" y2="188" stroke="#c4c4c4" stroke-width="0.9"/>
<line x1="312.3" y1="185" x2="312.3" y2="191" stroke="#c4c4c4" stroke-width="0.9"/>
<line x1="310.8" y1="185" x2="313.8" y2="185" stroke="#c4c4c4" stroke-width="0.9"/>
<line x1="310.8" y1="191" x2="313.8" y2="191" stroke="#c4c4c4" stroke-width="0.9"/>
<circle cx="322.8" cy="195.7" r="1.18" fill="#24497c"/>
<circle cx="321.3" cy="207.2" r="1.18" fill="#24497c"/>
<circle cx="324.3" cy="207.6" r="1.18" fill="#24497c"/>
<circle cx="322" cy="209.5" r="1.18" fill="#24497c"/>
<circle cx="324" cy="210.3" r="1.18" fill="#24497c"/>
<circle cx="322.8" cy="211" r="1.18" fill="#24497c"/>
<circle cx="322.8" cy="216.5" r="1.18" fill="#24497c"/>
<line x1="319.5" y1="208.5" x2="326.1" y2="208.5" stroke="#24497c" stroke-width="0.9"/>
<line x1="322.8" y1="206.5" x2="322.8" y2="211" stroke="#24497c" stroke-width="0.9"/>
<line x1="321.3" y1="206.5" x2="324.3" y2="206.5" stroke="#24497c" stroke-width="0.9"/>
<line x1="321.3" y1="211" x2="324.3" y2="211" stroke="#24497c" stroke-width="0.9"/>
<circle cx="331.5" cy="214.5" r="1.2389999999999999" fill="#a8123a"/>
<circle cx="333.5" cy="215.5" r="1.2389999999999999" fill="#a8123a"/>
<circle cx="335.5" cy="215" r="1.2389999999999999" fill="#a8123a"/>
<circle cx="332.3" cy="217.2" r="1.2389999999999999" fill="#a8123a"/>
<circle cx="334.7" cy="217.6" r="1.2389999999999999" fill="#a8123a"/>
<circle cx="333.5" cy="216.5" r="1.2389999999999999" fill="#a8123a"/>
<line x1="330.5" y1="215.8" x2="336.5" y2="215.8" stroke="#a8123a" stroke-width="0.9"/>
<line x1="333.5" y1="214.5" x2="333.5" y2="217.2" stroke="#a8123a" stroke-width="0.9"/>
<line x1="332.1" y1="214.5" x2="334.9" y2="214.5" stroke="#a8123a" stroke-width="0.9"/>
<line x1="332.1" y1="217.2" x2="334.9" y2="217.2" stroke="#a8123a" stroke-width="0.9"/>
<line x1="387.0" y1="169.5" x2="390.2" y2="169.5" stroke="#111" stroke-width="0.8"/>
<text x="385.4" y="171.8" font-size="5.4" text-anchor="end" fill="#111" stroke="#111" stroke-width="0.12">20</text>
<line x1="387.0" y1="181.8" x2="390.2" y2="181.8" stroke="#111" stroke-width="0.8"/>
<text x="385.4" y="184.10000000000002" font-size="5.4" text-anchor="end" fill="#111" stroke="#111" stroke-width="0.12">15</text>
<line x1="387.0" y1="194.5" x2="390.2" y2="194.5" stroke="#111" stroke-width="0.8"/>
<text x="385.4" y="196.8" font-size="5.4" text-anchor="end" fill="#111" stroke="#111" stroke-width="0.12">10</text>
<line x1="387.0" y1="207" x2="390.2" y2="207" stroke="#111" stroke-width="0.8"/>
<text x="385.4" y="209.3" font-size="5.4" text-anchor="end" fill="#111" stroke="#111" stroke-width="0.12">5</text>
<line x1="387.0" y1="219.2" x2="390.2" y2="219.2" stroke="#111" stroke-width="0.8"/>
<text x="385.4" y="221.5" font-size="5.4" text-anchor="end" fill="#111" stroke="#111" stroke-width="0.12">0</text>
<text x="365.0" y="192.1" font-size="7.4" text-anchor="middle" textLength="68" lengthAdjust="spacingAndGlyphs" transform="rotate(-90 365.0 192.1)" fill="#1a1a1a" stroke="#1a1a1a" stroke-width="0.06">% splenic CD4<tspan font-size="4.6" dy="-2.6">+</tspan><tspan dy="2.6"> FoxP3</tspan><tspan font-size="4.6" dy="-2.6">+</tspan></text>
<text x="374.6" y="192.1" font-size="7.4" text-anchor="middle" textLength="55" lengthAdjust="spacingAndGlyphs" transform="rotate(-90 374.6 192.1)" fill="#1a1a1a" stroke="#1a1a1a" stroke-width="0.06">gated on CD4<tspan font-size="4.6" dy="-2.6">+</tspan><tspan dy="2.6">CD3</tspan><tspan font-size="4.6" dy="-2.6">+</tspan></text>
<line x1="396" y1="170.3" x2="420.2" y2="170.3" stroke="#111" stroke-width="1"/>
<circle cx="406.75" cy="167.2" r="0.85" fill="#111"/>
<circle cx="408.85" cy="167.2" r="0.85" fill="#111"/>
<line x1="394.5" y1="177.7" x2="407.4" y2="177.7" stroke="#111" stroke-width="1"/>
<circle cx="398.9" cy="174.4" r="0.85" fill="#111"/>
<circle cx="401.0" cy="174.4" r="0.85" fill="#111"/>
<circle cx="403.1" cy="174.4" r="0.85" fill="#111"/>
<circle cx="394.5" cy="181.8" r="1.062" fill="#c4c4c4"/>
<circle cx="393" cy="194.5" r="1.062" fill="#c4c4c4"/>
<circle cx="396" cy="194.5" r="1.062" fill="#c4c4c4"/>
<circle cx="394" cy="196.5" r="1.062" fill="#c4c4c4"/>
<circle cx="397" cy="196.2" r="1.062" fill="#c4c4c4"/>
<circle cx="395" cy="198.5" r="1.062" fill="#c4c4c4"/>
<circle cx="396" cy="200" r="1.062" fill="#c4c4c4"/>
<line x1="391.7" y1="196.8" x2="398.3" y2="196.8" stroke="#c4c4c4" stroke-width="0.9"/>
<line x1="395" y1="195.5" x2="395" y2="198.2" stroke="#c4c4c4" stroke-width="0.9"/>
<line x1="393.5" y1="195.5" x2="396.5" y2="195.5" stroke="#c4c4c4" stroke-width="0.9"/>
<line x1="393.5" y1="198.2" x2="396.5" y2="198.2" stroke="#c4c4c4" stroke-width="0.9"/>
<circle cx="404.5" cy="207.3" r="1.18" fill="#24497c"/>
<circle cx="406.5" cy="206" r="1.18" fill="#24497c"/>
<circle cx="408.8" cy="207" r="1.18" fill="#24497c"/>
<circle cx="405.5" cy="209.2" r="1.18" fill="#24497c"/>
<circle cx="407.8" cy="209.8" r="1.18" fill="#24497c"/>
<circle cx="406.8" cy="214.2" r="1.18" fill="#24497c"/>
<circle cx="409.5" cy="205.5" r="1.18" fill="#24497c"/>
<line x1="403.7" y1="208.6" x2="409.90000000000003" y2="208.6" stroke="#24497c" stroke-width="0.9"/>
<line x1="406.8" y1="207.6" x2="406.8" y2="209.6" stroke="#24497c" stroke-width="0.9"/>
<line x1="405.40000000000003" y1="207.6" x2="408.2" y2="207.6" stroke="#24497c" stroke-width="0.9"/>
<line x1="405.40000000000003" y1="209.6" x2="408.2" y2="209.6" stroke="#24497c" stroke-width="0.9"/>
<circle cx="415" cy="210" r="1.2389999999999999" fill="#a8123a"/>
<circle cx="417" cy="210.6" r="1.2389999999999999" fill="#a8123a"/>
<circle cx="419" cy="210.3" r="1.2389999999999999" fill="#a8123a"/>
<circle cx="416" cy="211.6" r="1.2389999999999999" fill="#a8123a"/>
<circle cx="418.5" cy="211.6" r="1.2389999999999999" fill="#a8123a"/>
<circle cx="420.5" cy="211" r="1.2389999999999999" fill="#a8123a"/>
<line x1="474.2" y1="168.8" x2="477.4" y2="168.8" stroke="#111" stroke-width="0.8"/>
<text x="472.4" y="171.10000000000002" font-size="5.4" text-anchor="end" fill="#111" stroke="#111" stroke-width="0.12">3</text>
<line x1="474.2" y1="185.7" x2="477.4" y2="185.7" stroke="#111" stroke-width="0.8"/>
<text x="472.4" y="188.0" font-size="5.4" text-anchor="end" fill="#111" stroke="#111" stroke-width="0.12">2</text>
<line x1="474.2" y1="202.6" x2="477.4" y2="202.6" stroke="#111" stroke-width="0.8"/>
<text x="472.4" y="204.9" font-size="5.4" text-anchor="end" fill="#111" stroke="#111" stroke-width="0.12">1</text>
<line x1="474.2" y1="219.2" x2="477.4" y2="219.2" stroke="#111" stroke-width="0.8"/>
<text x="472.4" y="221.5" font-size="5.4" text-anchor="end" fill="#111" stroke="#111" stroke-width="0.12">0</text>
<text x="447.5" y="192.5" font-size="7.4" text-anchor="middle" textLength="52" lengthAdjust="spacingAndGlyphs" transform="rotate(-90 447.5 192.5)" fill="#1a1a1a" stroke="#1a1a1a" stroke-width="0.06">Absolute number</text>
<text x="456.4" y="192.5" font-size="7.4" text-anchor="middle" textLength="37" lengthAdjust="spacingAndGlyphs" transform="rotate(-90 456.4 192.5)" fill="#1a1a1a" stroke="#1a1a1a" stroke-width="0.06">CD4<tspan font-size="4.6" dy="-2.6">+</tspan><tspan dy="2.6"> FoxP3</tspan><tspan font-size="4.6" dy="-2.6">+</tspan></text>
<text x="465.6" y="192.5" font-size="7.4" text-anchor="middle" textLength="35.5" lengthAdjust="spacingAndGlyphs" transform="rotate(-90 465.6 192.5)" fill="#1a1a1a" stroke="#1a1a1a" stroke-width="0.06">(x10<tspan font-size="4.6" dy="-2.6">6</tspan><tspan dy="2.6"> cells)</tspan></text>
<line x1="482.5" y1="164.9" x2="504.6" y2="164.9" stroke="#111" stroke-width="1"/>
<circle cx="492.45" cy="161.6" r="0.85" fill="#111"/>
<circle cx="494.55" cy="161.6" r="0.85" fill="#111"/>
<line x1="482.5" y1="171.8" x2="494.8" y2="171.8" stroke="#111" stroke-width="1"/>
<circle cx="486.09999999999997" cy="168.6" r="0.85" fill="#111"/>
<circle cx="488.2" cy="168.6" r="0.85" fill="#111"/>
<circle cx="490.3" cy="168.6" r="0.85" fill="#111"/>
<line x1="495" y1="179.5" x2="506.6" y2="179.5" stroke="#111" stroke-width="1"/>
<circle cx="500.8" cy="176.8" r="0.85" fill="#111"/>
<circle cx="481.5" cy="174.2" r="1.062" fill="#c4c4c4"/>
<circle cx="484.5" cy="174.2" r="1.062" fill="#c4c4c4"/>
<circle cx="483" cy="175.9" r="1.062" fill="#c4c4c4"/>
<circle cx="482" cy="181" r="1.062" fill="#c4c4c4"/>
<circle cx="485" cy="183.5" r="1.062" fill="#c4c4c4"/>
<circle cx="482.5" cy="187.5" r="1.062" fill="#c4c4c4"/>
<circle cx="484.5" cy="189.5" r="1.062" fill="#c4c4c4"/>
<circle cx="483" cy="192.6" r="1.062" fill="#c4c4c4"/>
<circle cx="483" cy="204.2" r="1.062" fill="#c4c4c4"/>
<line x1="479.7" y1="185.4" x2="486.3" y2="185.4" stroke="#c4c4c4" stroke-width="0.9"/>
<line x1="483" y1="183" x2="483" y2="188" stroke="#c4c4c4" stroke-width="0.9"/>
<line x1="481.5" y1="183" x2="484.5" y2="183" stroke="#c4c4c4" stroke-width="0.9"/>
<line x1="481.5" y1="188" x2="484.5" y2="188" stroke="#c4c4c4" stroke-width="0.9"/>
<circle cx="494.8" cy="204.5" r="1.18" fill="#24497c"/>
<circle cx="492.5" cy="211.8" r="1.18" fill="#24497c"/>
<circle cx="494.8" cy="212" r="1.18" fill="#24497c"/>
<circle cx="497" cy="212" r="1.18" fill="#24497c"/>
<circle cx="493.5" cy="214" r="1.18" fill="#24497c"/>
<circle cx="496" cy="214.5" r="1.18" fill="#24497c"/>
<circle cx="494.8" cy="217.8" r="1.18" fill="#24497c"/>
<line x1="491.5" y1="213.6" x2="498.1" y2="213.6" stroke="#24497c" stroke-width="0.9"/>
<line x1="494.8" y1="212.4" x2="494.8" y2="214.8" stroke="#24497c" stroke-width="0.9"/>
<line x1="493.3" y1="212.4" x2="496.3" y2="212.4" stroke="#24497c" stroke-width="0.9"/>
<line x1="493.3" y1="214.8" x2="496.3" y2="214.8" stroke="#24497c" stroke-width="0.9"/>
<circle cx="501.5" cy="217.2" r="1.2389999999999999" fill="#a8123a"/>
<circle cx="503.5" cy="217.6" r="1.2389999999999999" fill="#a8123a"/>
<circle cx="505.5" cy="217.2" r="1.2389999999999999" fill="#a8123a"/>
<circle cx="507.5" cy="217.6" r="1.2389999999999999" fill="#a8123a"/>
<circle cx="502.5" cy="218.5" r="1.2389999999999999" fill="#a8123a"/>
<circle cx="506.5" cy="218.5" r="1.2389999999999999" fill="#a8123a"/>
<line x1="303.3" y1="254" x2="306.5" y2="254" stroke="#111" stroke-width="0.8"/>
<text x="300.3" y="256.3" font-size="5.4" text-anchor="end" fill="#111" stroke="#111" stroke-width="0.12">60</text>
<line x1="303.3" y1="270.5" x2="306.5" y2="270.5" stroke="#111" stroke-width="0.8"/>
<text x="300.3" y="272.8" font-size="5.4" text-anchor="end" fill="#111" stroke="#111" stroke-width="0.12">40</text>
<line x1="303.3" y1="287.1" x2="306.5" y2="287.1" stroke="#111" stroke-width="0.8"/>
<text x="300.3" y="289.40000000000003" font-size="5.4" text-anchor="end" fill="#111" stroke="#111" stroke-width="0.12">20</text>
<line x1="303.3" y1="303.2" x2="306.5" y2="303.2" stroke="#111" stroke-width="0.8"/>
<text x="300.3" y="305.5" font-size="5.4" text-anchor="end" fill="#111" stroke="#111" stroke-width="0.12">0</text>
<text x="288.7" y="277" font-size="7.4" text-anchor="middle" textLength="39" lengthAdjust="spacingAndGlyphs" transform="rotate(-90 288.7 277)" fill="#1a1a1a" stroke="#1a1a1a" stroke-width="0.06">cells # (x10<tspan font-size="4.6" dy="-2.6">6</tspan><tspan dy="2.6">)</tspan></text>
<line x1="311" y1="249.4" x2="335.7" y2="249.4" stroke="#111" stroke-width="1"/>
<circle cx="323.4" cy="246.5" r="0.85" fill="#111"/>
<line x1="311" y1="254.8" x2="323" y2="254.8" stroke="#111" stroke-width="1"/>
<circle cx="315.95" cy="251.6" r="0.85" fill="#111"/>
<circle cx="318.05" cy="251.6" r="0.85" fill="#111"/>
<circle cx="311" cy="258.6" r="1.062" fill="#c4c4c4"/>
<circle cx="313.5" cy="260.5" r="1.062" fill="#c4c4c4"/>
<circle cx="312" cy="262.8" r="1.062" fill="#c4c4c4"/>
<circle cx="314" cy="264.5" r="1.062" fill="#c4c4c4"/>
<circle cx="310.8" cy="266.5" r="1.062" fill="#c4c4c4"/>
<circle cx="313" cy="268.5" r="1.062" fill="#c4c4c4"/>
<circle cx="311.5" cy="270.5" r="1.062" fill="#c4c4c4"/>
<circle cx="313.5" cy="273.2" r="1.062" fill="#c4c4c4"/>
<circle cx="311.8" cy="280.2" r="1.062" fill="#c4c4c4"/>
<line x1="308.7" y1="265.8" x2="315.3" y2="265.8" stroke="#c4c4c4" stroke-width="0.9"/>
<line x1="312" y1="263.5" x2="312" y2="268" stroke="#c4c4c4" stroke-width="0.9"/>
<line x1="310.5" y1="263.5" x2="313.5" y2="263.5" stroke="#c4c4c4" stroke-width="0.9"/>
<line x1="310.5" y1="268" x2="313.5" y2="268" stroke="#c4c4c4" stroke-width="0.9"/>
<circle cx="321.3" cy="276.3" r="1.18" fill="#24497c"/>
<circle cx="324.3" cy="276.3" r="1.18" fill="#24497c"/>
<circle cx="322" cy="279.4" r="1.18" fill="#24497c"/>
<circle cx="324" cy="281" r="1.18" fill="#24497c"/>
<circle cx="322.8" cy="282.5" r="1.18" fill="#24497c"/>
<circle cx="322.8" cy="289.4" r="1.18" fill="#24497c"/>
<circle cx="322.8" cy="302.4" r="1.18" fill="#24497c"/>
<line x1="319.5" y1="284.3" x2="326.1" y2="284.3" stroke="#24497c" stroke-width="0.9"/>
<line x1="322.8" y1="280.3" x2="322.8" y2="288.3" stroke="#24497c" stroke-width="0.9"/>
<line x1="321.3" y1="280.3" x2="324.3" y2="280.3" stroke="#24497c" stroke-width="0.9"/>
<line x1="321.3" y1="288.3" x2="324.3" y2="288.3" stroke="#24497c" stroke-width="0.9"/>
<circle cx="333.5" cy="275.5" r="1.2389999999999999" fill="#a8123a"/>
<circle cx="331.5" cy="277.5" r="1.2389999999999999" fill="#a8123a"/>
<circle cx="335.5" cy="277.5" r="1.2389999999999999" fill="#a8123a"/>
<circle cx="332.5" cy="280" r="1.2389999999999999" fill="#a8123a"/>
<circle cx="334.5" cy="280" r="1.2389999999999999" fill="#a8123a"/>
<circle cx="333.5" cy="282.5" r="1.2389999999999999" fill="#a8123a"/>
<line x1="330.5" y1="279" x2="336.5" y2="279" stroke="#a8123a" stroke-width="0.9"/>
<line x1="333.5" y1="277.5" x2="333.5" y2="280.5" stroke="#a8123a" stroke-width="0.9"/>
<line x1="332.1" y1="277.5" x2="334.9" y2="277.5" stroke="#a8123a" stroke-width="0.9"/>
<line x1="332.1" y1="280.5" x2="334.9" y2="280.5" stroke="#a8123a" stroke-width="0.9"/>
<line x1="386.6" y1="253.5" x2="389.8" y2="253.5" stroke="#111" stroke-width="0.8"/>
<text x="381.7" y="253.5" font-size="5.4" text-anchor="middle" transform="rotate(-90 381.7 253.5)" fill="#111" stroke="#111" stroke-width="0.12" dominant-baseline="central">6</text>
<line x1="386.6" y1="266.3" x2="389.8" y2="266.3" stroke="#111" stroke-width="0.8"/>
<text x="381.7" y="266.3" font-size="5.4" text-anchor="middle" transform="rotate(-90 381.7 266.3)" fill="#111" stroke="#111" stroke-width="0.12" dominant-baseline="central">5</text>
<line x1="386.6" y1="279" x2="389.8" y2="279" stroke="#111" stroke-width="0.8"/>
<text x="381.7" y="279" font-size="5.4" text-anchor="middle" transform="rotate(-90 381.7 279)" fill="#111" stroke="#111" stroke-width="0.12" dominant-baseline="central">4</text>
<line x1="386.6" y1="291.7" x2="389.8" y2="291.7" stroke="#111" stroke-width="0.8"/>
<text x="381.7" y="291.7" font-size="5.4" text-anchor="middle" transform="rotate(-90 381.7 291.7)" fill="#111" stroke="#111" stroke-width="0.12" dominant-baseline="central">3</text>
<line x1="386.6" y1="303.2" x2="389.8" y2="303.2" stroke="#111" stroke-width="0.8"/>
<text x="381.7" y="303.2" font-size="5.4" text-anchor="middle" transform="rotate(-90 381.7 303.2)" fill="#111" stroke="#111" stroke-width="0.12" dominant-baseline="central">2</text>
<text x="366" y="274.3" font-size="7.4" text-anchor="middle" textLength="66" lengthAdjust="spacingAndGlyphs" transform="rotate(-90 366 274.3)" fill="#1a1a1a" stroke="#1a1a1a" stroke-width="0.06">% thymic CD4<tspan font-size="4.6" dy="-2.6">+</tspan><tspan dy="2.6"> FoxP3</tspan><tspan font-size="4.6" dy="-2.6">+</tspan></text>
<text x="375.4" y="274.3" font-size="7.4" text-anchor="middle" textLength="55" lengthAdjust="spacingAndGlyphs" transform="rotate(-90 375.4 274.3)" fill="#1a1a1a" stroke="#1a1a1a" stroke-width="0.06">gated on CD4<tspan font-size="4.6" dy="-2.6">+</tspan><tspan dy="2.6">CD3</tspan><tspan font-size="4.6" dy="-2.6">+</tspan></text>
<line x1="394" y1="255" x2="405.8" y2="255" stroke="#111" stroke-width="1"/>
<circle cx="399.8" cy="252.2" r="0.85" fill="#111"/>
<line x1="407" y1="250.9" x2="417.5" y2="250.9" stroke="#111" stroke-width="1"/>
<circle cx="412.2" cy="248.4" r="0.85" fill="#111"/>
<circle cx="395" cy="259.4" r="1.062" fill="#c4c4c4"/>
<circle cx="393.5" cy="264" r="1.062" fill="#c4c4c4"/>
<circle cx="396.5" cy="265" r="1.062" fill="#c4c4c4"/>
<circle cx="394" cy="268" r="1.062" fill="#c4c4c4"/>
<circle cx="396" cy="269.5" r="1.062" fill="#c4c4c4"/>
<circle cx="393.5" cy="272" r="1.062" fill="#c4c4c4"/>
<circle cx="396" cy="274" r="1.062" fill="#c4c4c4"/>
<circle cx="395" cy="281" r="1.062" fill="#c4c4c4"/>
<line x1="391.7" y1="269.5" x2="398.3" y2="269.5" stroke="#c4c4c4" stroke-width="0.9"/>
<line x1="395" y1="267.5" x2="395" y2="271.5" stroke="#c4c4c4" stroke-width="0.9"/>
<line x1="393.5" y1="267.5" x2="396.5" y2="267.5" stroke="#c4c4c4" stroke-width="0.9"/>
<line x1="393.5" y1="271.5" x2="396.5" y2="271.5" stroke="#c4c4c4" stroke-width="0.9"/>
<circle cx="406.8" cy="267.8" r="1.18" fill="#24497c"/>
<circle cx="406.8" cy="274" r="1.18" fill="#24497c"/>
<circle cx="405" cy="277" r="1.18" fill="#24497c"/>
<circle cx="408.5" cy="277.5" r="1.18" fill="#24497c"/>
<circle cx="405.5" cy="283.2" r="1.18" fill="#24497c"/>
<circle cx="408" cy="283.2" r="1.18" fill="#24497c"/>
<circle cx="406.8" cy="289.8" r="1.18" fill="#24497c"/>
<line x1="403.5" y1="279.4" x2="410.1" y2="279.4" stroke="#24497c" stroke-width="0.9"/>
<line x1="406.8" y1="276.8" x2="406.8" y2="282" stroke="#24497c" stroke-width="0.9"/>
<line x1="405.3" y1="276.8" x2="408.3" y2="276.8" stroke="#24497c" stroke-width="0.9"/>
<line x1="405.3" y1="282" x2="408.3" y2="282" stroke="#24497c" stroke-width="0.9"/>
<circle cx="414" cy="262.5" r="1.2389999999999999" fill="#a8123a"/>
<circle cx="420" cy="262.5" r="1.2389999999999999" fill="#a8123a"/>
<circle cx="417" cy="265.2" r="1.2389999999999999" fill="#a8123a"/>
<circle cx="415" cy="272.5" r="1.2389999999999999" fill="#a8123a"/>
<circle cx="419" cy="272.5" r="1.2389999999999999" fill="#a8123a"/>
<circle cx="417" cy="276.3" r="1.2389999999999999" fill="#a8123a"/>
<line x1="414.0" y1="268.6" x2="420.0" y2="268.6" stroke="#a8123a" stroke-width="0.9"/>
<line x1="417" y1="265.8" x2="417" y2="271.4" stroke="#a8123a" stroke-width="0.9"/>
<line x1="415.6" y1="265.8" x2="418.4" y2="265.8" stroke="#a8123a" stroke-width="0.9"/>
<line x1="415.6" y1="271.4" x2="418.4" y2="271.4" stroke="#a8123a" stroke-width="0.9"/>
<line x1="474.2" y1="253.5" x2="477.4" y2="253.5" stroke="#111" stroke-width="0.8"/>
<text x="471.59999999999997" y="255.8" font-size="5.4" text-anchor="end" fill="#111" stroke="#111" stroke-width="0.12">0.6</text>
<line x1="474.2" y1="270.5" x2="477.4" y2="270.5" stroke="#111" stroke-width="0.8"/>
<text x="471.59999999999997" y="272.8" font-size="5.4" text-anchor="end" fill="#111" stroke="#111" stroke-width="0.12">0.4</text>
<line x1="474.2" y1="287" x2="477.4" y2="287" stroke="#111" stroke-width="0.8"/>
<text x="471.59999999999997" y="289.3" font-size="5.4" text-anchor="end" fill="#111" stroke="#111" stroke-width="0.12">0.2</text>
<line x1="474.2" y1="303.2" x2="477.4" y2="303.2" stroke="#111" stroke-width="0.8"/>
<text x="471.59999999999997" y="305.5" font-size="5.4" text-anchor="end" fill="#111" stroke="#111" stroke-width="0.12">0.0</text>
<text x="441" y="276.7" font-size="7.4" text-anchor="middle" textLength="52" lengthAdjust="spacingAndGlyphs" transform="rotate(-90 441 276.7)" fill="#1a1a1a" stroke="#1a1a1a" stroke-width="0.06">Absolute number</text>
<text x="450" y="276.7" font-size="7.4" text-anchor="middle" textLength="37" lengthAdjust="spacingAndGlyphs" transform="rotate(-90 450 276.7)" fill="#1a1a1a" stroke="#1a1a1a" stroke-width="0.06">CD4<tspan font-size="4.6" dy="-2.6">+</tspan><tspan dy="2.6"> FoxP3</tspan><tspan font-size="4.6" dy="-2.6">+</tspan></text>
<text x="459.6" y="276.7" font-size="7.4" text-anchor="middle" textLength="35.5" lengthAdjust="spacingAndGlyphs" transform="rotate(-90 459.6 276.7)" fill="#1a1a1a" stroke="#1a1a1a" stroke-width="0.06">(x10<tspan font-size="4.6" dy="-2.6">6</tspan><tspan dy="2.6"> cells)</tspan></text>
<line x1="483.5" y1="253.2" x2="496.3" y2="253.2" stroke="#111" stroke-width="1"/>
<circle cx="490.0" cy="250.3" r="0.85" fill="#111"/>
<circle cx="483" cy="256.3" r="1.062" fill="#c4c4c4"/>
<circle cx="483" cy="259.4" r="1.062" fill="#c4c4c4"/>
<circle cx="481.5" cy="267.8" r="1.062" fill="#c4c4c4"/>
<circle cx="484.5" cy="267.8" r="1.062" fill="#c4c4c4"/>
<circle cx="482" cy="276" r="1.062" fill="#c4c4c4"/>
<circle cx="484.5" cy="278" r="1.062" fill="#c4c4c4"/>
<circle cx="483" cy="280.2" r="1.062" fill="#c4c4c4"/>
<circle cx="483" cy="287.8" r="1.062" fill="#c4c4c4"/>
<line x1="479.7" y1="272.5" x2="486.3" y2="272.5" stroke="#c4c4c4" stroke-width="0.9"/>
<line x1="483" y1="269.5" x2="483" y2="275.5" stroke="#c4c4c4" stroke-width="0.9"/>
<line x1="481.5" y1="269.5" x2="484.5" y2="269.5" stroke="#c4c4c4" stroke-width="0.9"/>
<line x1="481.5" y1="275.5" x2="484.5" y2="275.5" stroke="#c4c4c4" stroke-width="0.9"/>
<circle cx="493" cy="278.6" r="1.18" fill="#24497c"/>
<circle cx="496" cy="279.5" r="1.18" fill="#24497c"/>
<circle cx="494.3" cy="281" r="1.18" fill="#24497c"/>
<circle cx="492.8" cy="286.5" r="1.18" fill="#24497c"/>
<circle cx="495.8" cy="286.5" r="1.18" fill="#24497c"/>
<circle cx="494.3" cy="288.6" r="1.18" fill="#24497c"/>
<circle cx="494.3" cy="302.2" r="1.18" fill="#24497c"/>
<line x1="491.0" y1="285.5" x2="497.6" y2="285.5" stroke="#24497c" stroke-width="0.9"/>
<line x1="494.3" y1="283.3" x2="494.3" y2="287.7" stroke="#24497c" stroke-width="0.9"/>
<line x1="492.8" y1="283.3" x2="495.8" y2="283.3" stroke="#24497c" stroke-width="0.9"/>
<line x1="492.8" y1="287.7" x2="495.8" y2="287.7" stroke="#24497c" stroke-width="0.9"/>
<circle cx="507" cy="267.8" r="1.2389999999999999" fill="#a8123a"/>
<circle cx="503.5" cy="270" r="1.2389999999999999" fill="#a8123a"/>
<circle cx="505.5" cy="271" r="1.2389999999999999" fill="#a8123a"/>
<circle cx="502" cy="281" r="1.2389999999999999" fill="#a8123a"/>
<circle cx="508" cy="281" r="1.2389999999999999" fill="#a8123a"/>
<line x1="502.5" y1="274" x2="508.5" y2="274" stroke="#a8123a" stroke-width="0.9"/>
<line x1="505.5" y1="271.5" x2="505.5" y2="276.5" stroke="#a8123a" stroke-width="0.9"/>
<line x1="504.1" y1="271.5" x2="506.9" y2="271.5" stroke="#a8123a" stroke-width="0.9"/>
<line x1="504.1" y1="276.5" x2="506.9" y2="276.5" stroke="#a8123a" stroke-width="0.9"/>
<text x="247.3" y="195.6" font-size="7.4" font-weight="bold" textLength="24.3" lengthAdjust="spacingAndGlyphs" fill="#111" stroke="#111" stroke-width="0.12">Spleen</text>
<text x="247.3" y="279.7" font-size="7.4" font-weight="bold" textLength="28.5" lengthAdjust="spacingAndGlyphs" fill="#111" stroke="#111" stroke-width="0.12">Thymus</text>
<text x="60.3" y="351.3" font-size="5.8" text-anchor="middle" font-weight="bold" textLength="33.6" lengthAdjust="spacingAndGlyphs" fill="#111" stroke="#111" stroke-width="0.16">CD11c-Cre<tspan font-size="3.7" dy="-2.6">neg</tspan></text>
<text x="134.8" y="351.3" font-size="5.8" text-anchor="middle" font-weight="bold" textLength="45" lengthAdjust="spacingAndGlyphs" fill="#111" stroke="#111" stroke-width="0.16">I-A<tspan font-size="3.7" dy="-2.6">b</tspan><tspan dy="2.6">-CD11c-Cre</tspan><tspan font-size="3.7" dy="-2.6">pos</tspan></text>
<text x="208.6" y="351.3" font-size="5.8" text-anchor="middle" font-weight="bold" textLength="19.7" lengthAdjust="spacingAndGlyphs" fill="#111" stroke="#111" stroke-width="0.16">H2-Ab1<tspan font-size="3.7" dy="-2.6">-/-</tspan></text>
<text x="9.5" y="386.6" font-size="5.4" font-weight="bold" textLength="10.3" lengthAdjust="spacingAndGlyphs" fill="#111" stroke="#111" stroke-width="0.12">D23</text>
<defs>
<linearGradient id="mbg" x1="0" y1="0" x2="0" y2="1"><stop offset="0" stop-color="#7c7c7c"/><stop offset="0.3" stop-color="#939393"/><stop offset="0.55" stop-color="#a8a8a8"/><stop offset="1" stop-color="#b2b2b2"/></linearGradient>
<radialGradient id="lum1" cx="0.55" cy="0.5" r="0.5"><stop offset="0" stop-color="#28c8d8"/><stop offset="0.3" stop-color="#1aa0e0"/><stop offset="0.6" stop-color="#1830e0"/><stop offset="0.85" stop-color="#2418d0"/><stop offset="1" stop-color="#4a20c8"/></radialGradient>
<radialGradient id="lum2" cx="0.5" cy="0.45" r="0.5"><stop offset="0" stop-color="#f0f0ff"/><stop offset="0.25" stop-color="#6040f0"/><stop offset="0.7" stop-color="#3820e0"/><stop offset="0.9" stop-color="#6030d0"/><stop offset="1" stop-color="#9060c0" stop-opacity="0.5"/></radialGradient>
<linearGradient id="cbar" x1="0" y1="0" x2="0" y2="1"><stop offset="0" stop-color="#7a3020"/><stop offset="0.15" stop-color="#e08030"/><stop offset="0.33" stop-color="#f0e040"/><stop offset="0.5" stop-color="#50d050"/><stop offset="0.66" stop-color="#30d0e0"/><stop offset="0.82" stop-color="#2040e0"/><stop offset="1" stop-color="#101060"/></linearGradient>
</defs>
<clipPath id="clip26"><rect x="26.3" y="355.5" width="68.5" height="59"/></clipPath>
<g clip-path="url(#clip26)">
<rect x="26.3" y="355.5" width="68.5" height="59" fill="url(#mbg)" stroke="none" stroke-width="0.8"/>
<line x1="27.3" y1="357.5" x2="27.3" y2="370.5" stroke="#b6b6b6" stroke-width="0.9" opacity="0.55"/>
<line x1="30.5" y1="357.5" x2="30.5" y2="370.5" stroke="#6e6e6e" stroke-width="0.9" opacity="0.55"/>
<line x1="33.7" y1="357.5" x2="33.7" y2="370.5" stroke="#b6b6b6" stroke-width="0.9" opacity="0.55"/>
<line x1="36.900000000000006" y1="357.5" x2="36.900000000000006" y2="370.5" stroke="#6e6e6e" stroke-width="0.9" opacity="0.55"/>
<line x1="40.1" y1="357.5" x2="40.1" y2="370.5" stroke="#b6b6b6" stroke-width="0.9" opacity="0.55"/>
<line x1="43.3" y1="357.5" x2="43.3" y2="370.5" stroke="#6e6e6e" stroke-width="0.9" opacity="0.55"/>
<line x1="46.5" y1="357.5" x2="46.5" y2="370.5" stroke="#b6b6b6" stroke-width="0.9" opacity="0.55"/>
<line x1="49.7" y1="357.5" x2="49.7" y2="370.5" stroke="#6e6e6e" stroke-width="0.9" opacity="0.55"/>
<line x1="52.900000000000006" y1="357.5" x2="52.900000000000006" y2="370.5" stroke="#b6b6b6" stroke-width="0.9" opacity="0.55"/>
<line x1="56.1" y1="357.5" x2="56.1" y2="370.5" stroke="#6e6e6e" stroke-width="0.9" opacity="0.55"/>
<line x1="59.3" y1="357.5" x2="59.3" y2="370.5" stroke="#b6b6b6" stroke-width="0.9" opacity="0.55"/>
<line x1="62.5" y1="357.5" x2="62.5" y2="370.5" stroke="#6e6e6e" stroke-width="0.9" opacity="0.55"/>
<line x1="65.7" y1="357.5" x2="65.7" y2="370.5" stroke="#b6b6b6" stroke-width="0.9" opacity="0.55"/>
<line x1="68.9" y1="357.5" x2="68.9" y2="370.5" stroke="#6e6e6e" stroke-width="0.9" opacity="0.55"/>
<line x1="72.10000000000001" y1="357.5" x2="72.10000000000001" y2="370.5" stroke="#b6b6b6" stroke-width="0.9" opacity="0.55"/>
<line x1="75.3" y1="357.5" x2="75.3" y2="370.5" stroke="#6e6e6e" stroke-width="0.9" opacity="0.55"/>
<line x1="78.5" y1="357.5" x2="78.5" y2="370.5" stroke="#b6b6b6" stroke-width="0.9" opacity="0.55"/>
<line x1="81.7" y1="357.5" x2="81.7" y2="370.5" stroke="#6e6e6e" stroke-width="0.9" opacity="0.55"/>
<line x1="84.9" y1="357.5" x2="84.9" y2="370.5" stroke="#b6b6b6" stroke-width="0.9" opacity="0.55"/>
<line x1="88.10000000000001" y1="357.5" x2="88.10000000000001" y2="370.5" stroke="#6e6e6e" stroke-width="0.9" opacity="0.55"/>
<line x1="91.3" y1="357.5" x2="91.3" y2="370.5" stroke="#b6b6b6" stroke-width="0.9" opacity="0.55"/>
<line x1="94.5" y1="357.5" x2="94.5" y2="370.5" stroke="#6e6e6e" stroke-width="0.9" opacity="0.55"/>
<rect x="26.3" y="355.5" width="68.5" height="1.9" fill="#5a5a5a" stroke="none" stroke-width="0.8"/>
<path d="M34.4,381.7 Q34.519999999999996,388.85 35,401" fill="none" stroke="#dadada" stroke-width="1.1" opacity="0.9"/>
<ellipse cx="34.4" cy="374.7" rx="5.8" ry="11" fill="#b2b2ae" stroke="#666a5a" stroke-width="0.9" opacity="0.55" filter="url(#blur1)"/>
<path d="M34.4,358.5 L34.4,365.5" stroke="#e4e4e4" stroke-width="1.3" opacity="0.8" filter="url(#blur1)"/>
<path d="M34.4,380.7 Q34.519999999999996,388.85 35,401" fill="none" stroke="#8a58d0" stroke-width="1.0" stroke-dasharray="2.2 0.8" opacity="0.9"/>
<ellipse cx="33.7" cy="360.6" rx="1.3" ry="1.8" fill="#4a1cc0"/>
<ellipse cx="34.4" cy="376.7" rx="5.4" ry="6.1" fill="#9a5ad0" opacity="0.8" filter="url(#blur1)"/>
<ellipse cx="34.4" cy="376.7" rx="4.4" ry="5.0" fill="url(#lum1)"/>
<path d="M46.7,382 Q46.86,389.0 47.5,401" fill="none" stroke="#dadada" stroke-width="1.1" opacity="0.9"/>
<ellipse cx="46.7" cy="375" rx="5.8" ry="11" fill="#b2b2ae" stroke="#666a5a" stroke-width="0.9" opacity="0.55" filter="url(#blur1)"/>
<path d="M46.7,358.5 L46.7,365.5" stroke="#e4e4e4" stroke-width="1.3" opacity="0.8" filter="url(#blur1)"/>
<path d="M46.7,381 Q46.86,389.0 47.5,401" fill="none" stroke="#8a58d0" stroke-width="1.0" stroke-dasharray="2.2 0.8" opacity="0.9"/>
<ellipse cx="46.7" cy="360.6" rx="1.3" ry="1.8" fill="#4a1cc0"/>
<ellipse cx="46.7" cy="377" rx="5.4" ry="6.1" fill="#9a5ad0" opacity="0.8" filter="url(#blur1)"/>
<ellipse cx="46.7" cy="377" rx="4.4" ry="5.0" fill="url(#lum1)"/>
<path d="M58.9,381.5 Q58.92,384.75 59,393" fill="none" stroke="#dadada" stroke-width="1.1" opacity="0.9"/>
<ellipse cx="58.9" cy="374.5" rx="5.8" ry="11" fill="#b2b2ae" stroke="#666a5a" stroke-width="0.9" opacity="0.55" filter="url(#blur1)"/>
<path d="M58.9,358.5 L58.9,365.5" stroke="#e4e4e4" stroke-width="1.3" opacity="0.8" filter="url(#blur1)"/>
<ellipse cx="58.9" cy="376.5" rx="5.4" ry="6.1" fill="#9a5ad0" opacity="0.8" filter="url(#blur1)"/>
<ellipse cx="58.9" cy="376.5" rx="4.4" ry="5.0" fill="url(#lum1)"/>
<path d="M73.6,382.5 Q73.97999999999999,393.25 75.5,409" fill="none" stroke="#dadada" stroke-width="1.1" opacity="0.9"/>
<ellipse cx="73.6" cy="375.5" rx="5.8" ry="11" fill="#b2b2ae" stroke="#666a5a" stroke-width="0.9" opacity="0.55" filter="url(#blur1)"/>
<path d="M73.6,358.5 L73.6,365.5" stroke="#e4e4e4" stroke-width="1.3" opacity="0.8" filter="url(#blur1)"/>
<path d="M73.6,381.5 Q73.97999999999999,393.25 75.5,409" fill="none" stroke="#8a58d0" stroke-width="1.0" stroke-dasharray="2.2 0.8" opacity="0.9"/>
<ellipse cx="73.6" cy="360.2" rx="1.3" ry="1.8" fill="#4a1cc0"/>
<ellipse cx="73.6" cy="377.5" rx="5.4" ry="6.1" fill="#9a5ad0" opacity="0.8" filter="url(#blur1)"/>
<ellipse cx="73.6" cy="377.5" rx="4.4" ry="5.0" fill="url(#lum1)"/>
<path d="M84.8,381 Q84.88,388.5 85.2,401" fill="none" stroke="#dadada" stroke-width="1.1" opacity="0.9"/>
<ellipse cx="84.8" cy="374" rx="5.8" ry="11" fill="#b2b2ae" stroke="#666a5a" stroke-width="0.9" opacity="0.55" filter="url(#blur1)"/>
<path d="M84.8,358.5 L84.8,365.5" stroke="#e4e4e4" stroke-width="1.3" opacity="0.8" filter="url(#blur1)"/>
<path d="M84.8,380 Q84.88,388.5 85.2,401" fill="none" stroke="#8a58d0" stroke-width="1.0" stroke-dasharray="2.2 0.8" opacity="0.9"/>
<ellipse cx="85.5" cy="360.6" rx="1.3" ry="1.8" fill="#4a1cc0"/>
<ellipse cx="84.8" cy="376" rx="5.4" ry="6.1" fill="#9a5ad0" opacity="0.8" filter="url(#blur1)"/>
<ellipse cx="84.8" cy="376" rx="4.4" ry="5.0" fill="url(#lum1)"/>
</g>
<ellipse cx="40.7" cy="366" rx="1.1" ry="1.3" fill="#6a3ac8" opacity="0.8"/><ellipse cx="68" cy="366.2" rx="1.2" ry="1.4" fill="#4a1cc0"/>
<clipPath id="clip100"><rect x="100.9" y="355.8" width="68" height="58.6"/></clipPath>
<g clip-path="url(#clip100)">
<rect x="100.9" y="355.8" width="68" height="58.6" fill="url(#mbg)" stroke="none" stroke-width="0.8"/>
<line x1="101.9" y1="357.8" x2="101.9" y2="370.8" stroke="#b6b6b6" stroke-width="0.9" opacity="0.55"/>
<line x1="105.10000000000001" y1="357.8" x2="105.10000000000001" y2="370.8" stroke="#6e6e6e" stroke-width="0.9" opacity="0.55"/>
<line x1="108.30000000000001" y1="357.8" x2="108.30000000000001" y2="370.8" stroke="#b6b6b6" stroke-width="0.9" opacity="0.55"/>
<line x1="111.5" y1="357.8" x2="111.5" y2="370.8" stroke="#6e6e6e" stroke-width="0.9" opacity="0.55"/>
<line x1="114.7" y1="357.8" x2="114.7" y2="370.8" stroke="#b6b6b6" stroke-width="0.9" opacity="0.55"/>
<line x1="117.9" y1="357.8" x2="117.9" y2="370.8" stroke="#6e6e6e" stroke-width="0.9" opacity="0.55"/>
<line x1="121.10000000000001" y1="357.8" x2="121.10000000000001" y2="370.8" stroke="#b6b6b6" stroke-width="0.9" opacity="0.55"/>
<line x1="124.30000000000001" y1="357.8" x2="124.30000000000001" y2="370.8" stroke="#6e6e6e" stroke-width="0.9" opacity="0.55"/>
<line x1="127.5" y1="357.8" x2="127.5" y2="370.8" stroke="#b6b6b6" stroke-width="0.9" opacity="0.55"/>
<line x1="130.70000000000002" y1="357.8" x2="130.70000000000002" y2="370.8" stroke="#6e6e6e" stroke-width="0.9" opacity="0.55"/>
<line x1="133.9" y1="357.8" x2="133.9" y2="370.8" stroke="#b6b6b6" stroke-width="0.9" opacity="0.55"/>
<line x1="137.10000000000002" y1="357.8" x2="137.10000000000002" y2="370.8" stroke="#6e6e6e" stroke-width="0.9" opacity="0.55"/>
<line x1="140.3" y1="357.8" x2="140.3" y2="370.8" stroke="#b6b6b6" stroke-width="0.9" opacity="0.55"/>
<line x1="143.5" y1="357.8" x2="143.5" y2="370.8" stroke="#6e6e6e" stroke-width="0.9" opacity="0.55"/>
<line x1="146.70000000000002" y1="357.8" x2="146.70000000000002" y2="370.8" stroke="#b6b6b6" stroke-width="0.9" opacity="0.55"/>
<line x1="149.9" y1="357.8" x2="149.9" y2="370.8" stroke="#6e6e6e" stroke-width="0.9" opacity="0.55"/>
<line x1="153.10000000000002" y1="357.8" x2="153.10000000000002" y2="370.8" stroke="#b6b6b6" stroke-width="0.9" opacity="0.55"/>
<line x1="156.3" y1="357.8" x2="156.3" y2="370.8" stroke="#6e6e6e" stroke-width="0.9" opacity="0.55"/>
<line x1="159.5" y1="357.8" x2="159.5" y2="370.8" stroke="#b6b6b6" stroke-width="0.9" opacity="0.55"/>
<line x1="162.70000000000002" y1="357.8" x2="162.70000000000002" y2="370.8" stroke="#6e6e6e" stroke-width="0.9" opacity="0.55"/>
<line x1="165.9" y1="357.8" x2="165.9" y2="370.8" stroke="#b6b6b6" stroke-width="0.9" opacity="0.55"/>
<line x1="169.10000000000002" y1="357.8" x2="169.10000000000002" y2="370.8" stroke="#6e6e6e" stroke-width="0.9" opacity="0.55"/>
<rect x="100.9" y="355.8" width="68" height="1.9" fill="#747474" stroke="none" stroke-width="0.8"/>
<path d="M106.7,381.4 Q106.76,393.2 107,410" fill="none" stroke="#dadada" stroke-width="1.1" opacity="0.9"/>
<ellipse cx="106.7" cy="374.4" rx="5.8" ry="11" fill="#b2b2ae" stroke="#666a5a" stroke-width="0.9" opacity="0.55" filter="url(#blur1)"/>
<path d="M106.7,358.8 L106.7,365.8" stroke="#e4e4e4" stroke-width="1.3" opacity="0.8" filter="url(#blur1)"/>
<ellipse cx="106.7" cy="376.4" rx="5.4" ry="5.9" fill="#a878d8" opacity="0.75" filter="url(#blur1)"/>
<ellipse cx="106.7" cy="376.4" rx="4.4" ry="4.9" fill="#3c16dc"/>
<ellipse cx="108.2" cy="373.2" rx="3.0" ry="1.8" fill="#f0ecf8" opacity="0.92" filter="url(#blur1)"/>
<path d="M117.5,383.0 Q117.7,394.0 118.5,410" fill="none" stroke="#dadada" stroke-width="1.1" opacity="0.9"/>
<ellipse cx="117.5" cy="376.0" rx="5.8" ry="11" fill="#b2b2ae" stroke="#666a5a" stroke-width="0.9" opacity="0.55" filter="url(#blur1)"/>
<path d="M117.5,358.8 L117.5,365.8" stroke="#e4e4e4" stroke-width="1.3" opacity="0.8" filter="url(#blur1)"/>
<ellipse cx="117.5" cy="378.0" rx="5.4" ry="5.9" fill="#a878d8" opacity="0.75" filter="url(#blur1)"/>
<ellipse cx="117.5" cy="378.0" rx="4.4" ry="4.9" fill="#3c16dc"/>
<ellipse cx="120.1" cy="378.0" rx="1.6" ry="3.2" fill="#f0ecf8" opacity="0.92" filter="url(#blur1)"/>
<path d="M133,380.6 Q132.96,392.8 132.8,410" fill="none" stroke="#dadada" stroke-width="1.1" opacity="0.9"/>
<ellipse cx="133" cy="373.6" rx="5.8" ry="11" fill="#b2b2ae" stroke="#666a5a" stroke-width="0.9" opacity="0.55" filter="url(#blur1)"/>
<path d="M133,358.8 L133,365.8" stroke="#e4e4e4" stroke-width="1.3" opacity="0.8" filter="url(#blur1)"/>
<ellipse cx="133" cy="375.6" rx="5.4" ry="5.9" fill="#a878d8" opacity="0.75" filter="url(#blur1)"/>
<ellipse cx="133" cy="375.6" rx="4.4" ry="4.9" fill="#3c16dc"/>
<ellipse cx="133" cy="371.40000000000003" rx="1.4" ry="1.0" fill="#f0ecf8" opacity="0.92" filter="url(#blur1)"/>
<path d="M147.1,383.0 Q147.18,391.5 147.5,405" fill="none" stroke="#dadada" stroke-width="1.1" opacity="0.9"/>
<ellipse cx="147.1" cy="376.0" rx="5.8" ry="11" fill="#b2b2ae" stroke="#666a5a" stroke-width="0.9" opacity="0.55" filter="url(#blur1)"/>
<path d="M147.1,358.8 L147.1,365.8" stroke="#e4e4e4" stroke-width="1.3" opacity="0.8" filter="url(#blur1)"/>
<ellipse cx="147.1" cy="378.0" rx="5.4" ry="5.9" fill="#a878d8" opacity="0.75" filter="url(#blur1)"/>
<ellipse cx="147.1" cy="378.0" rx="4.4" ry="4.9" fill="#3c16dc"/>
<ellipse cx="147.6" cy="375.4" rx="3.2" ry="2.0" fill="#f0ecf8" opacity="0.92" filter="url(#blur1)"/>
<path d="M163.9,381.4 Q163.8,390.7 163.4,405" fill="none" stroke="#dadada" stroke-width="1.1" opacity="0.9"/>
<ellipse cx="163.9" cy="374.4" rx="5.8" ry="11" fill="#b2b2ae" stroke="#666a5a" stroke-width="0.9" opacity="0.55" filter="url(#blur1)"/>
<path d="M163.9,358.8 L163.9,365.8" stroke="#e4e4e4" stroke-width="1.3" opacity="0.8" filter="url(#blur1)"/>
<ellipse cx="163.9" cy="376.4" rx="5.4" ry="5.9" fill="#a878d8" opacity="0.75" filter="url(#blur1)"/>
<ellipse cx="163.9" cy="376.4" rx="4.4" ry="4.9" fill="#3c16dc"/>
<ellipse cx="165.4" cy="377.4" rx="2.2" ry="2.6" fill="#f0ecf8" opacity="0.92" filter="url(#blur1)"/>
</g>
<clipPath id="clip175"><rect x="175" y="355.8" width="68" height="58.6"/></clipPath>
<g clip-path="url(#clip175)">
<rect x="175" y="355.8" width="68" height="58.6" fill="url(#mbg)" stroke="none" stroke-width="0.8"/>
<line x1="176.0" y1="357.8" x2="176.0" y2="370.8" stroke="#b6b6b6" stroke-width="0.9" opacity="0.55"/>
<line x1="179.2" y1="357.8" x2="179.2" y2="370.8" stroke="#6e6e6e" stroke-width="0.9" opacity="0.55"/>
<line x1="182.4" y1="357.8" x2="182.4" y2="370.8" stroke="#b6b6b6" stroke-width="0.9" opacity="0.55"/>
<line x1="185.6" y1="357.8" x2="185.6" y2="370.8" stroke="#6e6e6e" stroke-width="0.9" opacity="0.55"/>
<line x1="188.8" y1="357.8" x2="188.8" y2="370.8" stroke="#b6b6b6" stroke-width="0.9" opacity="0.55"/>
<line x1="192.0" y1="357.8" x2="192.0" y2="370.8" stroke="#6e6e6e" stroke-width="0.9" opacity="0.55"/>
<line x1="195.2" y1="357.8" x2="195.2" y2="370.8" stroke="#b6b6b6" stroke-width="0.9" opacity="0.55"/>
<line x1="198.4" y1="357.8" x2="198.4" y2="370.8" stroke="#6e6e6e" stroke-width="0.9" opacity="0.55"/>
<line x1="201.6" y1="357.8" x2="201.6" y2="370.8" stroke="#b6b6b6" stroke-width="0.9" opacity="0.55"/>
<line x1="204.8" y1="357.8" x2="204.8" y2="370.8" stroke="#6e6e6e" stroke-width="0.9" opacity="0.55"/>
<line x1="208.0" y1="357.8" x2="208.0" y2="370.8" stroke="#b6b6b6" stroke-width="0.9" opacity="0.55"/>
<line x1="211.2" y1="357.8" x2="211.2" y2="370.8" stroke="#6e6e6e" stroke-width="0.9" opacity="0.55"/>
<line x1="214.4" y1="357.8" x2="214.4" y2="370.8" stroke="#b6b6b6" stroke-width="0.9" opacity="0.55"/>
<line x1="217.6" y1="357.8" x2="217.6" y2="370.8" stroke="#6e6e6e" stroke-width="0.9" opacity="0.55"/>
<line x1="220.8" y1="357.8" x2="220.8" y2="370.8" stroke="#b6b6b6" stroke-width="0.9" opacity="0.55"/>
<line x1="224.0" y1="357.8" x2="224.0" y2="370.8" stroke="#6e6e6e" stroke-width="0.9" opacity="0.55"/>
<line x1="227.2" y1="357.8" x2="227.2" y2="370.8" stroke="#b6b6b6" stroke-width="0.9" opacity="0.55"/>
<line x1="230.4" y1="357.8" x2="230.4" y2="370.8" stroke="#6e6e6e" stroke-width="0.9" opacity="0.55"/>
<line x1="233.6" y1="357.8" x2="233.6" y2="370.8" stroke="#b6b6b6" stroke-width="0.9" opacity="0.55"/>
<line x1="236.8" y1="357.8" x2="236.8" y2="370.8" stroke="#6e6e6e" stroke-width="0.9" opacity="0.55"/>
<line x1="240.0" y1="357.8" x2="240.0" y2="370.8" stroke="#b6b6b6" stroke-width="0.9" opacity="0.55"/>
<line x1="243.2" y1="357.8" x2="243.2" y2="370.8" stroke="#6e6e6e" stroke-width="0.9" opacity="0.55"/>
<rect x="175" y="355.8" width="68" height="1.9" fill="#747474" stroke="none" stroke-width="0.8"/>
<path d="M182.2,382.6 Q182.26,393.8 182.5,410" fill="none" stroke="#dadada" stroke-width="1.1" opacity="0.9"/>
<ellipse cx="182.2" cy="375.6" rx="5.8" ry="11" fill="#b2b2ae" stroke="#666a5a" stroke-width="0.9" opacity="0.55" filter="url(#blur1)"/>
<path d="M182.2,358.8 L182.2,365.8" stroke="#e4e4e4" stroke-width="1.3" opacity="0.8" filter="url(#blur1)"/>
<ellipse cx="182.2" cy="377.6" rx="5.4" ry="5.9" fill="#a878d8" opacity="0.75" filter="url(#blur1)"/>
<ellipse cx="182.2" cy="377.6" rx="4.4" ry="4.9" fill="#3c16dc"/>
<ellipse cx="181.0" cy="380.0" rx="2.4" ry="2.0" fill="#f0ecf8" opacity="0.92" filter="url(#blur1)"/>
<path d="M193.7,382.6 Q193.76,393.8 194,410" fill="none" stroke="#dadada" stroke-width="1.1" opacity="0.9"/>
<ellipse cx="193.7" cy="375.6" rx="5.8" ry="11" fill="#b2b2ae" stroke="#666a5a" stroke-width="0.9" opacity="0.55" filter="url(#blur1)"/>
<path d="M193.7,358.8 L193.7,365.8" stroke="#e4e4e4" stroke-width="1.3" opacity="0.8" filter="url(#blur1)"/>
<ellipse cx="193.7" cy="377.6" rx="5.4" ry="5.9" fill="#a878d8" opacity="0.75" filter="url(#blur1)"/>
<ellipse cx="193.7" cy="377.6" rx="4.4" ry="4.9" fill="#3c16dc"/>
<ellipse cx="194.5" cy="375.0" rx="2.8" ry="1.8" fill="#f0ecf8" opacity="0.92" filter="url(#blur1)"/>
<path d="M207.9,382.6 Q207.92000000000002,393.8 208,410" fill="none" stroke="#dadada" stroke-width="1.1" opacity="0.9"/>
<ellipse cx="207.9" cy="375.6" rx="5.8" ry="11" fill="#b2b2ae" stroke="#666a5a" stroke-width="0.9" opacity="0.55" filter="url(#blur1)"/>
<path d="M207.9,358.8 L207.9,365.8" stroke="#e4e4e4" stroke-width="1.3" opacity="0.8" filter="url(#blur1)"/>
<ellipse cx="207.9" cy="377.6" rx="5.4" ry="5.9" fill="#a878d8" opacity="0.75" filter="url(#blur1)"/>
<ellipse cx="207.9" cy="377.6" rx="4.4" ry="4.9" fill="#3c16dc"/>
<ellipse cx="209.70000000000002" cy="374.8" rx="2.2" ry="1.6" fill="#f0ecf8" opacity="0.92" filter="url(#blur1)"/>
<path d="M223.9,382.6 Q224.02,392.8 224.5,408" fill="none" stroke="#dadada" stroke-width="1.1" opacity="0.9"/>
<ellipse cx="223.9" cy="375.6" rx="5.8" ry="11" fill="#b2b2ae" stroke="#666a5a" stroke-width="0.9" opacity="0.55" filter="url(#blur1)"/>
<path d="M223.9,358.8 L223.9,365.8" stroke="#e4e4e4" stroke-width="1.3" opacity="0.8" filter="url(#blur1)"/>
<ellipse cx="223.9" cy="377.6" rx="5.4" ry="5.9" fill="#a878d8" opacity="0.75" filter="url(#blur1)"/>
<ellipse cx="223.9" cy="377.6" rx="4.4" ry="4.9" fill="#3c16dc"/>
<ellipse cx="225.4" cy="374.6" rx="2.6" ry="1.6" fill="#f0ecf8" opacity="0.92" filter="url(#blur1)"/>
<path d="M234.5,382.6 Q234.2,391.3 233,405" fill="none" stroke="#dadada" stroke-width="1.1" opacity="0.9"/>
<ellipse cx="234.5" cy="375.6" rx="5.8" ry="11" fill="#b2b2ae" stroke="#666a5a" stroke-width="0.9" opacity="0.55" filter="url(#blur1)"/>
<path d="M234.5,358.8 L234.5,365.8" stroke="#e4e4e4" stroke-width="1.3" opacity="0.8" filter="url(#blur1)"/>
<path d="M234.5,381.6 Q234.2,391.3 233,405" fill="none" stroke="#6040c0" stroke-width="1.0" stroke-dasharray="2.2 0.8" opacity="0.9"/>
<ellipse cx="234.5" cy="361" rx="1.3" ry="1.8" fill="#4a1cc0"/>
<ellipse cx="234.5" cy="377.6" rx="5.4" ry="5.9" fill="#a878d8" opacity="0.75" filter="url(#blur1)"/>
<ellipse cx="234.5" cy="377.6" rx="4.4" ry="4.9" fill="#3c16dc"/>
<ellipse cx="234.5" cy="374.0" rx="2.6" ry="1.4" fill="#f0ecf8" opacity="0.92" filter="url(#blur1)"/>
</g>
<rect x="250.8" y="357.6" width="2.3" height="46.1" fill="url(#cbar)" stroke="none" stroke-width="0.8"/>
<text x="255" y="363" font-size="3" fill="#999" stroke="#999" stroke-width="0.22">-</text>
<text x="255" y="372" font-size="3" fill="#999" stroke="#999" stroke-width="0.22">-</text>
<text x="255" y="381" font-size="3" fill="#999" stroke="#999" stroke-width="0.22">-</text>
<text x="255" y="390" font-size="3" fill="#999" stroke="#999" stroke-width="0.22">-</text>
<text x="255" y="398" font-size="3" fill="#999" stroke="#999" stroke-width="0.22">-</text>
<text x="251" y="407.5" font-size="2.6" fill="#aaa" stroke="#aaa" stroke-width="0.22">Min</text>
<line x1="319.9" y1="347" x2="319.9" y2="401.2" stroke="#111" stroke-width="0.9"/>
<line x1="319.9" y1="400.8" x2="425.3" y2="400.8" stroke="#111" stroke-width="0.9"/>
<line x1="317.4" y1="351.1" x2="319.9" y2="351.1" stroke="#111" stroke-width="0.8"/>
<text x="314.9" y="353.0" font-size="5.2" text-anchor="end" textLength="15.2" lengthAdjust="spacingAndGlyphs" fill="#111" stroke="#111" stroke-width="0.22">3x10<tspan font-size="3.7" dy="-2.6">4</tspan></text>
<line x1="317.4" y1="361.2" x2="319.9" y2="361.2" stroke="#111" stroke-width="0.8"/>
<text x="314.9" y="363.09999999999997" font-size="5.2" text-anchor="end" textLength="15.2" lengthAdjust="spacingAndGlyphs" fill="#111" stroke="#111" stroke-width="0.22">2x10<tspan font-size="3.7" dy="-2.6">4</tspan></text>
<line x1="317.4" y1="371" x2="319.9" y2="371" stroke="#111" stroke-width="0.8"/>
<text x="314.9" y="372.9" font-size="5.2" text-anchor="end" textLength="15.2" lengthAdjust="spacingAndGlyphs" fill="#111" stroke="#111" stroke-width="0.22">2x10<tspan font-size="3.7" dy="-2.6">4</tspan></text>
<line x1="317.4" y1="381.2" x2="319.9" y2="381.2" stroke="#111" stroke-width="0.8"/>
<text x="314.9" y="383.09999999999997" font-size="5.2" text-anchor="end" textLength="15.2" lengthAdjust="spacingAndGlyphs" fill="#111" stroke="#111" stroke-width="0.22">1x10<tspan font-size="3.7" dy="-2.6">4</tspan></text>
<line x1="317.4" y1="391" x2="319.9" y2="391" stroke="#111" stroke-width="0.8"/>
<text x="314.9" y="392.9" font-size="5.2" text-anchor="end" textLength="15.2" lengthAdjust="spacingAndGlyphs" fill="#111" stroke="#111" stroke-width="0.22">5x10<tspan font-size="3.7" dy="-2.6">3</tspan></text>
<line x1="317.4" y1="400.9" x2="319.9" y2="400.9" stroke="#111" stroke-width="0.8"/>
<text x="314.9" y="402.79999999999995" font-size="5.2" text-anchor="end" fill="#111" stroke="#111" stroke-width="0.22">0</text>
<line x1="321.0" y1="400.8" x2="321.0" y2="402.8" stroke="#111" stroke-width="0.8"/>
<text x="321.0" y="409.6" font-size="5.4" text-anchor="middle" fill="#111" stroke="#111" stroke-width="0.22">0</text>
<line x1="341.9" y1="400.8" x2="341.9" y2="402.8" stroke="#111" stroke-width="0.8"/>
<text x="341.9" y="409.6" font-size="5.4" text-anchor="middle" fill="#111" stroke="#111" stroke-width="0.22">20</text>
<line x1="362.8" y1="400.8" x2="362.8" y2="402.8" stroke="#111" stroke-width="0.8"/>
<text x="362.8" y="409.6" font-size="5.4" text-anchor="middle" fill="#111" stroke="#111" stroke-width="0.22">40</text>
<line x1="383.7" y1="400.8" x2="383.7" y2="402.8" stroke="#111" stroke-width="0.8"/>
<text x="383.7" y="409.6" font-size="5.4" text-anchor="middle" fill="#111" stroke="#111" stroke-width="0.22">60</text>
<line x1="404.6" y1="400.8" x2="404.6" y2="402.8" stroke="#111" stroke-width="0.8"/>
<text x="404.6" y="409.6" font-size="5.4" text-anchor="middle" fill="#111" stroke="#111" stroke-width="0.22">80</text>
<line x1="425.5" y1="400.8" x2="425.5" y2="402.8" stroke="#111" stroke-width="0.8"/>
<text x="425.5" y="409.6" font-size="5.4" text-anchor="middle" fill="#111" stroke="#111" stroke-width="0.22">100</text>
<text x="372" y="420.3" font-size="8" text-anchor="middle" textLength="46.8" lengthAdjust="spacingAndGlyphs" fill="#111" stroke="#111" stroke-width="0.08">Days post-BMT</text>
<text x="296.3" y="374.2" font-size="7.4" text-anchor="middle" textLength="57" lengthAdjust="spacingAndGlyphs" transform="rotate(-90 296.3 374.2)" fill="#111" stroke="#111" stroke-width="0.06">BLI (p/sec/cm<tspan font-size="4.6" dy="-2.6">2</tspan><tspan dy="2.6">/sr)</tspan></text>
<polyline points="321.20,400.80 329.60,383.20 336.80,386.10 344.30,389.70 352.00,391.90 359.20,392.90 366.50,393.80 374.00,395.20 381.70,396.10 388.60,396.50 396.20,396.60 403.60,396.60 410.80,396.70 417.80,396.70" fill="none" stroke="#3a5a9a" stroke-width="1.1"/>
<polyline points="321.20,400.80 329.60,380.30 336.80,387.60 344.30,389.00 352.00,389.70 359.20,390.50 366.50,391.20 374.00,392.60 381.70,393.00 388.60,392.00 396.20,393.20 403.60,392.00 410.80,392.60 417.80,393.20" fill="none" stroke="#a8123a" stroke-width="1.1"/>
<polyline points="321.20,400.80 329.60,380.80 336.80,378.90 344.30,370.20 352.00,368.00 359.20,365.10 366.50,374.10 374.00,377.50 381.70,374.50 388.60,390.50 396.20,385.00 403.60,388.00 410.80,392.60 417.80,393.20" fill="none" stroke="#111" stroke-width="1.1"/>
<circle cx="329.6" cy="383.2" r="1.1" fill="#3a5a9a"/>
<line x1="329.6" y1="381.7" x2="329.6" y2="384.7" stroke="#3a5a9a" stroke-width="0.8"/>
<line x1="328.40000000000003" y1="381.7" x2="330.8" y2="381.7" stroke="#3a5a9a" stroke-width="0.8"/>
<line x1="328.40000000000003" y1="384.7" x2="330.8" y2="384.7" stroke="#3a5a9a" stroke-width="0.8"/>
<circle cx="336.8" cy="386.1" r="1.1" fill="#3a5a9a"/>
<line x1="336.8" y1="385.1" x2="336.8" y2="387.1" stroke="#3a5a9a" stroke-width="0.8"/>
<line x1="335.6" y1="385.1" x2="338.0" y2="385.1" stroke="#3a5a9a" stroke-width="0.8"/>
<line x1="335.6" y1="387.1" x2="338.0" y2="387.1" stroke="#3a5a9a" stroke-width="0.8"/>
<circle cx="344.3" cy="389.7" r="1.1" fill="#3a5a9a"/>
<line x1="344.3" y1="388.9" x2="344.3" y2="390.5" stroke="#3a5a9a" stroke-width="0.8"/>
<line x1="343.1" y1="388.9" x2="345.5" y2="388.9" stroke="#3a5a9a" stroke-width="0.8"/>
<line x1="343.1" y1="390.5" x2="345.5" y2="390.5" stroke="#3a5a9a" stroke-width="0.8"/>
<circle cx="352" cy="391.9" r="1.1" fill="#3a5a9a"/>
<line x1="352" y1="391.2" x2="352" y2="392.59999999999997" stroke="#3a5a9a" stroke-width="0.8"/>
<line x1="350.8" y1="391.2" x2="353.2" y2="391.2" stroke="#3a5a9a" stroke-width="0.8"/>
<line x1="350.8" y1="392.59999999999997" x2="353.2" y2="392.59999999999997" stroke="#3a5a9a" stroke-width="0.8"/>
<circle cx="359.2" cy="392.9" r="1.1" fill="#3a5a9a"/>
<circle cx="366.5" cy="393.8" r="1.1" fill="#3a5a9a"/>
<circle cx="374.0" cy="395.2" r="1.1" fill="#3a5a9a"/>
<circle cx="381.7" cy="396.1" r="1.1" fill="#3a5a9a"/>
<circle cx="388.6" cy="396.5" r="1.1" fill="#3a5a9a"/>
<circle cx="396.2" cy="396.6" r="1.1" fill="#3a5a9a"/>
<circle cx="403.6" cy="396.6" r="1.1" fill="#3a5a9a"/>
<circle cx="410.8" cy="396.7" r="1.1" fill="#3a5a9a"/>
<circle cx="417.8" cy="396.7" r="1.1" fill="#3a5a9a"/>
<circle cx="329.6" cy="380.3" r="1.1" fill="#a8123a"/>
<line x1="329.6" y1="376.3" x2="329.6" y2="384.3" stroke="#a8123a" stroke-width="0.8"/>
<line x1="328.40000000000003" y1="376.3" x2="330.8" y2="376.3" stroke="#a8123a" stroke-width="0.8"/>
<line x1="328.40000000000003" y1="384.3" x2="330.8" y2="384.3" stroke="#a8123a" stroke-width="0.8"/>
<circle cx="336.8" cy="387.6" r="1.1" fill="#a8123a"/>
<line x1="336.8" y1="385.40000000000003" x2="336.8" y2="389.8" stroke="#a8123a" stroke-width="0.8"/>
<line x1="335.6" y1="385.40000000000003" x2="338.0" y2="385.40000000000003" stroke="#a8123a" stroke-width="0.8"/>
<line x1="335.6" y1="389.8" x2="338.0" y2="389.8" stroke="#a8123a" stroke-width="0.8"/>
<circle cx="344.3" cy="389" r="1.1" fill="#a8123a"/>
<line x1="344.3" y1="386.8" x2="344.3" y2="391.2" stroke="#a8123a" stroke-width="0.8"/>
<line x1="343.1" y1="386.8" x2="345.5" y2="386.8" stroke="#a8123a" stroke-width="0.8"/>
<line x1="343.1" y1="391.2" x2="345.5" y2="391.2" stroke="#a8123a" stroke-width="0.8"/>
<circle cx="352" cy="389.7" r="1.1" fill="#a8123a"/>
<line x1="352" y1="387.5" x2="352" y2="391.9" stroke="#a8123a" stroke-width="0.8"/>
<line x1="350.8" y1="387.5" x2="353.2" y2="387.5" stroke="#a8123a" stroke-width="0.8"/>
<line x1="350.8" y1="391.9" x2="353.2" y2="391.9" stroke="#a8123a" stroke-width="0.8"/>
<circle cx="359.2" cy="390.5" r="1.1" fill="#a8123a"/>
<line x1="359.2" y1="388.3" x2="359.2" y2="392.7" stroke="#a8123a" stroke-width="0.8"/>
<line x1="358.0" y1="388.3" x2="360.4" y2="388.3" stroke="#a8123a" stroke-width="0.8"/>
<line x1="358.0" y1="392.7" x2="360.4" y2="392.7" stroke="#a8123a" stroke-width="0.8"/>
<circle cx="366.5" cy="391.2" r="1.1" fill="#a8123a"/>
<line x1="366.5" y1="389.0" x2="366.5" y2="393.4" stroke="#a8123a" stroke-width="0.8"/>
<line x1="365.3" y1="389.0" x2="367.7" y2="389.0" stroke="#a8123a" stroke-width="0.8"/>
<line x1="365.3" y1="393.4" x2="367.7" y2="393.4" stroke="#a8123a" stroke-width="0.8"/>
<circle cx="374.0" cy="392.6" r="1.1" fill="#a8123a"/>
<line x1="374.0" y1="390.40000000000003" x2="374.0" y2="394.8" stroke="#a8123a" stroke-width="0.8"/>
<line x1="372.8" y1="390.40000000000003" x2="375.2" y2="390.40000000000003" stroke="#a8123a" stroke-width="0.8"/>
<line x1="372.8" y1="394.8" x2="375.2" y2="394.8" stroke="#a8123a" stroke-width="0.8"/>
<circle cx="381.7" cy="393.0" r="1.1" fill="#a8123a"/>
<line x1="381.7" y1="390.8" x2="381.7" y2="395.2" stroke="#a8123a" stroke-width="0.8"/>
<line x1="380.5" y1="390.8" x2="382.9" y2="390.8" stroke="#a8123a" stroke-width="0.8"/>
<line x1="380.5" y1="395.2" x2="382.9" y2="395.2" stroke="#a8123a" stroke-width="0.8"/>
<circle cx="388.6" cy="392" r="1.1" fill="#a8123a"/>
<line x1="388.6" y1="389.5" x2="388.6" y2="394.5" stroke="#a8123a" stroke-width="0.8"/>
<line x1="387.40000000000003" y1="389.5" x2="389.8" y2="389.5" stroke="#a8123a" stroke-width="0.8"/>
<line x1="387.40000000000003" y1="394.5" x2="389.8" y2="394.5" stroke="#a8123a" stroke-width="0.8"/>
<circle cx="396.2" cy="393.2" r="1.1" fill="#a8123a"/>
<line x1="396.2" y1="390.7" x2="396.2" y2="395.7" stroke="#a8123a" stroke-width="0.8"/>
<line x1="395.0" y1="390.7" x2="397.4" y2="390.7" stroke="#a8123a" stroke-width="0.8"/>
<line x1="395.0" y1="395.7" x2="397.4" y2="395.7" stroke="#a8123a" stroke-width="0.8"/>
<circle cx="403.6" cy="392" r="1.1" fill="#a8123a"/>
<line x1="403.6" y1="389.2" x2="403.6" y2="394.8" stroke="#a8123a" stroke-width="0.8"/>
<line x1="402.40000000000003" y1="389.2" x2="404.8" y2="389.2" stroke="#a8123a" stroke-width="0.8"/>
<line x1="402.40000000000003" y1="394.8" x2="404.8" y2="394.8" stroke="#a8123a" stroke-width="0.8"/>
<circle cx="410.8" cy="392.6" r="1.1" fill="#a8123a"/>
<line x1="410.8" y1="389.8" x2="410.8" y2="395.40000000000003" stroke="#a8123a" stroke-width="0.8"/>
<line x1="409.6" y1="389.8" x2="412.0" y2="389.8" stroke="#a8123a" stroke-width="0.8"/>
<line x1="409.6" y1="395.40000000000003" x2="412.0" y2="395.40000000000003" stroke="#a8123a" stroke-width="0.8"/>
<circle cx="417.8" cy="393.2" r="1.1" fill="#a8123a"/>
<line x1="417.8" y1="390.4" x2="417.8" y2="396.0" stroke="#a8123a" stroke-width="0.8"/>
<line x1="416.6" y1="390.4" x2="419.0" y2="390.4" stroke="#a8123a" stroke-width="0.8"/>
<line x1="416.6" y1="396.0" x2="419.0" y2="396.0" stroke="#a8123a" stroke-width="0.8"/>
<circle cx="329.6" cy="380.8" r="1.1" fill="#111"/>
<line x1="329.6" y1="379.3" x2="329.6" y2="382.3" stroke="#111" stroke-width="0.8"/>
<line x1="328.40000000000003" y1="379.3" x2="330.8" y2="379.3" stroke="#111" stroke-width="0.8"/>
<line x1="328.40000000000003" y1="382.3" x2="330.8" y2="382.3" stroke="#111" stroke-width="0.8"/>
<circle cx="336.8" cy="378.9" r="1.1" fill="#111"/>
<line x1="336.8" y1="376.4" x2="336.8" y2="381.4" stroke="#111" stroke-width="0.8"/>
<line x1="335.6" y1="376.4" x2="338.0" y2="376.4" stroke="#111" stroke-width="0.8"/>
<line x1="335.6" y1="381.4" x2="338.0" y2="381.4" stroke="#111" stroke-width="0.8"/>
<circle cx="344.3" cy="370.2" r="1.1" fill="#111"/>
<line x1="344.3" y1="367.2" x2="344.3" y2="373.2" stroke="#111" stroke-width="0.8"/>
<line x1="343.1" y1="367.2" x2="345.5" y2="367.2" stroke="#111" stroke-width="0.8"/>
<line x1="343.1" y1="373.2" x2="345.5" y2="373.2" stroke="#111" stroke-width="0.8"/>
<circle cx="352" cy="368" r="1.1" fill="#111"/>
<line x1="352" y1="366" x2="352" y2="370" stroke="#111" stroke-width="0.8"/>
<line x1="350.8" y1="366" x2="353.2" y2="366" stroke="#111" stroke-width="0.8"/>
<line x1="350.8" y1="370" x2="353.2" y2="370" stroke="#111" stroke-width="0.8"/>
<circle cx="359.2" cy="365.1" r="1.1" fill="#111"/>
<line x1="359.2" y1="358.1" x2="359.2" y2="372.1" stroke="#111" stroke-width="0.8"/>
<line x1="358.0" y1="358.1" x2="360.4" y2="358.1" stroke="#111" stroke-width="0.8"/>
<line x1="358.0" y1="372.1" x2="360.4" y2="372.1" stroke="#111" stroke-width="0.8"/>
<circle cx="366.5" cy="374.1" r="1.1" fill="#111"/>
<line x1="366.5" y1="370.6" x2="366.5" y2="377.6" stroke="#111" stroke-width="0.8"/>
<line x1="365.3" y1="370.6" x2="367.7" y2="370.6" stroke="#111" stroke-width="0.8"/>
<line x1="365.3" y1="377.6" x2="367.7" y2="377.6" stroke="#111" stroke-width="0.8"/>
<circle cx="374.0" cy="377.5" r="1.1" fill="#111"/>
<line x1="374.0" y1="372.2" x2="374.0" y2="382.8" stroke="#111" stroke-width="0.8"/>
<line x1="372.8" y1="372.2" x2="375.2" y2="372.2" stroke="#111" stroke-width="0.8"/>
<line x1="372.8" y1="382.8" x2="375.2" y2="382.8" stroke="#111" stroke-width="0.8"/>
<circle cx="381.7" cy="374.5" r="1.1" fill="#111"/>
<line x1="381.7" y1="363.0" x2="381.7" y2="386.0" stroke="#111" stroke-width="0.8"/>
<line x1="380.5" y1="363.0" x2="382.9" y2="363.0" stroke="#111" stroke-width="0.8"/>
<line x1="380.5" y1="386.0" x2="382.9" y2="386.0" stroke="#111" stroke-width="0.8"/>
<circle cx="388.6" cy="390.5" r="1.1" fill="#111"/>
<line x1="388.6" y1="389.0" x2="388.6" y2="392.0" stroke="#111" stroke-width="0.8"/>
<line x1="387.40000000000003" y1="389.0" x2="389.8" y2="389.0" stroke="#111" stroke-width="0.8"/>
<line x1="387.40000000000003" y1="392.0" x2="389.8" y2="392.0" stroke="#111" stroke-width="0.8"/>
<circle cx="396.2" cy="385" r="1.1" fill="#111"/>
<line x1="396.2" y1="378.3" x2="396.2" y2="391.7" stroke="#111" stroke-width="0.8"/>
<line x1="395.0" y1="378.3" x2="397.4" y2="378.3" stroke="#111" stroke-width="0.8"/>
<line x1="395.0" y1="391.7" x2="397.4" y2="391.7" stroke="#111" stroke-width="0.8"/>
<circle cx="403.6" cy="388" r="1.1" fill="#111"/>
<line x1="403.6" y1="384.2" x2="403.6" y2="391.8" stroke="#111" stroke-width="0.8"/>
<line x1="402.40000000000003" y1="384.2" x2="404.8" y2="384.2" stroke="#111" stroke-width="0.8"/>
<line x1="402.40000000000003" y1="391.8" x2="404.8" y2="391.8" stroke="#111" stroke-width="0.8"/>
<circle cx="410.8" cy="392.6" r="1.1" fill="#111"/>
<line x1="410.8" y1="389.6" x2="410.8" y2="395.6" stroke="#111" stroke-width="0.8"/>
<line x1="409.6" y1="389.6" x2="412.0" y2="389.6" stroke="#111" stroke-width="0.8"/>
<line x1="409.6" y1="395.6" x2="412.0" y2="395.6" stroke="#111" stroke-width="0.8"/>
<circle cx="417.8" cy="393.2" r="1.1" fill="#111"/>
<line x1="417.8" y1="390.7" x2="417.8" y2="395.7" stroke="#111" stroke-width="0.8"/>
<line x1="416.6" y1="390.7" x2="419.0" y2="390.7" stroke="#111" stroke-width="0.8"/>
<line x1="416.6" y1="395.7" x2="419.0" y2="395.7" stroke="#111" stroke-width="0.8"/>
<circle cx="336.8" cy="360.1" r="0.85" fill="#111"/>
<circle cx="342.2" cy="352.8" r="0.85" fill="#111"/>
<circle cx="344.3" cy="352.8" r="0.85" fill="#111"/>
<circle cx="346.40000000000003" cy="352.8" r="0.85" fill="#111"/>
<circle cx="348.85" cy="348.1" r="0.85" fill="#111"/>
<circle cx="350.95" cy="348.1" r="0.85" fill="#111"/>
<circle cx="353.05" cy="348.1" r="0.85" fill="#111"/>
<circle cx="355.15" cy="348.1" r="0.85" fill="#111"/>
<circle cx="358.15" cy="351.4" r="0.85" fill="#111"/>
<circle cx="360.25" cy="351.4" r="0.85" fill="#111"/>
<circle cx="365.45" cy="358.2" r="0.85" fill="#111"/>
<circle cx="367.55" cy="358.2" r="0.85" fill="#111"/>
<circle cx="372.65" cy="356.6" r="0.85" fill="#111"/>
<circle cx="374.75" cy="356.6" r="0.85" fill="#111"/>
<circle cx="380.55" cy="358.2" r="0.85" fill="#111"/>
<circle cx="382.65000000000003" cy="358.2" r="0.85" fill="#111"/>
<line x1="393.8" y1="348.8" x2="401.3" y2="348.8" stroke="#111" stroke-width="1.2"/>
<circle cx="397.5" cy="348.8" r="1.0" fill="#111"/>
<text x="403.8" y="350.8" font-size="5.6" textLength="91.7" lengthAdjust="spacingAndGlyphs" fill="#111" stroke="#111" stroke-width="0.22">CD11c-Cre<tspan font-size="3.8" dy="-2.8">neg</tspan><tspan dy="2.8"> BM + FoxP3-luc</tspan><tspan font-size="3.8" dy="-2.8">+</tspan><tspan dy="2.8"> T</tspan></text>
<line x1="393.8" y1="358.3" x2="401.3" y2="358.3" stroke="#a8123a" stroke-width="1.2"/>
<circle cx="397.5" cy="358.3" r="1.0" fill="#a8123a"/>
<text x="403.8" y="360.3" font-size="5.6" textLength="93.2" lengthAdjust="spacingAndGlyphs" fill="#111" stroke="#111" stroke-width="0.22">I-A<tspan font-size="3.8" dy="-2.8">b</tspan><tspan dy="2.8">-CD11c-Cre</tspan><tspan font-size="3.8" dy="-2.8">pos</tspan><tspan dy="2.8"> BM + FoxP3-luc</tspan><tspan font-size="3.8" dy="-2.8">+</tspan><tspan dy="2.8"> T</tspan></text>
<line x1="393.8" y1="367" x2="401.3" y2="367" stroke="#3a5a9a" stroke-width="1.2"/>
<circle cx="397.5" cy="367" r="1.0" fill="#3a5a9a"/>
<text x="403.8" y="369" font-size="5.6" textLength="70" lengthAdjust="spacingAndGlyphs" fill="#111" stroke="#111" stroke-width="0.22">H2-Ab1<tspan font-size="3.8" dy="-2.8">-/-</tspan><tspan dy="2.8"> BM + FoxP3-luc</tspan><tspan font-size="3.8" dy="-2.8">+</tspan><tspan dy="2.8"> T</tspan></text>
<line x1="421.5" y1="36.3" x2="421.5" y2="89.6" stroke="#111" stroke-width="1.1"/>
<line x1="421.5" y1="89.1" x2="455.8" y2="89.1" stroke="#111" stroke-width="1.1"/>
<line x1="306.5" y1="166.5" x2="306.5" y2="219.5" stroke="#111" stroke-width="1.1"/>
<line x1="306.5" y1="219.0" x2="339.7" y2="219.0" stroke="#111" stroke-width="1.1"/>
<line x1="390.2" y1="167.2" x2="390.2" y2="219.7" stroke="#111" stroke-width="1.1"/>
<line x1="390.2" y1="219.2" x2="424.3" y2="219.2" stroke="#111" stroke-width="1.1"/>
<line x1="477.4" y1="166.5" x2="477.4" y2="219.7" stroke="#111" stroke-width="1.1"/>
<line x1="477.4" y1="219.2" x2="511.2" y2="219.2" stroke="#111" stroke-width="1.1"/>
<line x1="306.5" y1="251" x2="306.5" y2="303.7" stroke="#111" stroke-width="1.1"/>
<line x1="306.5" y1="303.2" x2="340.3" y2="303.2" stroke="#111" stroke-width="1.1"/>
<line x1="389.8" y1="251" x2="389.8" y2="303.7" stroke="#111" stroke-width="1.1"/>
<line x1="389.8" y1="303.2" x2="423.7" y2="303.2" stroke="#111" stroke-width="1.1"/>
<line x1="477.4" y1="251" x2="477.4" y2="303.7" stroke="#111" stroke-width="1.1"/>
<line x1="477.4" y1="303.2" x2="511.7" y2="303.2" stroke="#111" stroke-width="1.1"/>
<rect x="0.5" y="0.5" width="519" height="428" fill="none" stroke="#1a1a1a" stroke-width="1"/>
</svg>
</body></html>
